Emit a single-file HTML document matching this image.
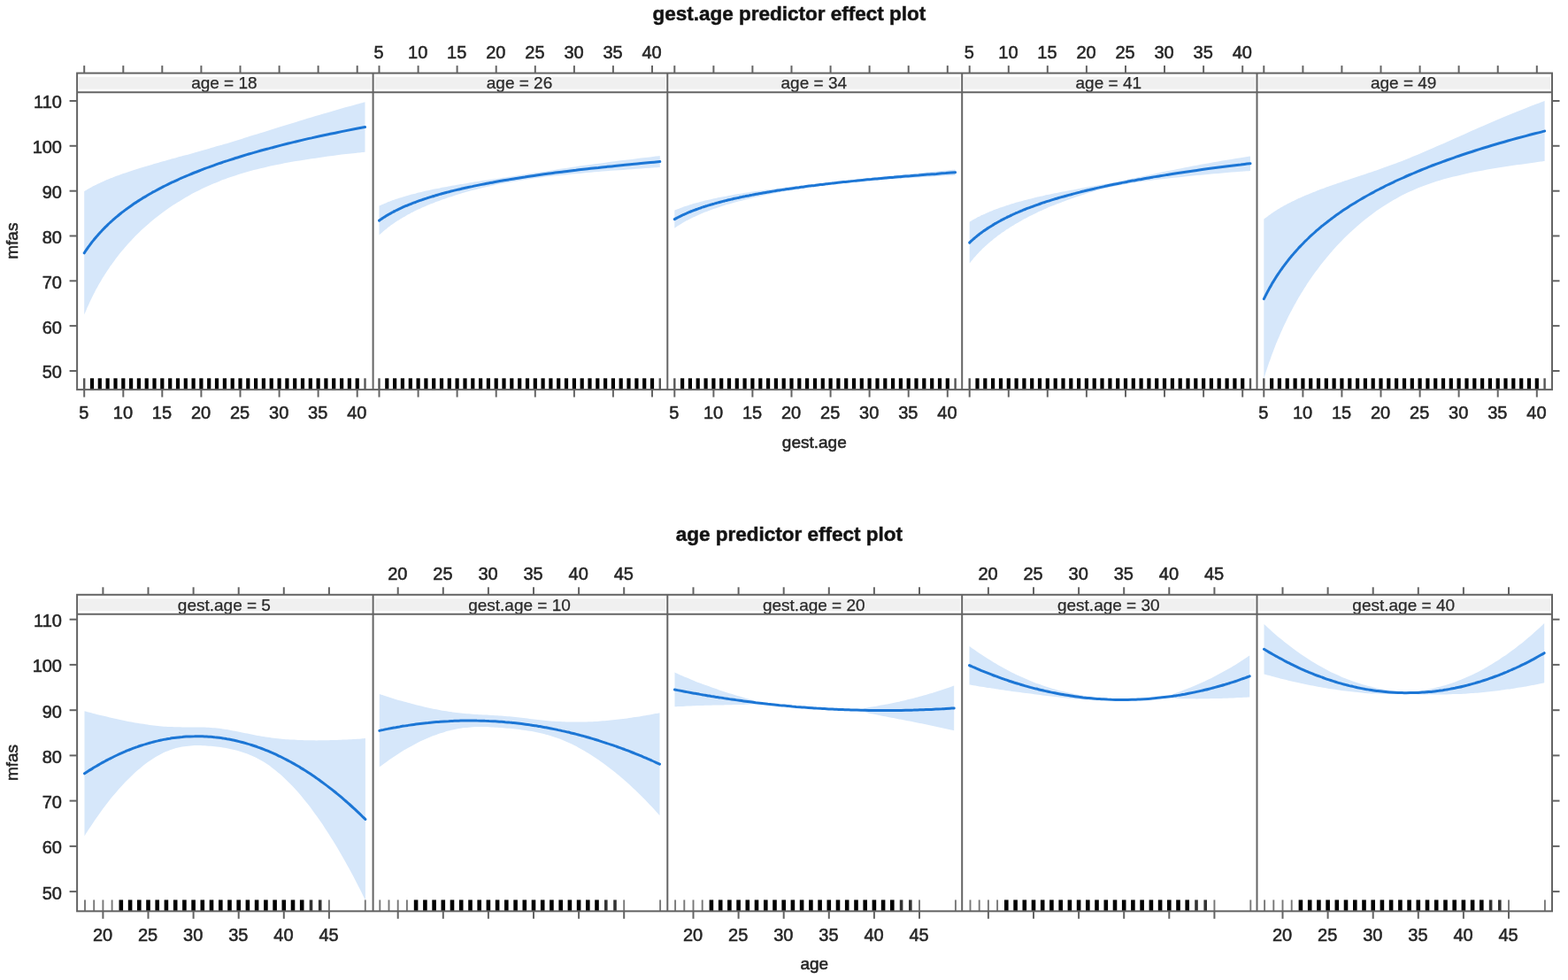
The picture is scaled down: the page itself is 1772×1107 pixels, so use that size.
<!DOCTYPE html><html><head><meta charset="utf-8"><title>effect plots</title><style>html,body{margin:0;padding:0;background:#fff}svg{display:block}text{font-family:"Liberation Sans",Arial,sans-serif;fill:#262626;stroke:#262626;stroke-width:0.55px}</style></head><body>
<div id="wrap">
<svg width="1772" height="1107" viewBox="0 0 1772 1107">
<rect width="1772" height="1107" fill="#fff"/>
<text x="891.8" y="22.5" text-anchor="middle" style="font-weight:bold;font-size:22.5px;fill:#111">gest.age predictor effect plot</text>
<rect x="89.1" y="87.1" width="330.5" height="13.6" fill="#f0f0f0"/>
<path d="M95.2,216.1 C95.4,216.0 96.1,215.6 96.6,215.3 C97.0,215.0 97.5,214.7 98.0,214.4 C98.4,214.1 98.9,213.9 99.4,213.6 C99.9,213.3 100.4,213.0 100.9,212.7 C101.4,212.4 101.9,212.1 102.5,211.9 C103.0,211.6 103.5,211.3 104.0,211.0 C104.6,210.7 105.1,210.4 105.7,210.1 C106.2,209.9 106.8,209.6 107.4,209.3 C107.9,209.0 108.5,208.7 109.1,208.4 C109.7,208.1 110.3,207.8 110.9,207.5 C111.5,207.2 112.1,207.0 112.8,206.7 C113.4,206.4 114.0,206.1 114.7,205.8 C115.3,205.5 116.0,205.2 116.6,204.9 C117.3,204.6 118.0,204.3 118.7,204.0 C119.4,203.7 120.1,203.4 120.8,203.1 C121.5,202.8 122.2,202.5 122.9,202.2 C123.6,201.9 124.4,201.6 125.1,201.3 C125.9,201.0 126.7,200.7 127.4,200.4 C128.2,200.1 129.0,199.8 129.8,199.5 C130.6,199.2 131.4,198.9 132.2,198.6 C133.1,198.3 133.9,198.0 134.7,197.7 C135.6,197.4 136.5,197.1 137.3,196.8 C138.2,196.4 139.1,196.1 140.0,195.8 C140.9,195.5 141.8,195.2 142.8,194.9 C143.7,194.6 144.6,194.2 145.6,193.9 C146.5,193.6 147.5,193.3 148.5,193.0 C149.5,192.6 150.5,192.3 151.5,192.0 C152.5,191.7 153.6,191.3 154.6,191.0 C155.7,190.7 156.8,190.3 157.8,190.0 C158.9,189.7 160.0,189.3 161.1,189.0 C162.3,188.7 163.4,188.3 164.6,188.0 C165.7,187.6 166.9,187.3 168.1,186.9 C169.3,186.6 170.5,186.2 171.7,185.9 C172.9,185.5 174.2,185.2 175.4,184.8 C176.7,184.5 178.0,184.1 179.3,183.7 C180.6,183.3 181.9,183.0 183.2,182.6 C184.6,182.2 185.9,181.8 187.3,181.5 C188.7,181.1 190.1,180.7 191.5,180.3 C193.0,179.9 194.4,179.5 195.9,179.1 C197.4,178.7 198.9,178.3 200.4,177.8 C201.9,177.4 203.4,177.0 205.0,176.6 C206.6,176.1 208.1,175.7 209.8,175.3 C211.4,174.8 213.0,174.4 214.7,173.9 C216.3,173.4 218.0,173.0 219.7,172.5 C221.4,172.0 223.2,171.5 225.0,171.0 C226.7,170.5 228.5,170.0 230.3,169.5 C232.2,169.0 234.0,168.5 235.9,167.9 C237.8,167.4 239.7,166.8 241.6,166.3 C243.5,165.7 245.5,165.1 247.5,164.6 C249.5,164.0 251.5,163.4 253.6,162.8 C255.6,162.2 257.7,161.5 259.9,160.9 C262.0,160.3 264.1,159.6 266.3,158.9 C268.5,158.3 270.7,157.6 273.0,156.9 C275.2,156.2 277.5,155.5 279.8,154.8 C282.2,154.1 284.5,153.3 286.9,152.6 C289.3,151.9 291.8,151.1 294.2,150.3 C296.7,149.6 299.2,148.8 301.8,148.0 C304.3,147.2 306.9,146.4 309.5,145.5 C312.1,144.7 314.8,143.9 317.5,143.1 C320.2,142.2 323.0,141.4 325.8,140.5 C328.6,139.6 331.4,138.8 334.3,137.9 C337.2,137.0 340.1,136.1 343.0,135.2 C346.0,134.3 349.0,133.4 352.1,132.5 C355.1,131.5 358.2,130.6 361.4,129.7 C364.6,128.7 367.8,127.8 371.0,126.9 C374.3,125.9 377.6,125.0 380.9,124.0 C384.3,123.0 387.7,122.1 391.1,121.1 C394.6,120.1 398.1,119.1 401.7,118.2 C405.2,117.2 410.7,115.7 412.5,115.2 L412.5,171.8 C410.7,172.0 405.2,172.5 401.7,172.9 C398.1,173.3 394.6,173.7 391.1,174.1 C387.7,174.5 384.3,174.9 380.9,175.3 C377.6,175.8 374.3,176.2 371.0,176.6 C367.8,177.0 364.6,177.5 361.4,177.9 C358.2,178.4 355.1,178.8 352.1,179.3 C349.0,179.7 346.0,180.2 343.0,180.7 C340.1,181.1 337.2,181.6 334.3,182.1 C331.4,182.6 328.6,183.1 325.8,183.6 C323.0,184.1 320.2,184.6 317.5,185.2 C314.8,185.7 312.1,186.2 309.5,186.8 C306.9,187.4 304.3,187.9 301.8,188.5 C299.2,189.1 296.7,189.7 294.2,190.3 C291.8,190.9 289.3,191.5 286.9,192.1 C284.5,192.7 282.2,193.4 279.8,194.0 C277.5,194.7 275.2,195.4 273.0,196.1 C270.7,196.7 268.5,197.4 266.3,198.2 C264.1,198.9 262.0,199.6 259.9,200.3 C257.7,201.1 255.6,201.8 253.6,202.6 C251.5,203.3 249.5,204.1 247.5,204.9 C245.5,205.7 243.5,206.5 241.6,207.3 C239.7,208.1 237.8,209.0 235.9,209.8 C234.0,210.6 232.2,211.5 230.3,212.3 C228.5,213.2 226.7,214.1 225.0,214.9 C223.2,215.8 221.4,216.7 219.7,217.6 C218.0,218.5 216.3,219.4 214.7,220.3 C213.0,221.2 211.4,222.2 209.8,223.1 C208.1,224.0 206.6,225.0 205.0,225.9 C203.4,226.8 201.9,227.8 200.4,228.8 C198.9,229.7 197.4,230.7 195.9,231.6 C194.4,232.6 193.0,233.6 191.5,234.6 C190.1,235.5 188.7,236.5 187.3,237.5 C185.9,238.5 184.6,239.5 183.2,240.5 C181.9,241.5 180.6,242.5 179.3,243.5 C178.0,244.5 176.7,245.5 175.4,246.5 C174.2,247.6 172.9,248.6 171.7,249.6 C170.5,250.6 169.3,251.6 168.1,252.7 C166.9,253.7 165.7,254.7 164.6,255.7 C163.4,256.8 162.3,257.8 161.1,258.8 C160.0,259.9 158.9,260.9 157.8,262.0 C156.8,263.0 155.7,264.0 154.6,265.1 C153.6,266.1 152.5,267.2 151.5,268.2 C150.5,269.3 149.5,270.3 148.5,271.4 C147.5,272.4 146.5,273.5 145.6,274.6 C144.6,275.6 143.7,276.7 142.8,277.7 C141.8,278.8 140.9,279.8 140.0,280.9 C139.1,282.0 138.2,283.0 137.3,284.1 C136.5,285.2 135.6,286.2 134.7,287.3 C133.9,288.4 133.1,289.4 132.2,290.5 C131.4,291.6 130.6,292.6 129.8,293.7 C129.0,294.8 128.2,295.9 127.4,296.9 C126.7,298.0 125.9,299.1 125.1,300.1 C124.4,301.2 123.6,302.3 122.9,303.4 C122.2,304.5 121.5,305.5 120.8,306.6 C120.1,307.7 119.4,308.8 118.7,309.8 C118.0,310.9 117.3,312.0 116.6,313.1 C116.0,314.2 115.3,315.2 114.7,316.3 C114.0,317.4 113.4,318.5 112.8,319.6 C112.1,320.7 111.5,321.7 110.9,322.8 C110.3,323.9 109.7,325.0 109.1,326.1 C108.5,327.2 107.9,328.2 107.4,329.3 C106.8,330.4 106.2,331.5 105.7,332.6 C105.1,333.7 104.6,334.8 104.0,335.9 C103.5,336.9 103.0,338.0 102.5,339.1 C101.9,340.2 101.4,341.3 100.9,342.4 C100.4,343.5 99.9,344.6 99.4,345.7 C98.9,346.7 98.4,347.8 98.0,348.9 C97.5,350.0 97.0,351.1 96.6,352.2 C96.1,353.3 95.4,354.9 95.2,355.5 Z" fill="#d6e7fa"/>
<path d="M95.2,285.8 C95.4,285.5 96.1,284.4 96.6,283.7 C97.0,283.1 97.5,282.4 98.0,281.7 C98.4,281.0 98.9,280.3 99.4,279.6 C99.9,278.9 100.4,278.2 100.9,277.6 C101.4,276.9 101.9,276.2 102.5,275.5 C103.0,274.8 103.5,274.1 104.0,273.4 C104.6,272.7 105.1,272.1 105.7,271.4 C106.2,270.7 106.8,270.0 107.4,269.3 C107.9,268.6 108.5,267.9 109.1,267.2 C109.7,266.6 110.3,265.9 110.9,265.2 C111.5,264.5 112.1,263.8 112.8,263.1 C113.4,262.4 114.0,261.7 114.7,261.1 C115.3,260.4 116.0,259.7 116.6,259.0 C117.3,258.3 118.0,257.6 118.7,256.9 C119.4,256.2 120.1,255.6 120.8,254.9 C121.5,254.2 122.2,253.5 122.9,252.8 C123.6,252.1 124.4,251.4 125.1,250.7 C125.9,250.1 126.7,249.4 127.4,248.7 C128.2,248.0 129.0,247.3 129.8,246.6 C130.6,245.9 131.4,245.2 132.2,244.6 C133.1,243.9 133.9,243.2 134.7,242.5 C135.6,241.8 136.5,241.1 137.3,240.4 C138.2,239.7 139.1,239.1 140.0,238.4 C140.9,237.7 141.8,237.0 142.8,236.3 C143.7,235.6 144.6,234.9 145.6,234.2 C146.5,233.6 147.5,232.9 148.5,232.2 C149.5,231.5 150.5,230.8 151.5,230.1 C152.5,229.4 153.6,228.7 154.6,228.1 C155.7,227.4 156.8,226.7 157.8,226.0 C158.9,225.3 160.0,224.6 161.1,223.9 C162.3,223.2 163.4,222.6 164.6,221.9 C165.7,221.2 166.9,220.5 168.1,219.8 C169.3,219.1 170.5,218.4 171.7,217.7 C172.9,217.0 174.2,216.4 175.4,215.7 C176.7,215.0 178.0,214.3 179.3,213.6 C180.6,212.9 181.9,212.2 183.2,211.5 C184.6,210.9 185.9,210.2 187.3,209.5 C188.7,208.8 190.1,208.1 191.5,207.4 C193.0,206.7 194.4,206.0 195.9,205.4 C197.4,204.7 198.9,204.0 200.4,203.3 C201.9,202.6 203.4,201.9 205.0,201.2 C206.6,200.5 208.1,199.9 209.8,199.2 C211.4,198.5 213.0,197.8 214.7,197.1 C216.3,196.4 218.0,195.7 219.7,195.0 C221.4,194.4 223.2,193.7 225.0,193.0 C226.7,192.3 228.5,191.6 230.3,190.9 C232.2,190.2 234.0,189.5 235.9,188.9 C237.8,188.2 239.7,187.5 241.6,186.8 C243.5,186.1 245.5,185.4 247.5,184.7 C249.5,184.0 251.5,183.4 253.6,182.7 C255.6,182.0 257.7,181.3 259.9,180.6 C262.0,179.9 264.1,179.2 266.3,178.5 C268.5,177.9 270.7,177.2 273.0,176.5 C275.2,175.8 277.5,175.1 279.8,174.4 C282.2,173.7 284.5,173.0 286.9,172.4 C289.3,171.7 291.8,171.0 294.2,170.3 C296.7,169.6 299.2,168.9 301.8,168.2 C304.3,167.5 306.9,166.9 309.5,166.2 C312.1,165.5 314.8,164.8 317.5,164.1 C320.2,163.4 323.0,162.7 325.8,162.0 C328.6,161.4 331.4,160.7 334.3,160.0 C337.2,159.3 340.1,158.6 343.0,157.9 C346.0,157.2 349.0,156.5 352.1,155.9 C355.1,155.2 358.2,154.5 361.4,153.8 C364.6,153.1 367.8,152.4 371.0,151.7 C374.3,151.0 377.6,150.4 380.9,149.7 C384.3,149.0 387.7,148.3 391.1,147.6 C394.6,146.9 398.1,146.2 401.7,145.5 C405.2,144.9 410.7,143.8 412.5,143.5" fill="none" stroke="#1c76d5" stroke-width="3" stroke-linecap="round" stroke-linejoin="round"/>
<line x1="95.2" y1="427.3" x2="95.2" y2="440.1" stroke="#555" stroke-width="2.4"/>
<line x1="104.0" y1="427.3" x2="104.0" y2="440.1" stroke="#000" stroke-width="4.2"/>
<line x1="112.8" y1="427.3" x2="112.8" y2="440.1" stroke="#000" stroke-width="4.2"/>
<line x1="121.6" y1="427.3" x2="121.6" y2="440.1" stroke="#000" stroke-width="4.2"/>
<line x1="130.5" y1="427.3" x2="130.5" y2="440.1" stroke="#000" stroke-width="4.2"/>
<line x1="139.3" y1="427.3" x2="139.3" y2="440.1" stroke="#000" stroke-width="4.2"/>
<line x1="148.1" y1="427.3" x2="148.1" y2="440.1" stroke="#000" stroke-width="4.2"/>
<line x1="156.9" y1="427.3" x2="156.9" y2="440.1" stroke="#000" stroke-width="4.2"/>
<line x1="165.7" y1="427.3" x2="165.7" y2="440.1" stroke="#000" stroke-width="4.2"/>
<line x1="174.5" y1="427.3" x2="174.5" y2="440.1" stroke="#000" stroke-width="4.2"/>
<line x1="183.3" y1="427.3" x2="183.3" y2="440.1" stroke="#000" stroke-width="4.2"/>
<line x1="192.2" y1="427.3" x2="192.2" y2="440.1" stroke="#000" stroke-width="4.2"/>
<line x1="201.0" y1="427.3" x2="201.0" y2="440.1" stroke="#000" stroke-width="4.2"/>
<line x1="209.8" y1="427.3" x2="209.8" y2="440.1" stroke="#000" stroke-width="4.2"/>
<line x1="218.6" y1="427.3" x2="218.6" y2="440.1" stroke="#000" stroke-width="4.2"/>
<line x1="227.4" y1="427.3" x2="227.4" y2="440.1" stroke="#000" stroke-width="4.2"/>
<line x1="236.2" y1="427.3" x2="236.2" y2="440.1" stroke="#000" stroke-width="4.2"/>
<line x1="245.0" y1="427.3" x2="245.0" y2="440.1" stroke="#000" stroke-width="4.2"/>
<line x1="253.9" y1="427.3" x2="253.9" y2="440.1" stroke="#000" stroke-width="4.2"/>
<line x1="262.7" y1="427.3" x2="262.7" y2="440.1" stroke="#000" stroke-width="4.2"/>
<line x1="271.5" y1="427.3" x2="271.5" y2="440.1" stroke="#000" stroke-width="4.2"/>
<line x1="280.3" y1="427.3" x2="280.3" y2="440.1" stroke="#000" stroke-width="4.2"/>
<line x1="289.1" y1="427.3" x2="289.1" y2="440.1" stroke="#000" stroke-width="4.2"/>
<line x1="297.9" y1="427.3" x2="297.9" y2="440.1" stroke="#000" stroke-width="4.2"/>
<line x1="306.7" y1="427.3" x2="306.7" y2="440.1" stroke="#000" stroke-width="4.2"/>
<line x1="315.6" y1="427.3" x2="315.6" y2="440.1" stroke="#000" stroke-width="4.2"/>
<line x1="324.4" y1="427.3" x2="324.4" y2="440.1" stroke="#000" stroke-width="4.2"/>
<line x1="333.2" y1="427.3" x2="333.2" y2="440.1" stroke="#000" stroke-width="4.2"/>
<line x1="342.0" y1="427.3" x2="342.0" y2="440.1" stroke="#000" stroke-width="4.2"/>
<line x1="350.8" y1="427.3" x2="350.8" y2="440.1" stroke="#000" stroke-width="4.2"/>
<line x1="359.6" y1="427.3" x2="359.6" y2="440.1" stroke="#000" stroke-width="4.2"/>
<line x1="368.4" y1="427.3" x2="368.4" y2="440.1" stroke="#000" stroke-width="4.2"/>
<line x1="377.2" y1="427.3" x2="377.2" y2="440.1" stroke="#000" stroke-width="4.2"/>
<line x1="386.1" y1="427.3" x2="386.1" y2="440.1" stroke="#000" stroke-width="4.2"/>
<line x1="394.9" y1="427.3" x2="394.9" y2="440.1" stroke="#000" stroke-width="4.2"/>
<line x1="403.7" y1="427.3" x2="403.7" y2="440.1" stroke="#000" stroke-width="4.2"/>
<line x1="412.5" y1="427.3" x2="412.5" y2="440.1" stroke="#555" stroke-width="2.4"/>
<text x="253.4" y="100.3" text-anchor="middle" style="font-size:19px;fill:#2a2a2a;stroke:#2a2a2a;stroke-width:0.25px">age = 18</text>
<rect x="423.6" y="87.1" width="328.7" height="13.6" fill="#f0f0f0"/>
<path d="M428.5,232.6 C428.7,232.5 429.4,232.2 429.9,232.0 C430.3,231.8 430.8,231.6 431.3,231.3 C431.7,231.1 432.2,230.9 432.7,230.7 C433.2,230.5 433.7,230.3 434.2,230.0 C434.7,229.8 435.2,229.6 435.8,229.4 C436.3,229.2 436.8,229.0 437.3,228.7 C437.9,228.5 438.4,228.3 439.0,228.1 C439.5,227.9 440.1,227.6 440.7,227.4 C441.2,227.2 441.8,227.0 442.4,226.8 C443.0,226.6 443.6,226.3 444.2,226.1 C444.8,225.9 445.4,225.7 446.1,225.5 C446.7,225.3 447.3,225.0 448.0,224.8 C448.6,224.6 449.3,224.4 449.9,224.2 C450.6,223.9 451.3,223.7 452.0,223.5 C452.7,223.3 453.4,223.1 454.1,222.9 C454.8,222.6 455.5,222.4 456.2,222.2 C456.9,222.0 457.7,221.8 458.4,221.5 C459.2,221.3 460.0,221.1 460.7,220.9 C461.5,220.7 462.3,220.4 463.1,220.2 C463.9,220.0 464.7,219.8 465.5,219.6 C466.4,219.3 467.2,219.1 468.0,218.9 C468.9,218.7 469.8,218.5 470.6,218.2 C471.5,218.0 472.4,217.8 473.3,217.6 C474.2,217.4 475.1,217.1 476.1,216.9 C477.0,216.7 477.9,216.5 478.9,216.3 C479.8,216.0 480.8,215.8 481.8,215.6 C482.8,215.4 483.8,215.1 484.8,214.9 C485.8,214.7 486.9,214.5 487.9,214.3 C489.0,214.0 490.1,213.8 491.1,213.6 C492.2,213.4 493.3,213.1 494.4,212.9 C495.6,212.7 496.7,212.5 497.9,212.2 C499.0,212.0 500.2,211.8 501.4,211.6 C502.6,211.3 503.8,211.1 505.0,210.9 C506.2,210.7 507.5,210.4 508.7,210.2 C510.0,210.0 511.3,209.7 512.6,209.5 C513.9,209.3 515.2,209.1 516.5,208.8 C517.9,208.6 519.2,208.4 520.6,208.1 C522.0,207.9 523.4,207.7 524.8,207.4 C526.3,207.2 527.7,207.0 529.2,206.7 C530.7,206.5 532.2,206.2 533.7,206.0 C535.2,205.8 536.7,205.5 538.3,205.3 C539.9,205.0 541.4,204.8 543.1,204.5 C544.7,204.3 546.3,204.0 548.0,203.8 C549.6,203.5 551.3,203.3 553.0,203.0 C554.7,202.8 556.5,202.5 558.3,202.2 C560.0,202.0 561.8,201.7 563.6,201.4 C565.5,201.2 567.3,200.9 569.2,200.6 C571.1,200.3 573.0,200.0 574.9,199.7 C576.8,199.5 578.8,199.2 580.8,198.9 C582.8,198.6 584.8,198.3 586.9,197.9 C588.9,197.6 591.0,197.3 593.2,197.0 C595.3,196.7 597.4,196.3 599.6,196.0 C601.8,195.7 604.0,195.3 606.3,195.0 C608.5,194.7 610.8,194.3 613.1,193.9 C615.5,193.6 617.8,193.2 620.2,192.9 C622.6,192.5 625.1,192.1 627.5,191.8 C630.0,191.4 632.5,191.0 635.1,190.6 C637.6,190.3 640.2,189.9 642.8,189.5 C645.4,189.1 648.1,188.7 650.8,188.3 C653.5,187.9 656.3,187.5 659.1,187.1 C661.9,186.8 664.7,186.4 667.6,186.0 C670.5,185.6 673.4,185.2 676.3,184.8 C679.3,184.4 682.3,183.9 685.4,183.5 C688.4,183.1 691.5,182.7 694.7,182.3 C697.9,181.9 701.1,181.5 704.3,181.1 C707.6,180.7 710.9,180.3 714.2,179.9 C717.6,179.5 721.0,179.0 724.4,178.6 C727.9,178.2 731.4,177.8 735.0,177.4 C738.5,177.0 744.0,176.4 745.8,176.1 L745.8,189.1 C744.0,189.2 738.5,189.5 735.0,189.8 C731.4,190.0 727.9,190.2 724.4,190.5 C721.0,190.7 717.6,190.9 714.2,191.2 C710.9,191.4 707.6,191.6 704.3,191.9 C701.1,192.1 697.9,192.3 694.7,192.6 C691.5,192.8 688.4,193.0 685.4,193.3 C682.3,193.5 679.3,193.7 676.3,194.0 C673.4,194.2 670.5,194.5 667.6,194.7 C664.7,194.9 661.9,195.2 659.1,195.4 C656.3,195.7 653.5,195.9 650.8,196.2 C648.1,196.4 645.4,196.7 642.8,196.9 C640.2,197.2 637.6,197.5 635.1,197.7 C632.5,198.0 630.0,198.3 627.5,198.5 C625.1,198.8 622.6,199.1 620.2,199.3 C617.8,199.6 615.5,199.9 613.1,200.2 C610.8,200.5 608.5,200.8 606.3,201.1 C604.0,201.4 601.8,201.7 599.6,202.0 C597.4,202.3 595.3,202.6 593.2,202.9 C591.0,203.3 588.9,203.6 586.9,203.9 C584.8,204.2 582.8,204.6 580.8,204.9 C578.8,205.3 576.8,205.6 574.9,206.0 C573.0,206.3 571.1,206.7 569.2,207.0 C567.3,207.4 565.5,207.8 563.6,208.1 C561.8,208.5 560.0,208.9 558.3,209.3 C556.5,209.6 554.7,210.0 553.0,210.4 C551.3,210.8 549.6,211.2 548.0,211.6 C546.3,212.0 544.7,212.3 543.1,212.7 C541.4,213.1 539.9,213.5 538.3,213.9 C536.7,214.3 535.2,214.7 533.7,215.1 C532.2,215.5 530.7,215.9 529.2,216.3 C527.7,216.7 526.3,217.1 524.8,217.6 C523.4,218.0 522.0,218.4 520.6,218.8 C519.2,219.2 517.9,219.6 516.5,220.0 C515.2,220.4 513.9,220.8 512.6,221.2 C511.3,221.7 510.0,222.1 508.7,222.5 C507.5,222.9 506.2,223.3 505.0,223.7 C503.8,224.1 502.6,224.6 501.4,225.0 C500.2,225.4 499.0,225.8 497.9,226.2 C496.7,226.6 495.6,227.1 494.4,227.5 C493.3,227.9 492.2,228.3 491.1,228.7 C490.1,229.2 489.0,229.6 487.9,230.0 C486.9,230.4 485.8,230.8 484.8,231.3 C483.8,231.7 482.8,232.1 481.8,232.5 C480.8,232.9 479.8,233.4 478.9,233.8 C477.9,234.2 477.0,234.6 476.1,235.0 C475.1,235.5 474.2,235.9 473.3,236.3 C472.4,236.7 471.5,237.1 470.6,237.6 C469.8,238.0 468.9,238.4 468.0,238.8 C467.2,239.3 466.4,239.7 465.5,240.1 C464.7,240.5 463.9,240.9 463.1,241.4 C462.3,241.8 461.5,242.2 460.7,242.6 C460.0,243.1 459.2,243.5 458.4,243.9 C457.7,244.3 456.9,244.8 456.2,245.2 C455.5,245.6 454.8,246.0 454.1,246.5 C453.4,246.9 452.7,247.3 452.0,247.7 C451.3,248.1 450.6,248.6 449.9,249.0 C449.3,249.4 448.6,249.8 448.0,250.3 C447.3,250.7 446.7,251.1 446.1,251.5 C445.4,252.0 444.8,252.4 444.2,252.8 C443.6,253.2 443.0,253.7 442.4,254.1 C441.8,254.5 441.2,254.9 440.7,255.4 C440.1,255.8 439.5,256.2 439.0,256.6 C438.4,257.1 437.9,257.5 437.3,257.9 C436.8,258.3 436.3,258.8 435.8,259.2 C435.2,259.6 434.7,260.0 434.2,260.5 C433.7,260.9 433.2,261.3 432.7,261.7 C432.2,262.2 431.7,262.6 431.3,263.0 C430.8,263.4 430.3,263.9 429.9,264.3 C429.4,264.7 428.7,265.4 428.5,265.6 Z" fill="#d6e7fa"/>
<path d="M428.5,249.1 C428.7,248.9 429.4,248.5 429.9,248.1 C430.3,247.8 430.8,247.5 431.3,247.2 C431.7,246.9 432.2,246.5 432.7,246.2 C433.2,245.9 433.7,245.6 434.2,245.3 C434.7,244.9 435.2,244.6 435.8,244.3 C436.3,244.0 436.8,243.6 437.3,243.3 C437.9,243.0 438.4,242.7 439.0,242.4 C439.5,242.0 440.1,241.7 440.7,241.4 C441.2,241.1 441.8,240.8 442.4,240.4 C443.0,240.1 443.6,239.8 444.2,239.5 C444.8,239.1 445.4,238.8 446.1,238.5 C446.7,238.2 447.3,237.9 448.0,237.5 C448.6,237.2 449.3,236.9 449.9,236.6 C450.6,236.3 451.3,235.9 452.0,235.6 C452.7,235.3 453.4,235.0 454.1,234.7 C454.8,234.3 455.5,234.0 456.2,233.7 C456.9,233.4 457.7,233.0 458.4,232.7 C459.2,232.4 460.0,232.1 460.7,231.8 C461.5,231.4 462.3,231.1 463.1,230.8 C463.9,230.5 464.7,230.2 465.5,229.8 C466.4,229.5 467.2,229.2 468.0,228.9 C468.9,228.6 469.8,228.2 470.6,227.9 C471.5,227.6 472.4,227.3 473.3,226.9 C474.2,226.6 475.1,226.3 476.1,226.0 C477.0,225.7 477.9,225.3 478.9,225.0 C479.8,224.7 480.8,224.4 481.8,224.1 C482.8,223.7 483.8,223.4 484.8,223.1 C485.8,222.8 486.9,222.4 487.9,222.1 C489.0,221.8 490.1,221.5 491.1,221.2 C492.2,220.8 493.3,220.5 494.4,220.2 C495.6,219.9 496.7,219.6 497.9,219.2 C499.0,218.9 500.2,218.6 501.4,218.3 C502.6,218.0 503.8,217.6 505.0,217.3 C506.2,217.0 507.5,216.7 508.7,216.3 C510.0,216.0 511.3,215.7 512.6,215.4 C513.9,215.1 515.2,214.7 516.5,214.4 C517.9,214.1 519.2,213.8 520.6,213.5 C522.0,213.1 523.4,212.8 524.8,212.5 C526.3,212.2 527.7,211.8 529.2,211.5 C530.7,211.2 532.2,210.9 533.7,210.6 C535.2,210.2 536.7,209.9 538.3,209.6 C539.9,209.3 541.4,209.0 543.1,208.6 C544.7,208.3 546.3,208.0 548.0,207.7 C549.6,207.4 551.3,207.0 553.0,206.7 C554.7,206.4 556.5,206.1 558.3,205.7 C560.0,205.4 561.8,205.1 563.6,204.8 C565.5,204.5 567.3,204.1 569.2,203.8 C571.1,203.5 573.0,203.2 574.9,202.9 C576.8,202.5 578.8,202.2 580.8,201.9 C582.8,201.6 584.8,201.2 586.9,200.9 C588.9,200.6 591.0,200.3 593.2,200.0 C595.3,199.6 597.4,199.3 599.6,199.0 C601.8,198.7 604.0,198.4 606.3,198.0 C608.5,197.7 610.8,197.4 613.1,197.1 C615.5,196.8 617.8,196.4 620.2,196.1 C622.6,195.8 625.1,195.5 627.5,195.1 C630.0,194.8 632.5,194.5 635.1,194.2 C637.6,193.9 640.2,193.5 642.8,193.2 C645.4,192.9 648.1,192.6 650.8,192.3 C653.5,191.9 656.3,191.6 659.1,191.3 C661.9,191.0 664.7,190.7 667.6,190.3 C670.5,190.0 673.4,189.7 676.3,189.4 C679.3,189.0 682.3,188.7 685.4,188.4 C688.4,188.1 691.5,187.8 694.7,187.4 C697.9,187.1 701.1,186.8 704.3,186.5 C707.6,186.2 710.9,185.8 714.2,185.5 C717.6,185.2 721.0,184.9 724.4,184.5 C727.9,184.2 731.4,183.9 735.0,183.6 C738.5,183.3 744.0,182.8 745.8,182.6" fill="none" stroke="#1c76d5" stroke-width="3" stroke-linecap="round" stroke-linejoin="round"/>
<line x1="428.5" y1="427.3" x2="428.5" y2="440.1" stroke="#555" stroke-width="2.4"/>
<line x1="437.3" y1="427.3" x2="437.3" y2="440.1" stroke="#000" stroke-width="4.2"/>
<line x1="446.1" y1="427.3" x2="446.1" y2="440.1" stroke="#000" stroke-width="4.2"/>
<line x1="454.9" y1="427.3" x2="454.9" y2="440.1" stroke="#000" stroke-width="4.2"/>
<line x1="463.8" y1="427.3" x2="463.8" y2="440.1" stroke="#000" stroke-width="4.2"/>
<line x1="472.6" y1="427.3" x2="472.6" y2="440.1" stroke="#000" stroke-width="4.2"/>
<line x1="481.4" y1="427.3" x2="481.4" y2="440.1" stroke="#000" stroke-width="4.2"/>
<line x1="490.2" y1="427.3" x2="490.2" y2="440.1" stroke="#000" stroke-width="4.2"/>
<line x1="499.0" y1="427.3" x2="499.0" y2="440.1" stroke="#000" stroke-width="4.2"/>
<line x1="507.8" y1="427.3" x2="507.8" y2="440.1" stroke="#000" stroke-width="4.2"/>
<line x1="516.6" y1="427.3" x2="516.6" y2="440.1" stroke="#000" stroke-width="4.2"/>
<line x1="525.5" y1="427.3" x2="525.5" y2="440.1" stroke="#000" stroke-width="4.2"/>
<line x1="534.3" y1="427.3" x2="534.3" y2="440.1" stroke="#000" stroke-width="4.2"/>
<line x1="543.1" y1="427.3" x2="543.1" y2="440.1" stroke="#000" stroke-width="4.2"/>
<line x1="551.9" y1="427.3" x2="551.9" y2="440.1" stroke="#000" stroke-width="4.2"/>
<line x1="560.7" y1="427.3" x2="560.7" y2="440.1" stroke="#000" stroke-width="4.2"/>
<line x1="569.5" y1="427.3" x2="569.5" y2="440.1" stroke="#000" stroke-width="4.2"/>
<line x1="578.3" y1="427.3" x2="578.3" y2="440.1" stroke="#000" stroke-width="4.2"/>
<line x1="587.2" y1="427.3" x2="587.2" y2="440.1" stroke="#000" stroke-width="4.2"/>
<line x1="596.0" y1="427.3" x2="596.0" y2="440.1" stroke="#000" stroke-width="4.2"/>
<line x1="604.8" y1="427.3" x2="604.8" y2="440.1" stroke="#000" stroke-width="4.2"/>
<line x1="613.6" y1="427.3" x2="613.6" y2="440.1" stroke="#000" stroke-width="4.2"/>
<line x1="622.4" y1="427.3" x2="622.4" y2="440.1" stroke="#000" stroke-width="4.2"/>
<line x1="631.2" y1="427.3" x2="631.2" y2="440.1" stroke="#000" stroke-width="4.2"/>
<line x1="640.0" y1="427.3" x2="640.0" y2="440.1" stroke="#000" stroke-width="4.2"/>
<line x1="648.9" y1="427.3" x2="648.9" y2="440.1" stroke="#000" stroke-width="4.2"/>
<line x1="657.7" y1="427.3" x2="657.7" y2="440.1" stroke="#000" stroke-width="4.2"/>
<line x1="666.5" y1="427.3" x2="666.5" y2="440.1" stroke="#000" stroke-width="4.2"/>
<line x1="675.3" y1="427.3" x2="675.3" y2="440.1" stroke="#000" stroke-width="4.2"/>
<line x1="684.1" y1="427.3" x2="684.1" y2="440.1" stroke="#000" stroke-width="4.2"/>
<line x1="692.9" y1="427.3" x2="692.9" y2="440.1" stroke="#000" stroke-width="4.2"/>
<line x1="701.7" y1="427.3" x2="701.7" y2="440.1" stroke="#000" stroke-width="4.2"/>
<line x1="710.5" y1="427.3" x2="710.5" y2="440.1" stroke="#000" stroke-width="4.2"/>
<line x1="719.4" y1="427.3" x2="719.4" y2="440.1" stroke="#000" stroke-width="4.2"/>
<line x1="728.2" y1="427.3" x2="728.2" y2="440.1" stroke="#000" stroke-width="4.2"/>
<line x1="737.0" y1="427.3" x2="737.0" y2="440.1" stroke="#000" stroke-width="4.2"/>
<line x1="745.8" y1="427.3" x2="745.8" y2="440.1" stroke="#555" stroke-width="2.4"/>
<text x="587.0" y="100.3" text-anchor="middle" style="font-size:19px;fill:#2a2a2a;stroke:#2a2a2a;stroke-width:0.25px">age = 26</text>
<rect x="756.3" y="87.1" width="328.9" height="13.6" fill="#f0f0f0"/>
<path d="M762.3,237.7 C762.5,237.6 763.2,237.3 763.7,237.1 C764.1,236.9 764.6,236.7 765.1,236.5 C765.5,236.3 766.0,236.1 766.5,235.9 C767.0,235.7 767.5,235.5 768.0,235.4 C768.5,235.2 769.0,235.0 769.6,234.8 C770.1,234.6 770.6,234.4 771.1,234.2 C771.7,234.0 772.2,233.8 772.8,233.6 C773.3,233.4 773.9,233.2 774.5,233.0 C775.0,232.8 775.6,232.6 776.2,232.4 C776.8,232.3 777.4,232.1 778.0,231.9 C778.6,231.7 779.2,231.5 779.9,231.3 C780.5,231.1 781.1,230.9 781.8,230.7 C782.4,230.5 783.1,230.3 783.7,230.1 C784.4,229.9 785.1,229.7 785.8,229.5 C786.5,229.3 787.2,229.1 787.9,229.0 C788.6,228.8 789.3,228.6 790.0,228.4 C790.7,228.2 791.5,228.0 792.2,227.8 C793.0,227.6 793.8,227.4 794.5,227.2 C795.3,227.0 796.1,226.8 796.9,226.6 C797.7,226.4 798.5,226.2 799.3,226.0 C800.2,225.8 801.0,225.6 801.8,225.5 C802.7,225.3 803.6,225.1 804.4,224.9 C805.3,224.7 806.2,224.5 807.1,224.3 C808.0,224.1 808.9,223.9 809.9,223.7 C810.8,223.5 811.7,223.3 812.7,223.1 C813.6,222.9 814.6,222.7 815.6,222.5 C816.6,222.3 817.6,222.1 818.6,221.9 C819.6,221.7 820.7,221.6 821.7,221.4 C822.8,221.2 823.9,221.0 824.9,220.8 C826.0,220.6 827.1,220.4 828.2,220.2 C829.4,220.0 830.5,219.8 831.7,219.6 C832.8,219.4 834.0,219.2 835.2,219.0 C836.4,218.8 837.6,218.6 838.8,218.4 C840.0,218.2 841.3,218.0 842.5,217.8 C843.8,217.6 845.1,217.4 846.4,217.2 C847.7,217.0 849.0,216.8 850.3,216.6 C851.7,216.4 853.0,216.3 854.4,216.1 C855.8,215.9 857.2,215.7 858.6,215.5 C860.1,215.3 861.5,215.1 863.0,214.9 C864.5,214.7 866.0,214.5 867.5,214.3 C869.0,214.1 870.5,213.9 872.1,213.7 C873.7,213.5 875.2,213.3 876.9,213.1 C878.5,212.9 880.1,212.7 881.8,212.5 C883.4,212.2 885.1,212.0 886.8,211.8 C888.5,211.6 890.3,211.4 892.1,211.2 C893.8,211.0 895.6,210.8 897.4,210.6 C899.3,210.4 901.1,210.2 903.0,210.0 C904.9,209.8 906.8,209.5 908.7,209.3 C910.6,209.1 912.6,208.9 914.6,208.7 C916.6,208.4 918.6,208.2 920.7,208.0 C922.7,207.8 924.8,207.5 927.0,207.3 C929.1,207.1 931.2,206.8 933.4,206.6 C935.6,206.3 937.8,206.1 940.1,205.8 C942.3,205.6 944.6,205.3 946.9,205.1 C949.3,204.8 951.6,204.5 954.0,204.3 C956.4,204.0 958.9,203.7 961.3,203.4 C963.8,203.2 966.3,202.9 968.9,202.6 C971.4,202.3 974.0,202.0 976.6,201.7 C979.2,201.4 981.9,201.1 984.6,200.9 C987.3,200.6 990.1,200.3 992.9,200.0 C995.7,199.7 998.5,199.4 1001.4,199.1 C1004.3,198.8 1007.2,198.5 1010.1,198.1 C1013.1,197.8 1016.1,197.5 1019.2,197.2 C1022.2,196.9 1025.3,196.6 1028.5,196.3 C1031.7,196.0 1034.9,195.7 1038.1,195.4 C1041.4,195.1 1044.7,194.8 1048.0,194.5 C1051.4,194.1 1054.8,193.8 1058.2,193.5 C1061.7,193.2 1065.2,192.9 1068.8,192.6 C1072.3,192.3 1077.8,191.8 1079.6,191.6 L1079.6,198.0 C1077.8,198.1 1072.3,198.4 1068.8,198.6 C1065.2,198.8 1061.7,199.0 1058.2,199.2 C1054.8,199.4 1051.4,199.6 1048.0,199.8 C1044.7,200.0 1041.4,200.2 1038.1,200.4 C1034.9,200.6 1031.7,200.8 1028.5,201.0 C1025.3,201.2 1022.2,201.4 1019.2,201.6 C1016.1,201.8 1013.1,202.0 1010.1,202.2 C1007.2,202.4 1004.3,202.6 1001.4,202.8 C998.5,203.0 995.7,203.3 992.9,203.5 C990.1,203.7 987.3,203.9 984.6,204.1 C981.9,204.3 979.2,204.5 976.6,204.8 C974.0,205.0 971.4,205.2 968.9,205.4 C966.3,205.7 963.8,205.9 961.3,206.1 C958.9,206.3 956.4,206.6 954.0,206.8 C951.6,207.1 949.3,207.3 946.9,207.6 C944.6,207.8 942.3,208.1 940.1,208.3 C937.8,208.6 935.6,208.8 933.4,209.1 C931.2,209.4 929.1,209.6 927.0,209.9 C924.8,210.2 922.7,210.5 920.7,210.8 C918.6,211.0 916.6,211.3 914.6,211.6 C912.6,211.9 910.6,212.2 908.7,212.5 C906.8,212.8 904.9,213.1 903.0,213.4 C901.1,213.7 899.3,214.0 897.4,214.3 C895.6,214.6 893.8,214.9 892.1,215.2 C890.3,215.5 888.5,215.8 886.8,216.1 C885.1,216.4 883.4,216.7 881.8,217.0 C880.1,217.3 878.5,217.6 876.9,218.0 C875.2,218.3 873.7,218.6 872.1,218.9 C870.5,219.2 869.0,219.5 867.5,219.8 C866.0,220.1 864.5,220.4 863.0,220.7 C861.5,221.1 860.1,221.4 858.6,221.7 C857.2,222.0 855.8,222.3 854.4,222.6 C853.0,222.9 851.7,223.2 850.3,223.6 C849.0,223.9 847.7,224.2 846.4,224.5 C845.1,224.8 843.8,225.1 842.5,225.4 C841.3,225.8 840.0,226.1 838.8,226.4 C837.6,226.7 836.4,227.0 835.2,227.3 C834.0,227.6 832.8,228.0 831.7,228.3 C830.5,228.6 829.4,228.9 828.2,229.2 C827.1,229.5 826.0,229.8 824.9,230.2 C823.9,230.5 822.8,230.8 821.7,231.1 C820.7,231.4 819.6,231.7 818.6,232.1 C817.6,232.4 816.6,232.7 815.6,233.0 C814.6,233.3 813.6,233.6 812.7,233.9 C811.7,234.3 810.8,234.6 809.9,234.9 C808.9,235.2 808.0,235.5 807.1,235.8 C806.2,236.2 805.3,236.5 804.4,236.8 C803.6,237.1 802.7,237.4 801.8,237.7 C801.0,238.1 800.2,238.4 799.3,238.7 C798.5,239.0 797.7,239.3 796.9,239.6 C796.1,240.0 795.3,240.3 794.5,240.6 C793.8,240.9 793.0,241.2 792.2,241.5 C791.5,241.8 790.7,242.2 790.0,242.5 C789.3,242.8 788.6,243.1 787.9,243.4 C787.2,243.7 786.5,244.1 785.8,244.4 C785.1,244.7 784.4,245.0 783.7,245.3 C783.1,245.6 782.4,246.0 781.8,246.3 C781.1,246.6 780.5,246.9 779.9,247.2 C779.2,247.5 778.6,247.9 778.0,248.2 C777.4,248.5 776.8,248.8 776.2,249.1 C775.6,249.4 775.0,249.8 774.5,250.1 C773.9,250.4 773.3,250.7 772.8,251.0 C772.2,251.3 771.7,251.7 771.1,252.0 C770.6,252.3 770.1,252.6 769.6,252.9 C769.0,253.2 768.5,253.6 768.0,253.9 C767.5,254.2 767.0,254.5 766.5,254.8 C766.0,255.1 765.5,255.5 765.1,255.8 C764.6,256.1 764.1,256.4 763.7,256.7 C763.2,257.1 762.5,257.5 762.3,257.7 Z" fill="#d6e7fa"/>
<path d="M762.3,247.7 C762.5,247.6 763.2,247.2 763.7,246.9 C764.1,246.7 764.6,246.4 765.1,246.2 C765.5,245.9 766.0,245.6 766.5,245.4 C767.0,245.1 767.5,244.9 768.0,244.6 C768.5,244.4 769.0,244.1 769.6,243.9 C770.1,243.6 770.6,243.3 771.1,243.1 C771.7,242.8 772.2,242.6 772.8,242.3 C773.3,242.1 773.9,241.8 774.5,241.6 C775.0,241.3 775.6,241.0 776.2,240.8 C776.8,240.5 777.4,240.3 778.0,240.0 C778.6,239.8 779.2,239.5 779.9,239.3 C780.5,239.0 781.1,238.7 781.8,238.5 C782.4,238.2 783.1,238.0 783.7,237.7 C784.4,237.5 785.1,237.2 785.8,237.0 C786.5,236.7 787.2,236.4 787.9,236.2 C788.6,235.9 789.3,235.7 790.0,235.4 C790.7,235.2 791.5,234.9 792.2,234.7 C793.0,234.4 793.8,234.1 794.5,233.9 C795.3,233.6 796.1,233.4 796.9,233.1 C797.7,232.9 798.5,232.6 799.3,232.4 C800.2,232.1 801.0,231.8 801.8,231.6 C802.7,231.3 803.6,231.1 804.4,230.8 C805.3,230.6 806.2,230.3 807.1,230.1 C808.0,229.8 808.9,229.6 809.9,229.3 C810.8,229.0 811.7,228.8 812.7,228.5 C813.6,228.3 814.6,228.0 815.6,227.8 C816.6,227.5 817.6,227.3 818.6,227.0 C819.6,226.7 820.7,226.5 821.7,226.2 C822.8,226.0 823.9,225.7 824.9,225.5 C826.0,225.2 827.1,225.0 828.2,224.7 C829.4,224.4 830.5,224.2 831.7,223.9 C832.8,223.7 834.0,223.4 835.2,223.2 C836.4,222.9 837.6,222.7 838.8,222.4 C840.0,222.1 841.3,221.9 842.5,221.6 C843.8,221.4 845.1,221.1 846.4,220.9 C847.7,220.6 849.0,220.4 850.3,220.1 C851.7,219.8 853.0,219.6 854.4,219.3 C855.8,219.1 857.2,218.8 858.6,218.6 C860.1,218.3 861.5,218.1 863.0,217.8 C864.5,217.5 866.0,217.3 867.5,217.0 C869.0,216.8 870.5,216.5 872.1,216.3 C873.7,216.0 875.2,215.8 876.9,215.5 C878.5,215.2 880.1,215.0 881.8,214.7 C883.4,214.5 885.1,214.2 886.8,214.0 C888.5,213.7 890.3,213.5 892.1,213.2 C893.8,213.0 895.6,212.7 897.4,212.4 C899.3,212.2 901.1,211.9 903.0,211.7 C904.9,211.4 906.8,211.2 908.7,210.9 C910.6,210.7 912.6,210.4 914.6,210.1 C916.6,209.9 918.6,209.6 920.7,209.4 C922.7,209.1 924.8,208.9 927.0,208.6 C929.1,208.4 931.2,208.1 933.4,207.8 C935.6,207.6 937.8,207.3 940.1,207.1 C942.3,206.8 944.6,206.6 946.9,206.3 C949.3,206.1 951.6,205.8 954.0,205.5 C956.4,205.3 958.9,205.0 961.3,204.8 C963.8,204.5 966.3,204.3 968.9,204.0 C971.4,203.8 974.0,203.5 976.6,203.2 C979.2,203.0 981.9,202.7 984.6,202.5 C987.3,202.2 990.1,202.0 992.9,201.7 C995.7,201.5 998.5,201.2 1001.4,200.9 C1004.3,200.7 1007.2,200.4 1010.1,200.2 C1013.1,199.9 1016.1,199.7 1019.2,199.4 C1022.2,199.2 1025.3,198.9 1028.5,198.7 C1031.7,198.4 1034.9,198.1 1038.1,197.9 C1041.4,197.6 1044.7,197.4 1048.0,197.1 C1051.4,196.9 1054.8,196.6 1058.2,196.4 C1061.7,196.1 1065.2,195.8 1068.8,195.6 C1072.3,195.3 1077.8,194.9 1079.6,194.8" fill="none" stroke="#1c76d5" stroke-width="3" stroke-linecap="round" stroke-linejoin="round"/>
<line x1="762.3" y1="427.3" x2="762.3" y2="440.1" stroke="#555" stroke-width="2.4"/>
<line x1="771.1" y1="427.3" x2="771.1" y2="440.1" stroke="#000" stroke-width="4.2"/>
<line x1="779.9" y1="427.3" x2="779.9" y2="440.1" stroke="#000" stroke-width="4.2"/>
<line x1="788.7" y1="427.3" x2="788.7" y2="440.1" stroke="#000" stroke-width="4.2"/>
<line x1="797.6" y1="427.3" x2="797.6" y2="440.1" stroke="#000" stroke-width="4.2"/>
<line x1="806.4" y1="427.3" x2="806.4" y2="440.1" stroke="#000" stroke-width="4.2"/>
<line x1="815.2" y1="427.3" x2="815.2" y2="440.1" stroke="#000" stroke-width="4.2"/>
<line x1="824.0" y1="427.3" x2="824.0" y2="440.1" stroke="#000" stroke-width="4.2"/>
<line x1="832.8" y1="427.3" x2="832.8" y2="440.1" stroke="#000" stroke-width="4.2"/>
<line x1="841.6" y1="427.3" x2="841.6" y2="440.1" stroke="#000" stroke-width="4.2"/>
<line x1="850.4" y1="427.3" x2="850.4" y2="440.1" stroke="#000" stroke-width="4.2"/>
<line x1="859.3" y1="427.3" x2="859.3" y2="440.1" stroke="#000" stroke-width="4.2"/>
<line x1="868.1" y1="427.3" x2="868.1" y2="440.1" stroke="#000" stroke-width="4.2"/>
<line x1="876.9" y1="427.3" x2="876.9" y2="440.1" stroke="#000" stroke-width="4.2"/>
<line x1="885.7" y1="427.3" x2="885.7" y2="440.1" stroke="#000" stroke-width="4.2"/>
<line x1="894.5" y1="427.3" x2="894.5" y2="440.1" stroke="#000" stroke-width="4.2"/>
<line x1="903.3" y1="427.3" x2="903.3" y2="440.1" stroke="#000" stroke-width="4.2"/>
<line x1="912.1" y1="427.3" x2="912.1" y2="440.1" stroke="#000" stroke-width="4.2"/>
<line x1="921.0" y1="427.3" x2="921.0" y2="440.1" stroke="#000" stroke-width="4.2"/>
<line x1="929.8" y1="427.3" x2="929.8" y2="440.1" stroke="#000" stroke-width="4.2"/>
<line x1="938.6" y1="427.3" x2="938.6" y2="440.1" stroke="#000" stroke-width="4.2"/>
<line x1="947.4" y1="427.3" x2="947.4" y2="440.1" stroke="#000" stroke-width="4.2"/>
<line x1="956.2" y1="427.3" x2="956.2" y2="440.1" stroke="#000" stroke-width="4.2"/>
<line x1="965.0" y1="427.3" x2="965.0" y2="440.1" stroke="#000" stroke-width="4.2"/>
<line x1="973.8" y1="427.3" x2="973.8" y2="440.1" stroke="#000" stroke-width="4.2"/>
<line x1="982.6" y1="427.3" x2="982.6" y2="440.1" stroke="#000" stroke-width="4.2"/>
<line x1="991.5" y1="427.3" x2="991.5" y2="440.1" stroke="#000" stroke-width="4.2"/>
<line x1="1000.3" y1="427.3" x2="1000.3" y2="440.1" stroke="#000" stroke-width="4.2"/>
<line x1="1009.1" y1="427.3" x2="1009.1" y2="440.1" stroke="#000" stroke-width="4.2"/>
<line x1="1017.9" y1="427.3" x2="1017.9" y2="440.1" stroke="#000" stroke-width="4.2"/>
<line x1="1026.7" y1="427.3" x2="1026.7" y2="440.1" stroke="#000" stroke-width="4.2"/>
<line x1="1035.5" y1="427.3" x2="1035.5" y2="440.1" stroke="#000" stroke-width="4.2"/>
<line x1="1044.3" y1="427.3" x2="1044.3" y2="440.1" stroke="#000" stroke-width="4.2"/>
<line x1="1053.2" y1="427.3" x2="1053.2" y2="440.1" stroke="#000" stroke-width="4.2"/>
<line x1="1062.0" y1="427.3" x2="1062.0" y2="440.1" stroke="#000" stroke-width="4.2"/>
<line x1="1070.8" y1="427.3" x2="1070.8" y2="440.1" stroke="#000" stroke-width="4.2"/>
<line x1="1079.6" y1="427.3" x2="1079.6" y2="440.1" stroke="#555" stroke-width="2.4"/>
<text x="919.8" y="100.3" text-anchor="middle" style="font-size:19px;fill:#2a2a2a;stroke:#2a2a2a;stroke-width:0.25px">age = 34</text>
<rect x="1089.2" y="87.1" width="329.3" height="13.6" fill="#f0f0f0"/>
<path d="M1095.7,250.7 C1095.9,250.5 1096.6,250.1 1097.1,249.8 C1097.5,249.6 1098.0,249.3 1098.5,249.0 C1098.9,248.7 1099.4,248.4 1099.9,248.1 C1100.4,247.9 1100.9,247.6 1101.4,247.3 C1101.9,247.0 1102.4,246.7 1103.0,246.4 C1103.5,246.2 1104.0,245.9 1104.5,245.6 C1105.1,245.3 1105.6,245.0 1106.2,244.8 C1106.7,244.5 1107.3,244.2 1107.9,243.9 C1108.4,243.6 1109.0,243.3 1109.6,243.1 C1110.2,242.8 1110.8,242.5 1111.4,242.2 C1112.0,241.9 1112.6,241.7 1113.3,241.4 C1113.9,241.1 1114.5,240.8 1115.2,240.5 C1115.8,240.2 1116.5,240.0 1117.1,239.7 C1117.8,239.4 1118.5,239.1 1119.2,238.8 C1119.9,238.5 1120.6,238.3 1121.3,238.0 C1122.0,237.7 1122.7,237.4 1123.4,237.1 C1124.1,236.8 1124.9,236.6 1125.6,236.3 C1126.4,236.0 1127.2,235.7 1127.9,235.4 C1128.7,235.2 1129.5,234.9 1130.3,234.6 C1131.1,234.3 1131.9,234.0 1132.7,233.7 C1133.6,233.5 1134.4,233.2 1135.2,232.9 C1136.1,232.6 1137.0,232.3 1137.8,232.0 C1138.7,231.8 1139.6,231.5 1140.5,231.2 C1141.4,230.9 1142.3,230.6 1143.3,230.3 C1144.2,230.1 1145.1,229.8 1146.1,229.5 C1147.0,229.2 1148.0,228.9 1149.0,228.6 C1150.0,228.3 1151.0,228.1 1152.0,227.8 C1153.0,227.5 1154.1,227.2 1155.1,226.9 C1156.2,226.6 1157.3,226.4 1158.3,226.1 C1159.4,225.8 1160.5,225.5 1161.6,225.2 C1162.8,224.9 1163.9,224.6 1165.1,224.4 C1166.2,224.1 1167.4,223.8 1168.6,223.5 C1169.8,223.2 1171.0,222.9 1172.2,222.6 C1173.4,222.4 1174.7,222.1 1175.9,221.8 C1177.2,221.5 1178.5,221.2 1179.8,220.9 C1181.1,220.6 1182.4,220.3 1183.7,220.1 C1185.1,219.8 1186.4,219.5 1187.8,219.2 C1189.2,218.9 1190.6,218.6 1192.0,218.3 C1193.5,218.0 1194.9,217.7 1196.4,217.4 C1197.9,217.2 1199.4,216.9 1200.9,216.6 C1202.4,216.3 1203.9,216.0 1205.5,215.7 C1207.1,215.4 1208.6,215.1 1210.3,214.8 C1211.9,214.5 1213.5,214.2 1215.2,213.9 C1216.8,213.6 1218.5,213.3 1220.2,213.0 C1221.9,212.7 1223.7,212.4 1225.5,212.1 C1227.2,211.7 1229.0,211.4 1230.8,211.1 C1232.7,210.8 1234.5,210.5 1236.4,210.1 C1238.3,209.8 1240.2,209.5 1242.1,209.1 C1244.0,208.8 1246.0,208.4 1248.0,208.1 C1250.0,207.7 1252.0,207.3 1254.1,206.9 C1256.1,206.5 1258.2,206.1 1260.4,205.7 C1262.5,205.3 1264.6,204.9 1266.8,204.4 C1269.0,204.0 1271.2,203.5 1273.5,203.0 C1275.7,202.6 1278.0,202.1 1280.3,201.6 C1282.7,201.1 1285.0,200.6 1287.4,200.1 C1289.8,199.5 1292.3,199.0 1294.7,198.5 C1297.2,197.9 1299.7,197.4 1302.3,196.9 C1304.8,196.3 1307.4,195.8 1310.0,195.2 C1312.6,194.7 1315.3,194.1 1318.0,193.6 C1320.7,193.0 1323.5,192.4 1326.3,191.9 C1329.1,191.3 1331.9,190.7 1334.8,190.2 C1337.7,189.6 1340.6,189.0 1343.5,188.5 C1346.5,187.9 1349.5,187.3 1352.6,186.8 C1355.6,186.2 1358.7,185.6 1361.9,185.1 C1365.1,184.5 1368.3,183.9 1371.5,183.3 C1374.8,182.8 1378.1,182.2 1381.4,181.6 C1384.8,181.0 1388.2,180.5 1391.6,179.9 C1395.1,179.3 1398.6,178.7 1402.2,178.2 C1405.7,177.6 1411.2,176.7 1413.0,176.4 L1413.0,192.9 C1411.2,193.0 1405.7,193.5 1402.2,193.7 C1398.6,194.0 1395.1,194.3 1391.6,194.6 C1388.2,194.9 1384.8,195.2 1381.4,195.5 C1378.1,195.8 1374.8,196.1 1371.5,196.3 C1368.3,196.6 1365.1,196.9 1361.9,197.2 C1358.7,197.5 1355.6,197.8 1352.6,198.1 C1349.5,198.4 1346.5,198.7 1343.5,199.0 C1340.6,199.3 1337.7,199.6 1334.8,199.9 C1331.9,200.2 1329.1,200.5 1326.3,200.8 C1323.5,201.1 1320.7,201.4 1318.0,201.7 C1315.3,202.0 1312.6,202.3 1310.0,202.6 C1307.4,202.9 1304.8,203.2 1302.3,203.6 C1299.7,203.9 1297.2,204.2 1294.7,204.5 C1292.3,204.9 1289.8,205.2 1287.4,205.6 C1285.0,205.9 1282.7,206.3 1280.3,206.6 C1278.0,207.0 1275.7,207.4 1273.5,207.8 C1271.2,208.1 1269.0,208.5 1266.8,209.0 C1264.6,209.4 1262.5,209.8 1260.4,210.3 C1258.2,210.7 1256.1,211.2 1254.1,211.6 C1252.0,212.1 1250.0,212.6 1248.0,213.1 C1246.0,213.6 1244.0,214.1 1242.1,214.6 C1240.2,215.2 1238.3,215.7 1236.4,216.2 C1234.5,216.8 1232.7,217.3 1230.8,217.8 C1229.0,218.4 1227.2,218.9 1225.5,219.5 C1223.7,220.0 1221.9,220.6 1220.2,221.2 C1218.5,221.7 1216.8,222.3 1215.2,222.8 C1213.5,223.4 1211.9,224.0 1210.3,224.5 C1208.6,225.1 1207.1,225.7 1205.5,226.2 C1203.9,226.8 1202.4,227.4 1200.9,227.9 C1199.4,228.5 1197.9,229.1 1196.4,229.7 C1194.9,230.2 1193.5,230.8 1192.0,231.4 C1190.6,231.9 1189.2,232.5 1187.8,233.1 C1186.4,233.7 1185.1,234.2 1183.7,234.8 C1182.4,235.4 1181.1,236.0 1179.8,236.5 C1178.5,237.1 1177.2,237.7 1175.9,238.3 C1174.7,238.9 1173.4,239.4 1172.2,240.0 C1171.0,240.6 1169.8,241.2 1168.6,241.7 C1167.4,242.3 1166.2,242.9 1165.1,243.5 C1163.9,244.1 1162.8,244.6 1161.6,245.2 C1160.5,245.8 1159.4,246.4 1158.3,247.0 C1157.3,247.5 1156.2,248.1 1155.1,248.7 C1154.1,249.3 1153.0,249.9 1152.0,250.4 C1151.0,251.0 1150.0,251.6 1149.0,252.2 C1148.0,252.8 1147.0,253.3 1146.1,253.9 C1145.1,254.5 1144.2,255.1 1143.3,255.7 C1142.3,256.2 1141.4,256.8 1140.5,257.4 C1139.6,258.0 1138.7,258.6 1137.8,259.1 C1137.0,259.7 1136.1,260.3 1135.2,260.9 C1134.4,261.5 1133.6,262.1 1132.7,262.6 C1131.9,263.2 1131.1,263.8 1130.3,264.4 C1129.5,265.0 1128.7,265.5 1127.9,266.1 C1127.2,266.7 1126.4,267.3 1125.6,267.9 C1124.9,268.4 1124.1,269.0 1123.4,269.6 C1122.7,270.2 1122.0,270.8 1121.3,271.4 C1120.6,271.9 1119.9,272.5 1119.2,273.1 C1118.5,273.7 1117.8,274.3 1117.1,274.8 C1116.5,275.4 1115.8,276.0 1115.2,276.6 C1114.5,277.2 1113.9,277.8 1113.3,278.3 C1112.6,278.9 1112.0,279.5 1111.4,280.1 C1110.8,280.7 1110.2,281.2 1109.6,281.8 C1109.0,282.4 1108.4,283.0 1107.9,283.6 C1107.3,284.2 1106.7,284.7 1106.2,285.3 C1105.6,285.9 1105.1,286.5 1104.5,287.1 C1104.0,287.6 1103.5,288.2 1103.0,288.8 C1102.4,289.4 1101.9,290.0 1101.4,290.6 C1100.9,291.1 1100.4,291.7 1099.9,292.3 C1099.4,292.9 1098.9,293.5 1098.5,294.1 C1098.0,294.6 1097.5,295.2 1097.1,295.8 C1096.6,296.4 1095.9,297.3 1095.7,297.5 Z" fill="#d6e7fa"/>
<path d="M1095.7,274.1 C1095.9,273.9 1096.6,273.3 1097.1,272.8 C1097.5,272.4 1098.0,272.0 1098.5,271.5 C1098.9,271.1 1099.4,270.7 1099.9,270.2 C1100.4,269.8 1100.9,269.4 1101.4,268.9 C1101.9,268.5 1102.4,268.1 1103.0,267.6 C1103.5,267.2 1104.0,266.8 1104.5,266.3 C1105.1,265.9 1105.6,265.5 1106.2,265.0 C1106.7,264.6 1107.3,264.2 1107.9,263.7 C1108.4,263.3 1109.0,262.9 1109.6,262.4 C1110.2,262.0 1110.8,261.6 1111.4,261.1 C1112.0,260.7 1112.6,260.3 1113.3,259.9 C1113.9,259.4 1114.5,259.0 1115.2,258.6 C1115.8,258.1 1116.5,257.7 1117.1,257.3 C1117.8,256.8 1118.5,256.4 1119.2,256.0 C1119.9,255.5 1120.6,255.1 1121.3,254.7 C1122.0,254.2 1122.7,253.8 1123.4,253.4 C1124.1,252.9 1124.9,252.5 1125.6,252.1 C1126.4,251.6 1127.2,251.2 1127.9,250.8 C1128.7,250.3 1129.5,249.9 1130.3,249.5 C1131.1,249.0 1131.9,248.6 1132.7,248.2 C1133.6,247.8 1134.4,247.3 1135.2,246.9 C1136.1,246.5 1137.0,246.0 1137.8,245.6 C1138.7,245.2 1139.6,244.7 1140.5,244.3 C1141.4,243.9 1142.3,243.4 1143.3,243.0 C1144.2,242.6 1145.1,242.1 1146.1,241.7 C1147.0,241.3 1148.0,240.8 1149.0,240.4 C1150.0,240.0 1151.0,239.5 1152.0,239.1 C1153.0,238.7 1154.1,238.2 1155.1,237.8 C1156.2,237.4 1157.3,236.9 1158.3,236.5 C1159.4,236.1 1160.5,235.7 1161.6,235.2 C1162.8,234.8 1163.9,234.4 1165.1,233.9 C1166.2,233.5 1167.4,233.1 1168.6,232.6 C1169.8,232.2 1171.0,231.8 1172.2,231.3 C1173.4,230.9 1174.7,230.5 1175.9,230.0 C1177.2,229.6 1178.5,229.2 1179.8,228.7 C1181.1,228.3 1182.4,227.9 1183.7,227.4 C1185.1,227.0 1186.4,226.6 1187.8,226.1 C1189.2,225.7 1190.6,225.3 1192.0,224.8 C1193.5,224.4 1194.9,224.0 1196.4,223.5 C1197.9,223.1 1199.4,222.7 1200.9,222.3 C1202.4,221.8 1203.9,221.4 1205.5,221.0 C1207.1,220.5 1208.6,220.1 1210.3,219.7 C1211.9,219.2 1213.5,218.8 1215.2,218.4 C1216.8,217.9 1218.5,217.5 1220.2,217.1 C1221.9,216.6 1223.7,216.2 1225.5,215.8 C1227.2,215.3 1229.0,214.9 1230.8,214.5 C1232.7,214.0 1234.5,213.6 1236.4,213.2 C1238.3,212.7 1240.2,212.3 1242.1,211.9 C1244.0,211.4 1246.0,211.0 1248.0,210.6 C1250.0,210.2 1252.0,209.7 1254.1,209.3 C1256.1,208.9 1258.2,208.4 1260.4,208.0 C1262.5,207.6 1264.6,207.1 1266.8,206.7 C1269.0,206.3 1271.2,205.8 1273.5,205.4 C1275.7,205.0 1278.0,204.5 1280.3,204.1 C1282.7,203.7 1285.0,203.2 1287.4,202.8 C1289.8,202.4 1292.3,201.9 1294.7,201.5 C1297.2,201.1 1299.7,200.6 1302.3,200.2 C1304.8,199.8 1307.4,199.3 1310.0,198.9 C1312.6,198.5 1315.3,198.1 1318.0,197.6 C1320.7,197.2 1323.5,196.8 1326.3,196.3 C1329.1,195.9 1331.9,195.5 1334.8,195.0 C1337.7,194.6 1340.6,194.2 1343.5,193.7 C1346.5,193.3 1349.5,192.9 1352.6,192.4 C1355.6,192.0 1358.7,191.6 1361.9,191.1 C1365.1,190.7 1368.3,190.3 1371.5,189.8 C1374.8,189.4 1378.1,189.0 1381.4,188.5 C1384.8,188.1 1388.2,187.7 1391.6,187.2 C1395.1,186.8 1398.6,186.4 1402.2,186.0 C1405.7,185.5 1411.2,184.9 1413.0,184.7" fill="none" stroke="#1c76d5" stroke-width="3" stroke-linecap="round" stroke-linejoin="round"/>
<line x1="1095.7" y1="427.3" x2="1095.7" y2="440.1" stroke="#555" stroke-width="2.4"/>
<line x1="1104.5" y1="427.3" x2="1104.5" y2="440.1" stroke="#000" stroke-width="4.2"/>
<line x1="1113.3" y1="427.3" x2="1113.3" y2="440.1" stroke="#000" stroke-width="4.2"/>
<line x1="1122.1" y1="427.3" x2="1122.1" y2="440.1" stroke="#000" stroke-width="4.2"/>
<line x1="1131.0" y1="427.3" x2="1131.0" y2="440.1" stroke="#000" stroke-width="4.2"/>
<line x1="1139.8" y1="427.3" x2="1139.8" y2="440.1" stroke="#000" stroke-width="4.2"/>
<line x1="1148.6" y1="427.3" x2="1148.6" y2="440.1" stroke="#000" stroke-width="4.2"/>
<line x1="1157.4" y1="427.3" x2="1157.4" y2="440.1" stroke="#000" stroke-width="4.2"/>
<line x1="1166.2" y1="427.3" x2="1166.2" y2="440.1" stroke="#000" stroke-width="4.2"/>
<line x1="1175.0" y1="427.3" x2="1175.0" y2="440.1" stroke="#000" stroke-width="4.2"/>
<line x1="1183.8" y1="427.3" x2="1183.8" y2="440.1" stroke="#000" stroke-width="4.2"/>
<line x1="1192.7" y1="427.3" x2="1192.7" y2="440.1" stroke="#000" stroke-width="4.2"/>
<line x1="1201.5" y1="427.3" x2="1201.5" y2="440.1" stroke="#000" stroke-width="4.2"/>
<line x1="1210.3" y1="427.3" x2="1210.3" y2="440.1" stroke="#000" stroke-width="4.2"/>
<line x1="1219.1" y1="427.3" x2="1219.1" y2="440.1" stroke="#000" stroke-width="4.2"/>
<line x1="1227.9" y1="427.3" x2="1227.9" y2="440.1" stroke="#000" stroke-width="4.2"/>
<line x1="1236.7" y1="427.3" x2="1236.7" y2="440.1" stroke="#000" stroke-width="4.2"/>
<line x1="1245.5" y1="427.3" x2="1245.5" y2="440.1" stroke="#000" stroke-width="4.2"/>
<line x1="1254.4" y1="427.3" x2="1254.4" y2="440.1" stroke="#000" stroke-width="4.2"/>
<line x1="1263.2" y1="427.3" x2="1263.2" y2="440.1" stroke="#000" stroke-width="4.2"/>
<line x1="1272.0" y1="427.3" x2="1272.0" y2="440.1" stroke="#000" stroke-width="4.2"/>
<line x1="1280.8" y1="427.3" x2="1280.8" y2="440.1" stroke="#000" stroke-width="4.2"/>
<line x1="1289.6" y1="427.3" x2="1289.6" y2="440.1" stroke="#000" stroke-width="4.2"/>
<line x1="1298.4" y1="427.3" x2="1298.4" y2="440.1" stroke="#000" stroke-width="4.2"/>
<line x1="1307.2" y1="427.3" x2="1307.2" y2="440.1" stroke="#000" stroke-width="4.2"/>
<line x1="1316.0" y1="427.3" x2="1316.0" y2="440.1" stroke="#000" stroke-width="4.2"/>
<line x1="1324.9" y1="427.3" x2="1324.9" y2="440.1" stroke="#000" stroke-width="4.2"/>
<line x1="1333.7" y1="427.3" x2="1333.7" y2="440.1" stroke="#000" stroke-width="4.2"/>
<line x1="1342.5" y1="427.3" x2="1342.5" y2="440.1" stroke="#000" stroke-width="4.2"/>
<line x1="1351.3" y1="427.3" x2="1351.3" y2="440.1" stroke="#000" stroke-width="4.2"/>
<line x1="1360.1" y1="427.3" x2="1360.1" y2="440.1" stroke="#000" stroke-width="4.2"/>
<line x1="1368.9" y1="427.3" x2="1368.9" y2="440.1" stroke="#000" stroke-width="4.2"/>
<line x1="1377.7" y1="427.3" x2="1377.7" y2="440.1" stroke="#000" stroke-width="4.2"/>
<line x1="1386.6" y1="427.3" x2="1386.6" y2="440.1" stroke="#000" stroke-width="4.2"/>
<line x1="1395.4" y1="427.3" x2="1395.4" y2="440.1" stroke="#000" stroke-width="4.2"/>
<line x1="1404.2" y1="427.3" x2="1404.2" y2="440.1" stroke="#000" stroke-width="4.2"/>
<line x1="1413.0" y1="427.3" x2="1413.0" y2="440.1" stroke="#555" stroke-width="2.4"/>
<text x="1252.8" y="100.3" text-anchor="middle" style="font-size:19px;fill:#2a2a2a;stroke:#2a2a2a;stroke-width:0.25px">age = 41</text>
<rect x="1422.5" y="87.1" width="329.5" height="13.6" fill="#f0f0f0"/>
<path d="M1428.3,247.7 C1428.5,247.5 1429.2,246.9 1429.7,246.6 C1430.1,246.2 1430.6,245.8 1431.1,245.5 C1431.5,245.1 1432.0,244.7 1432.5,244.4 C1433.0,244.0 1433.5,243.6 1434.0,243.3 C1434.5,242.9 1435.0,242.5 1435.6,242.2 C1436.1,241.8 1436.6,241.4 1437.1,241.0 C1437.7,240.7 1438.2,240.3 1438.8,239.9 C1439.3,239.6 1439.9,239.2 1440.5,238.8 C1441.0,238.4 1441.6,238.1 1442.2,237.7 C1442.8,237.3 1443.4,237.0 1444.0,236.6 C1444.6,236.2 1445.2,235.8 1445.9,235.5 C1446.5,235.1 1447.1,234.7 1447.8,234.3 C1448.4,234.0 1449.1,233.6 1449.7,233.2 C1450.4,232.8 1451.1,232.5 1451.8,232.1 C1452.5,231.7 1453.2,231.3 1453.9,230.9 C1454.6,230.6 1455.3,230.2 1456.0,229.8 C1456.7,229.4 1457.5,229.1 1458.2,228.7 C1459.0,228.3 1459.8,227.9 1460.5,227.5 C1461.3,227.1 1462.1,226.8 1462.9,226.4 C1463.7,226.0 1464.5,225.6 1465.3,225.2 C1466.2,224.8 1467.0,224.4 1467.8,224.1 C1468.7,223.7 1469.6,223.3 1470.4,222.9 C1471.3,222.5 1472.2,222.1 1473.1,221.7 C1474.0,221.3 1474.9,220.9 1475.9,220.5 C1476.8,220.2 1477.7,219.8 1478.7,219.4 C1479.6,219.0 1480.6,218.6 1481.6,218.2 C1482.6,217.8 1483.6,217.4 1484.6,217.0 C1485.6,216.6 1486.7,216.2 1487.7,215.7 C1488.8,215.3 1489.9,214.9 1490.9,214.5 C1492.0,214.1 1493.1,213.7 1494.2,213.3 C1495.4,212.9 1496.5,212.4 1497.7,212.0 C1498.8,211.6 1500.0,211.2 1501.2,210.8 C1502.4,210.3 1503.6,209.9 1504.8,209.5 C1506.0,209.0 1507.3,208.6 1508.5,208.2 C1509.8,207.7 1511.1,207.3 1512.4,206.8 C1513.7,206.4 1515.0,206.0 1516.3,205.5 C1517.7,205.0 1519.0,204.6 1520.4,204.1 C1521.8,203.7 1523.2,203.2 1524.6,202.7 C1526.1,202.2 1527.5,201.8 1529.0,201.3 C1530.5,200.8 1532.0,200.3 1533.5,199.8 C1535.0,199.3 1536.5,198.8 1538.1,198.2 C1539.7,197.7 1541.2,197.2 1542.9,196.7 C1544.5,196.1 1546.1,195.6 1547.8,195.0 C1549.4,194.5 1551.1,193.9 1552.8,193.3 C1554.5,192.7 1556.3,192.1 1558.1,191.5 C1559.8,190.9 1561.6,190.3 1563.4,189.6 C1565.3,189.0 1567.1,188.3 1569.0,187.6 C1570.9,186.9 1572.8,186.3 1574.7,185.5 C1576.6,184.8 1578.6,184.1 1580.6,183.3 C1582.6,182.5 1584.6,181.8 1586.7,181.0 C1588.7,180.1 1590.8,179.3 1593.0,178.5 C1595.1,177.6 1597.2,176.7 1599.4,175.8 C1601.6,174.9 1603.8,174.0 1606.1,173.0 C1608.3,172.1 1610.6,171.1 1612.9,170.1 C1615.3,169.1 1617.6,168.1 1620.0,167.0 C1622.4,165.9 1624.9,164.9 1627.3,163.8 C1629.8,162.7 1632.3,161.6 1634.9,160.4 C1637.4,159.3 1640.0,158.1 1642.6,157.0 C1645.2,155.8 1647.9,154.6 1650.6,153.4 C1653.3,152.2 1656.1,151.0 1658.9,149.7 C1661.7,148.5 1664.5,147.2 1667.4,146.0 C1670.3,144.7 1673.2,143.4 1676.1,142.2 C1679.1,140.9 1682.1,139.6 1685.2,138.3 C1688.2,137.0 1691.3,135.7 1694.5,134.3 C1697.7,133.0 1700.9,131.7 1704.1,130.3 C1707.4,129.0 1710.7,127.7 1714.0,126.3 C1717.4,125.0 1720.8,123.6 1724.2,122.2 C1727.7,120.9 1731.2,119.5 1734.8,118.1 C1738.3,116.8 1743.8,114.7 1745.6,114.0 L1745.6,182.1 C1743.8,182.3 1738.3,183.0 1734.8,183.5 C1731.2,183.9 1727.7,184.4 1724.2,184.9 C1720.8,185.3 1717.4,185.8 1714.0,186.3 C1710.7,186.8 1707.4,187.3 1704.1,187.7 C1700.9,188.2 1697.7,188.7 1694.5,189.3 C1691.3,189.8 1688.2,190.3 1685.2,190.8 C1682.1,191.3 1679.1,191.9 1676.1,192.4 C1673.2,193.0 1670.3,193.5 1667.4,194.1 C1664.5,194.7 1661.7,195.2 1658.9,195.8 C1656.1,196.4 1653.3,197.0 1650.6,197.7 C1647.9,198.3 1645.2,198.9 1642.6,199.6 C1640.0,200.3 1637.4,200.9 1634.9,201.6 C1632.3,202.3 1629.8,203.0 1627.3,203.8 C1624.9,204.5 1622.4,205.3 1620.0,206.0 C1617.6,206.8 1615.3,207.6 1612.9,208.5 C1610.6,209.3 1608.3,210.1 1606.1,211.0 C1603.8,211.9 1601.6,212.8 1599.4,213.7 C1597.2,214.6 1595.1,215.6 1593.0,216.6 C1590.8,217.5 1588.7,218.5 1586.7,219.6 C1584.6,220.6 1582.6,221.6 1580.6,222.7 C1578.6,223.8 1576.6,224.9 1574.7,226.0 C1572.8,227.1 1570.9,228.2 1569.0,229.4 C1567.1,230.5 1565.3,231.7 1563.4,232.9 C1561.6,234.1 1559.8,235.3 1558.1,236.5 C1556.3,237.7 1554.5,239.0 1552.8,240.2 C1551.1,241.5 1549.4,242.7 1547.8,244.0 C1546.1,245.3 1544.5,246.5 1542.9,247.8 C1541.2,249.1 1539.7,250.4 1538.1,251.7 C1536.5,253.1 1535.0,254.4 1533.5,255.7 C1532.0,257.0 1530.5,258.4 1529.0,259.7 C1527.5,261.1 1526.1,262.4 1524.6,263.8 C1523.2,265.1 1521.8,266.5 1520.4,267.8 C1519.0,269.2 1517.7,270.6 1516.3,272.0 C1515.0,273.3 1513.7,274.7 1512.4,276.1 C1511.1,277.5 1509.8,278.9 1508.5,280.3 C1507.3,281.7 1506.0,283.1 1504.8,284.5 C1503.6,285.9 1502.4,287.3 1501.2,288.7 C1500.0,290.1 1498.8,291.5 1497.7,292.9 C1496.5,294.3 1495.4,295.7 1494.2,297.2 C1493.1,298.6 1492.0,300.0 1490.9,301.4 C1489.9,302.8 1488.8,304.3 1487.7,305.7 C1486.7,307.1 1485.6,308.5 1484.6,310.0 C1483.6,311.4 1482.6,312.8 1481.6,314.3 C1480.6,315.7 1479.6,317.1 1478.7,318.6 C1477.7,320.0 1476.8,321.4 1475.9,322.9 C1474.9,324.3 1474.0,325.7 1473.1,327.2 C1472.2,328.6 1471.3,330.1 1470.4,331.5 C1469.6,332.9 1468.7,334.4 1467.8,335.8 C1467.0,337.3 1466.2,338.7 1465.3,340.2 C1464.5,341.6 1463.7,343.1 1462.9,344.5 C1462.1,346.0 1461.3,347.4 1460.5,348.9 C1459.8,350.3 1459.0,351.8 1458.2,353.2 C1457.5,354.7 1456.7,356.1 1456.0,357.6 C1455.3,359.0 1454.6,360.5 1453.9,361.9 C1453.2,363.4 1452.5,364.8 1451.8,366.3 C1451.1,367.7 1450.4,369.2 1449.7,370.7 C1449.1,372.1 1448.4,373.6 1447.8,375.0 C1447.1,376.5 1446.5,377.9 1445.9,379.4 C1445.2,380.9 1444.6,382.3 1444.0,383.8 C1443.4,385.2 1442.8,386.7 1442.2,388.1 C1441.6,389.6 1441.0,391.1 1440.5,392.5 C1439.9,394.0 1439.3,395.4 1438.8,396.9 C1438.2,398.4 1437.7,399.8 1437.1,401.3 C1436.6,402.8 1436.1,404.2 1435.6,405.7 C1435.0,407.1 1434.5,408.6 1434.0,410.1 C1433.5,411.5 1433.0,413.0 1432.5,414.5 C1432.0,415.9 1431.5,417.4 1431.1,418.8 C1430.6,420.3 1430.1,421.8 1429.7,423.2 C1429.2,424.7 1428.5,426.9 1428.3,427.6 Z" fill="#d6e7fa"/>
<path d="M1428.3,337.7 C1428.5,337.2 1429.2,335.8 1429.7,334.9 C1430.1,334.0 1430.6,333.1 1431.1,332.2 C1431.5,331.2 1432.0,330.3 1432.5,329.4 C1433.0,328.5 1433.5,327.6 1434.0,326.7 C1434.5,325.7 1435.0,324.8 1435.6,323.9 C1436.1,323.0 1436.6,322.1 1437.1,321.2 C1437.7,320.2 1438.2,319.3 1438.8,318.4 C1439.3,317.5 1439.9,316.6 1440.5,315.7 C1441.0,314.8 1441.6,313.8 1442.2,312.9 C1442.8,312.0 1443.4,311.1 1444.0,310.2 C1444.6,309.3 1445.2,308.3 1445.9,307.4 C1446.5,306.5 1447.1,305.6 1447.8,304.7 C1448.4,303.8 1449.1,302.8 1449.7,301.9 C1450.4,301.0 1451.1,300.1 1451.8,299.2 C1452.5,298.3 1453.2,297.4 1453.9,296.4 C1454.6,295.5 1455.3,294.6 1456.0,293.7 C1456.7,292.8 1457.5,291.9 1458.2,290.9 C1459.0,290.0 1459.8,289.1 1460.5,288.2 C1461.3,287.3 1462.1,286.4 1462.9,285.4 C1463.7,284.5 1464.5,283.6 1465.3,282.7 C1466.2,281.8 1467.0,280.9 1467.8,279.9 C1468.7,279.0 1469.6,278.1 1470.4,277.2 C1471.3,276.3 1472.2,275.4 1473.1,274.5 C1474.0,273.5 1474.9,272.6 1475.9,271.7 C1476.8,270.8 1477.7,269.9 1478.7,269.0 C1479.6,268.0 1480.6,267.1 1481.6,266.2 C1482.6,265.3 1483.6,264.4 1484.6,263.5 C1485.6,262.5 1486.7,261.6 1487.7,260.7 C1488.8,259.8 1489.9,258.9 1490.9,258.0 C1492.0,257.1 1493.1,256.1 1494.2,255.2 C1495.4,254.3 1496.5,253.4 1497.7,252.5 C1498.8,251.6 1500.0,250.6 1501.2,249.7 C1502.4,248.8 1503.6,247.9 1504.8,247.0 C1506.0,246.1 1507.3,245.1 1508.5,244.2 C1509.8,243.3 1511.1,242.4 1512.4,241.5 C1513.7,240.6 1515.0,239.6 1516.3,238.7 C1517.7,237.8 1519.0,236.9 1520.4,236.0 C1521.8,235.1 1523.2,234.2 1524.6,233.2 C1526.1,232.3 1527.5,231.4 1529.0,230.5 C1530.5,229.6 1532.0,228.7 1533.5,227.7 C1535.0,226.8 1536.5,225.9 1538.1,225.0 C1539.7,224.1 1541.2,223.2 1542.9,222.2 C1544.5,221.3 1546.1,220.4 1547.8,219.5 C1549.4,218.6 1551.1,217.7 1552.8,216.8 C1554.5,215.8 1556.3,214.9 1558.1,214.0 C1559.8,213.1 1561.6,212.2 1563.4,211.3 C1565.3,210.3 1567.1,209.4 1569.0,208.5 C1570.9,207.6 1572.8,206.7 1574.7,205.8 C1576.6,204.8 1578.6,203.9 1580.6,203.0 C1582.6,202.1 1584.6,201.2 1586.7,200.3 C1588.7,199.3 1590.8,198.4 1593.0,197.5 C1595.1,196.6 1597.2,195.7 1599.4,194.8 C1601.6,193.9 1603.8,192.9 1606.1,192.0 C1608.3,191.1 1610.6,190.2 1612.9,189.3 C1615.3,188.4 1617.6,187.4 1620.0,186.5 C1622.4,185.6 1624.9,184.7 1627.3,183.8 C1629.8,182.9 1632.3,181.9 1634.9,181.0 C1637.4,180.1 1640.0,179.2 1642.6,178.3 C1645.2,177.4 1647.9,176.4 1650.6,175.5 C1653.3,174.6 1656.1,173.7 1658.9,172.8 C1661.7,171.9 1664.5,171.0 1667.4,170.0 C1670.3,169.1 1673.2,168.2 1676.1,167.3 C1679.1,166.4 1682.1,165.5 1685.2,164.5 C1688.2,163.6 1691.3,162.7 1694.5,161.8 C1697.7,160.9 1700.9,160.0 1704.1,159.0 C1707.4,158.1 1710.7,157.2 1714.0,156.3 C1717.4,155.4 1720.8,154.5 1724.2,153.6 C1727.7,152.6 1731.2,151.7 1734.8,150.8 C1738.3,149.9 1743.8,148.5 1745.6,148.1" fill="none" stroke="#1c76d5" stroke-width="3" stroke-linecap="round" stroke-linejoin="round"/>
<line x1="1428.3" y1="427.3" x2="1428.3" y2="440.1" stroke="#555" stroke-width="2.4"/>
<line x1="1437.1" y1="427.3" x2="1437.1" y2="440.1" stroke="#000" stroke-width="4.2"/>
<line x1="1445.9" y1="427.3" x2="1445.9" y2="440.1" stroke="#000" stroke-width="4.2"/>
<line x1="1454.7" y1="427.3" x2="1454.7" y2="440.1" stroke="#000" stroke-width="4.2"/>
<line x1="1463.6" y1="427.3" x2="1463.6" y2="440.1" stroke="#000" stroke-width="4.2"/>
<line x1="1472.4" y1="427.3" x2="1472.4" y2="440.1" stroke="#000" stroke-width="4.2"/>
<line x1="1481.2" y1="427.3" x2="1481.2" y2="440.1" stroke="#000" stroke-width="4.2"/>
<line x1="1490.0" y1="427.3" x2="1490.0" y2="440.1" stroke="#000" stroke-width="4.2"/>
<line x1="1498.8" y1="427.3" x2="1498.8" y2="440.1" stroke="#000" stroke-width="4.2"/>
<line x1="1507.6" y1="427.3" x2="1507.6" y2="440.1" stroke="#000" stroke-width="4.2"/>
<line x1="1516.4" y1="427.3" x2="1516.4" y2="440.1" stroke="#000" stroke-width="4.2"/>
<line x1="1525.3" y1="427.3" x2="1525.3" y2="440.1" stroke="#000" stroke-width="4.2"/>
<line x1="1534.1" y1="427.3" x2="1534.1" y2="440.1" stroke="#000" stroke-width="4.2"/>
<line x1="1542.9" y1="427.3" x2="1542.9" y2="440.1" stroke="#000" stroke-width="4.2"/>
<line x1="1551.7" y1="427.3" x2="1551.7" y2="440.1" stroke="#000" stroke-width="4.2"/>
<line x1="1560.5" y1="427.3" x2="1560.5" y2="440.1" stroke="#000" stroke-width="4.2"/>
<line x1="1569.3" y1="427.3" x2="1569.3" y2="440.1" stroke="#000" stroke-width="4.2"/>
<line x1="1578.1" y1="427.3" x2="1578.1" y2="440.1" stroke="#000" stroke-width="4.2"/>
<line x1="1587.0" y1="427.3" x2="1587.0" y2="440.1" stroke="#000" stroke-width="4.2"/>
<line x1="1595.8" y1="427.3" x2="1595.8" y2="440.1" stroke="#000" stroke-width="4.2"/>
<line x1="1604.6" y1="427.3" x2="1604.6" y2="440.1" stroke="#000" stroke-width="4.2"/>
<line x1="1613.4" y1="427.3" x2="1613.4" y2="440.1" stroke="#000" stroke-width="4.2"/>
<line x1="1622.2" y1="427.3" x2="1622.2" y2="440.1" stroke="#000" stroke-width="4.2"/>
<line x1="1631.0" y1="427.3" x2="1631.0" y2="440.1" stroke="#000" stroke-width="4.2"/>
<line x1="1639.8" y1="427.3" x2="1639.8" y2="440.1" stroke="#000" stroke-width="4.2"/>
<line x1="1648.6" y1="427.3" x2="1648.6" y2="440.1" stroke="#000" stroke-width="4.2"/>
<line x1="1657.5" y1="427.3" x2="1657.5" y2="440.1" stroke="#000" stroke-width="4.2"/>
<line x1="1666.3" y1="427.3" x2="1666.3" y2="440.1" stroke="#000" stroke-width="4.2"/>
<line x1="1675.1" y1="427.3" x2="1675.1" y2="440.1" stroke="#000" stroke-width="4.2"/>
<line x1="1683.9" y1="427.3" x2="1683.9" y2="440.1" stroke="#000" stroke-width="4.2"/>
<line x1="1692.7" y1="427.3" x2="1692.7" y2="440.1" stroke="#000" stroke-width="4.2"/>
<line x1="1701.5" y1="427.3" x2="1701.5" y2="440.1" stroke="#000" stroke-width="4.2"/>
<line x1="1710.3" y1="427.3" x2="1710.3" y2="440.1" stroke="#000" stroke-width="4.2"/>
<line x1="1719.2" y1="427.3" x2="1719.2" y2="440.1" stroke="#000" stroke-width="4.2"/>
<line x1="1728.0" y1="427.3" x2="1728.0" y2="440.1" stroke="#000" stroke-width="4.2"/>
<line x1="1736.8" y1="427.3" x2="1736.8" y2="440.1" stroke="#000" stroke-width="4.2"/>
<line x1="1745.6" y1="427.3" x2="1745.6" y2="440.1" stroke="#555" stroke-width="2.4"/>
<text x="1586.2" y="100.3" text-anchor="middle" style="font-size:19px;fill:#2a2a2a;stroke:#2a2a2a;stroke-width:0.25px">age = 49</text>
<g stroke="#646464" stroke-width="2.0" fill="none">
<rect x="87.1" y="82.6" width="1666.9" height="357.5"/>
<line x1="87.1" y1="104.2" x2="1754.0" y2="104.2"/>
<line x1="421.6" y1="82.6" x2="421.6" y2="440.1"/>
<line x1="754.3" y1="82.6" x2="754.3" y2="440.1"/>
<line x1="1087.2" y1="82.6" x2="1087.2" y2="440.1"/>
<line x1="1420.5" y1="82.6" x2="1420.5" y2="440.1"/>
<line x1="78.6" y1="419.0" x2="87.1" y2="419.0"/>
<line x1="1754.0" y1="419.0" x2="1762.5" y2="419.0"/>
<line x1="78.6" y1="368.1" x2="87.1" y2="368.1"/>
<line x1="1754.0" y1="368.1" x2="1762.5" y2="368.1"/>
<line x1="78.6" y1="317.3" x2="87.1" y2="317.3"/>
<line x1="1754.0" y1="317.3" x2="1762.5" y2="317.3"/>
<line x1="78.6" y1="266.5" x2="87.1" y2="266.5"/>
<line x1="1754.0" y1="266.5" x2="1762.5" y2="266.5"/>
<line x1="78.6" y1="215.7" x2="87.1" y2="215.7"/>
<line x1="1754.0" y1="215.7" x2="1762.5" y2="215.7"/>
<line x1="78.6" y1="164.8" x2="87.1" y2="164.8"/>
<line x1="1754.0" y1="164.8" x2="1762.5" y2="164.8"/>
<line x1="78.6" y1="114.0" x2="87.1" y2="114.0"/>
<line x1="1754.0" y1="114.0" x2="1762.5" y2="114.0"/>
<line x1="95.2" y1="74.1" x2="95.2" y2="82.6"/>
<line x1="95.2" y1="440.1" x2="95.2" y2="448.6"/>
<line x1="139.3" y1="74.1" x2="139.3" y2="82.6"/>
<line x1="139.3" y1="440.1" x2="139.3" y2="448.6"/>
<line x1="183.3" y1="74.1" x2="183.3" y2="82.6"/>
<line x1="183.3" y1="440.1" x2="183.3" y2="448.6"/>
<line x1="227.4" y1="74.1" x2="227.4" y2="82.6"/>
<line x1="227.4" y1="440.1" x2="227.4" y2="448.6"/>
<line x1="271.5" y1="74.1" x2="271.5" y2="82.6"/>
<line x1="271.5" y1="440.1" x2="271.5" y2="448.6"/>
<line x1="315.6" y1="74.1" x2="315.6" y2="82.6"/>
<line x1="315.6" y1="440.1" x2="315.6" y2="448.6"/>
<line x1="359.6" y1="74.1" x2="359.6" y2="82.6"/>
<line x1="359.6" y1="440.1" x2="359.6" y2="448.6"/>
<line x1="403.7" y1="74.1" x2="403.7" y2="82.6"/>
<line x1="403.7" y1="440.1" x2="403.7" y2="448.6"/>
<line x1="428.5" y1="74.1" x2="428.5" y2="82.6"/>
<line x1="428.5" y1="440.1" x2="428.5" y2="448.6"/>
<line x1="472.6" y1="74.1" x2="472.6" y2="82.6"/>
<line x1="472.6" y1="440.1" x2="472.6" y2="448.6"/>
<line x1="516.6" y1="74.1" x2="516.6" y2="82.6"/>
<line x1="516.6" y1="440.1" x2="516.6" y2="448.6"/>
<line x1="560.7" y1="74.1" x2="560.7" y2="82.6"/>
<line x1="560.7" y1="440.1" x2="560.7" y2="448.6"/>
<line x1="604.8" y1="74.1" x2="604.8" y2="82.6"/>
<line x1="604.8" y1="440.1" x2="604.8" y2="448.6"/>
<line x1="648.9" y1="74.1" x2="648.9" y2="82.6"/>
<line x1="648.9" y1="440.1" x2="648.9" y2="448.6"/>
<line x1="692.9" y1="74.1" x2="692.9" y2="82.6"/>
<line x1="692.9" y1="440.1" x2="692.9" y2="448.6"/>
<line x1="737.0" y1="74.1" x2="737.0" y2="82.6"/>
<line x1="737.0" y1="440.1" x2="737.0" y2="448.6"/>
<line x1="762.3" y1="74.1" x2="762.3" y2="82.6"/>
<line x1="762.3" y1="440.1" x2="762.3" y2="448.6"/>
<line x1="806.4" y1="74.1" x2="806.4" y2="82.6"/>
<line x1="806.4" y1="440.1" x2="806.4" y2="448.6"/>
<line x1="850.4" y1="74.1" x2="850.4" y2="82.6"/>
<line x1="850.4" y1="440.1" x2="850.4" y2="448.6"/>
<line x1="894.5" y1="74.1" x2="894.5" y2="82.6"/>
<line x1="894.5" y1="440.1" x2="894.5" y2="448.6"/>
<line x1="938.6" y1="74.1" x2="938.6" y2="82.6"/>
<line x1="938.6" y1="440.1" x2="938.6" y2="448.6"/>
<line x1="982.6" y1="74.1" x2="982.6" y2="82.6"/>
<line x1="982.6" y1="440.1" x2="982.6" y2="448.6"/>
<line x1="1026.7" y1="74.1" x2="1026.7" y2="82.6"/>
<line x1="1026.7" y1="440.1" x2="1026.7" y2="448.6"/>
<line x1="1070.8" y1="74.1" x2="1070.8" y2="82.6"/>
<line x1="1070.8" y1="440.1" x2="1070.8" y2="448.6"/>
<line x1="1095.7" y1="74.1" x2="1095.7" y2="82.6"/>
<line x1="1095.7" y1="440.1" x2="1095.7" y2="448.6"/>
<line x1="1139.8" y1="74.1" x2="1139.8" y2="82.6"/>
<line x1="1139.8" y1="440.1" x2="1139.8" y2="448.6"/>
<line x1="1183.8" y1="74.1" x2="1183.8" y2="82.6"/>
<line x1="1183.8" y1="440.1" x2="1183.8" y2="448.6"/>
<line x1="1227.9" y1="74.1" x2="1227.9" y2="82.6"/>
<line x1="1227.9" y1="440.1" x2="1227.9" y2="448.6"/>
<line x1="1272.0" y1="74.1" x2="1272.0" y2="82.6"/>
<line x1="1272.0" y1="440.1" x2="1272.0" y2="448.6"/>
<line x1="1316.0" y1="74.1" x2="1316.0" y2="82.6"/>
<line x1="1316.0" y1="440.1" x2="1316.0" y2="448.6"/>
<line x1="1360.1" y1="74.1" x2="1360.1" y2="82.6"/>
<line x1="1360.1" y1="440.1" x2="1360.1" y2="448.6"/>
<line x1="1404.2" y1="74.1" x2="1404.2" y2="82.6"/>
<line x1="1404.2" y1="440.1" x2="1404.2" y2="448.6"/>
<line x1="1428.3" y1="74.1" x2="1428.3" y2="82.6"/>
<line x1="1428.3" y1="440.1" x2="1428.3" y2="448.6"/>
<line x1="1472.4" y1="74.1" x2="1472.4" y2="82.6"/>
<line x1="1472.4" y1="440.1" x2="1472.4" y2="448.6"/>
<line x1="1516.4" y1="74.1" x2="1516.4" y2="82.6"/>
<line x1="1516.4" y1="440.1" x2="1516.4" y2="448.6"/>
<line x1="1560.5" y1="74.1" x2="1560.5" y2="82.6"/>
<line x1="1560.5" y1="440.1" x2="1560.5" y2="448.6"/>
<line x1="1604.6" y1="74.1" x2="1604.6" y2="82.6"/>
<line x1="1604.6" y1="440.1" x2="1604.6" y2="448.6"/>
<line x1="1648.6" y1="74.1" x2="1648.6" y2="82.6"/>
<line x1="1648.6" y1="440.1" x2="1648.6" y2="448.6"/>
<line x1="1692.7" y1="74.1" x2="1692.7" y2="82.6"/>
<line x1="1692.7" y1="440.1" x2="1692.7" y2="448.6"/>
<line x1="1736.8" y1="74.1" x2="1736.8" y2="82.6"/>
<line x1="1736.8" y1="440.1" x2="1736.8" y2="448.6"/>
</g>
<text x="70" y="427.4" text-anchor="end" style="font-size:20px">50</text>
<text x="70" y="376.5" text-anchor="end" style="font-size:20px">60</text>
<text x="70" y="325.7" text-anchor="end" style="font-size:20px">70</text>
<text x="70" y="274.9" text-anchor="end" style="font-size:20px">80</text>
<text x="70" y="224.1" text-anchor="end" style="font-size:20px">90</text>
<text x="70" y="173.2" text-anchor="end" style="font-size:20px">100</text>
<text x="70" y="122.4" text-anchor="end" style="font-size:20px">110</text>
<text x="94.8" y="473.3" text-anchor="middle" style="font-size:20px">5</text>
<text x="138.9" y="473.3" text-anchor="middle" style="font-size:20px">10</text>
<text x="182.9" y="473.3" text-anchor="middle" style="font-size:20px">15</text>
<text x="227.0" y="473.3" text-anchor="middle" style="font-size:20px">20</text>
<text x="271.1" y="473.3" text-anchor="middle" style="font-size:20px">25</text>
<text x="315.2" y="473.3" text-anchor="middle" style="font-size:20px">30</text>
<text x="359.2" y="473.3" text-anchor="middle" style="font-size:20px">35</text>
<text x="403.3" y="473.3" text-anchor="middle" style="font-size:20px">40</text>
<text x="428.1" y="65.5" text-anchor="middle" style="font-size:20px">5</text>
<text x="472.2" y="65.5" text-anchor="middle" style="font-size:20px">10</text>
<text x="516.2" y="65.5" text-anchor="middle" style="font-size:20px">15</text>
<text x="560.3" y="65.5" text-anchor="middle" style="font-size:20px">20</text>
<text x="604.4" y="65.5" text-anchor="middle" style="font-size:20px">25</text>
<text x="648.5" y="65.5" text-anchor="middle" style="font-size:20px">30</text>
<text x="692.5" y="65.5" text-anchor="middle" style="font-size:20px">35</text>
<text x="736.6" y="65.5" text-anchor="middle" style="font-size:20px">40</text>
<text x="761.9" y="473.3" text-anchor="middle" style="font-size:20px">5</text>
<text x="806.0" y="473.3" text-anchor="middle" style="font-size:20px">10</text>
<text x="850.0" y="473.3" text-anchor="middle" style="font-size:20px">15</text>
<text x="894.1" y="473.3" text-anchor="middle" style="font-size:20px">20</text>
<text x="938.2" y="473.3" text-anchor="middle" style="font-size:20px">25</text>
<text x="982.2" y="473.3" text-anchor="middle" style="font-size:20px">30</text>
<text x="1026.3" y="473.3" text-anchor="middle" style="font-size:20px">35</text>
<text x="1070.4" y="473.3" text-anchor="middle" style="font-size:20px">40</text>
<text x="1095.3" y="65.5" text-anchor="middle" style="font-size:20px">5</text>
<text x="1139.4" y="65.5" text-anchor="middle" style="font-size:20px">10</text>
<text x="1183.4" y="65.5" text-anchor="middle" style="font-size:20px">15</text>
<text x="1227.5" y="65.5" text-anchor="middle" style="font-size:20px">20</text>
<text x="1271.6" y="65.5" text-anchor="middle" style="font-size:20px">25</text>
<text x="1315.6" y="65.5" text-anchor="middle" style="font-size:20px">30</text>
<text x="1359.7" y="65.5" text-anchor="middle" style="font-size:20px">35</text>
<text x="1403.8" y="65.5" text-anchor="middle" style="font-size:20px">40</text>
<text x="1427.9" y="473.3" text-anchor="middle" style="font-size:20px">5</text>
<text x="1472.0" y="473.3" text-anchor="middle" style="font-size:20px">10</text>
<text x="1516.0" y="473.3" text-anchor="middle" style="font-size:20px">15</text>
<text x="1560.1" y="473.3" text-anchor="middle" style="font-size:20px">20</text>
<text x="1604.2" y="473.3" text-anchor="middle" style="font-size:20px">25</text>
<text x="1648.2" y="473.3" text-anchor="middle" style="font-size:20px">30</text>
<text x="1692.3" y="473.3" text-anchor="middle" style="font-size:20px">35</text>
<text x="1736.4" y="473.3" text-anchor="middle" style="font-size:20px">40</text>
<text x="920.3" y="506.2" text-anchor="middle" style="font-size:19px">gest.age</text>
<text transform="translate(19.8,272.2) rotate(-90)" text-anchor="middle" style="font-size:19px">mfas</text>
<text x="891.8" y="611.3" text-anchor="middle" style="font-weight:bold;font-size:22.5px;fill:#111">age predictor effect plot</text>
<rect x="89.1" y="676.3" width="330.5" height="14.0" fill="#f0f0f0"/>
<path d="M95.5,803.2 C96.3,803.4 98.6,804.1 100.1,804.5 C101.6,804.9 103.2,805.3 104.7,805.7 C106.2,806.1 107.8,806.5 109.3,806.9 C110.8,807.3 112.4,807.6 113.9,808.0 C115.4,808.4 117.0,808.8 118.5,809.1 C120.0,809.5 121.6,809.9 123.1,810.2 C124.6,810.6 126.2,810.9 127.7,811.3 C129.2,811.6 130.8,812.0 132.3,812.3 C133.8,812.6 135.4,813.0 136.9,813.3 C138.4,813.6 140.0,813.9 141.5,814.2 C143.0,814.6 144.6,814.9 146.1,815.2 C147.6,815.4 149.2,815.7 150.7,816.0 C152.2,816.3 153.8,816.6 155.3,816.8 C156.8,817.1 158.4,817.3 159.9,817.6 C161.4,817.8 163.0,818.1 164.5,818.3 C166.0,818.5 167.6,818.7 169.1,818.9 C170.6,819.2 172.2,819.3 173.7,819.5 C175.2,819.7 176.8,819.9 178.3,820.0 C179.8,820.2 181.4,820.3 182.9,820.5 C184.4,820.6 186.0,820.7 187.5,820.8 C189.0,820.9 190.6,821.0 192.1,821.1 C193.6,821.1 195.2,821.2 196.7,821.2 C198.2,821.3 199.8,821.3 201.3,821.3 C202.8,821.4 204.4,821.4 205.9,821.4 C207.4,821.4 209.0,821.4 210.5,821.4 C212.0,821.4 213.6,821.4 215.1,821.4 C216.6,821.4 218.2,821.4 219.7,821.4 C221.2,821.4 222.8,821.4 224.3,821.4 C225.8,821.4 227.4,821.4 228.9,821.5 C230.4,821.5 232.0,821.6 233.5,821.7 C235.0,821.7 236.6,821.8 238.1,821.9 C239.6,822.1 241.2,822.2 242.7,822.3 C244.2,822.5 245.8,822.6 247.3,822.8 C248.8,823.0 250.4,823.2 251.9,823.4 C253.4,823.6 255.0,823.9 256.5,824.1 C258.0,824.4 259.6,824.6 261.1,824.9 C262.6,825.2 264.2,825.5 265.7,825.8 C267.2,826.1 268.8,826.4 270.3,826.7 C271.8,827.0 273.4,827.3 274.9,827.7 C276.4,828.0 278.0,828.3 279.5,828.6 C281.0,828.9 282.6,829.3 284.1,829.6 C285.6,829.9 287.2,830.2 288.7,830.5 C290.2,830.8 291.8,831.1 293.3,831.3 C294.8,831.6 296.4,831.9 297.9,832.1 C299.4,832.4 301.0,832.6 302.5,832.8 C304.0,833.0 305.6,833.3 307.1,833.5 C308.6,833.7 310.2,833.8 311.7,834.0 C313.2,834.2 314.8,834.3 316.3,834.5 C317.8,834.6 319.4,834.8 320.9,834.9 C322.4,835.0 324.0,835.2 325.5,835.3 C327.0,835.4 328.6,835.5 330.1,835.6 C331.6,835.7 333.2,835.7 334.7,835.8 C336.2,835.9 337.8,836.0 339.3,836.0 C340.8,836.1 342.4,836.1 343.9,836.2 C345.4,836.2 347.0,836.2 348.5,836.3 C350.0,836.3 351.6,836.3 353.1,836.3 C354.6,836.3 356.2,836.4 357.7,836.4 C359.2,836.4 360.8,836.4 362.3,836.3 C363.8,836.3 365.4,836.3 366.9,836.3 C368.4,836.3 370.0,836.2 371.5,836.2 C373.0,836.2 374.6,836.1 376.1,836.1 C377.6,836.1 379.2,836.0 380.7,836.0 C382.2,835.9 383.8,835.8 385.3,835.8 C386.8,835.7 388.4,835.6 389.9,835.6 C391.4,835.5 393.0,835.4 394.5,835.3 C396.0,835.3 397.6,835.2 399.1,835.1 C400.6,835.0 402.2,834.9 403.7,834.8 C405.2,834.7 406.8,834.6 408.3,834.5 C409.8,834.3 412.1,834.2 412.9,834.1 L412.9,1016.8 C412.1,1015.3 409.8,1010.6 408.3,1007.5 C406.8,1004.4 405.2,1001.4 403.7,998.4 C402.2,995.5 400.6,992.5 399.1,989.6 C397.6,986.7 396.0,983.9 394.5,981.0 C393.0,978.2 391.4,975.5 389.9,972.7 C388.4,970.0 386.8,967.3 385.3,964.7 C383.8,962.0 382.2,959.4 380.7,956.8 C379.2,954.3 377.6,951.7 376.1,949.3 C374.6,946.8 373.0,944.3 371.5,941.9 C370.0,939.5 368.4,937.2 366.9,934.9 C365.4,932.6 363.8,930.3 362.3,928.1 C360.8,925.8 359.2,923.6 357.7,921.5 C356.2,919.4 354.6,917.3 353.1,915.2 C351.6,913.1 350.0,911.1 348.5,909.1 C347.0,907.2 345.4,905.2 343.9,903.4 C342.4,901.5 340.8,899.6 339.3,897.8 C337.8,896.0 336.2,894.3 334.7,892.6 C333.2,890.9 331.6,889.2 330.1,887.6 C328.6,886.0 327.0,884.4 325.5,882.9 C324.0,881.4 322.4,879.9 320.9,878.5 C319.4,877.0 317.8,875.6 316.3,874.3 C314.8,873.0 313.2,871.7 311.7,870.4 C310.2,869.2 308.6,868.0 307.1,866.9 C305.6,865.7 304.0,864.6 302.5,863.6 C301.0,862.5 299.4,861.5 297.9,860.6 C296.4,859.7 294.8,858.8 293.3,857.9 C291.8,857.1 290.2,856.3 288.7,855.5 C287.2,854.8 285.6,854.0 284.1,853.4 C282.6,852.7 281.0,852.1 279.5,851.5 C278.0,850.9 276.4,850.4 274.9,849.9 C273.4,849.4 271.8,848.9 270.3,848.5 C268.8,848.0 267.2,847.6 265.7,847.2 C264.2,846.8 262.6,846.5 261.1,846.2 C259.6,845.8 258.0,845.5 256.5,845.2 C255.0,844.9 253.4,844.7 251.9,844.4 C250.4,844.2 248.8,844.0 247.3,843.8 C245.8,843.5 244.2,843.4 242.7,843.2 C241.2,843.0 239.6,842.9 238.1,842.7 C236.6,842.6 235.0,842.5 233.5,842.4 C232.0,842.3 230.4,842.2 228.9,842.2 C227.4,842.1 225.8,842.1 224.3,842.1 C222.8,842.1 221.2,842.1 219.7,842.1 C218.2,842.2 216.6,842.3 215.1,842.4 C213.6,842.5 212.0,842.7 210.5,842.9 C209.0,843.1 207.4,843.3 205.9,843.6 C204.4,843.8 202.8,844.2 201.3,844.5 C199.8,844.9 198.2,845.3 196.7,845.8 C195.2,846.2 193.6,846.7 192.1,847.3 C190.6,847.9 189.0,848.5 187.5,849.1 C186.0,849.8 184.4,850.5 182.9,851.3 C181.4,852.0 179.8,852.8 178.3,853.7 C176.8,854.6 175.2,855.5 173.7,856.5 C172.2,857.4 170.6,858.4 169.1,859.5 C167.6,860.5 166.0,861.7 164.5,862.8 C163.0,864.0 161.4,865.2 159.9,866.4 C158.4,867.7 156.8,869.0 155.3,870.3 C153.8,871.6 152.2,873.0 150.7,874.4 C149.2,875.9 147.6,877.3 146.1,878.9 C144.6,880.4 143.0,881.9 141.5,883.5 C140.0,885.1 138.4,886.8 136.9,888.5 C135.4,890.2 133.8,891.9 132.3,893.7 C130.8,895.4 129.2,897.3 127.7,899.1 C126.2,901.0 124.6,902.9 123.1,904.8 C121.6,906.8 120.0,908.8 118.5,910.8 C117.0,912.8 115.4,914.9 113.9,917.0 C112.4,919.1 110.8,921.3 109.3,923.5 C107.8,925.7 106.2,927.9 104.7,930.2 C103.2,932.5 101.6,934.8 100.1,937.1 C98.6,939.5 96.3,943.2 95.5,944.4 Z" fill="#d6e7fa"/>
<path d="M95.5,873.8 C96.3,873.3 98.6,871.8 100.1,870.8 C101.6,869.8 103.2,868.9 104.7,867.9 C106.2,867.0 107.8,866.1 109.3,865.2 C110.8,864.3 112.4,863.4 113.9,862.5 C115.4,861.6 117.0,860.8 118.5,860.0 C120.0,859.1 121.6,858.3 123.1,857.5 C124.6,856.7 126.2,856.0 127.7,855.2 C129.2,854.4 130.8,853.7 132.3,853.0 C133.8,852.3 135.4,851.6 136.9,850.9 C138.4,850.2 140.0,849.5 141.5,848.9 C143.0,848.2 144.6,847.6 146.1,847.0 C147.6,846.4 149.2,845.8 150.7,845.2 C152.2,844.7 153.8,844.1 155.3,843.6 C156.8,843.0 158.4,842.5 159.9,842.0 C161.4,841.5 163.0,841.0 164.5,840.6 C166.0,840.1 167.6,839.6 169.1,839.2 C170.6,838.8 172.2,838.4 173.7,838.0 C175.2,837.6 176.8,837.2 178.3,836.9 C179.8,836.5 181.4,836.2 182.9,835.9 C184.4,835.5 186.0,835.2 187.5,835.0 C189.0,834.7 190.6,834.4 192.1,834.2 C193.6,833.9 195.2,833.7 196.7,833.5 C198.2,833.3 199.8,833.1 201.3,832.9 C202.8,832.8 204.4,832.6 205.9,832.5 C207.4,832.3 209.0,832.2 210.5,832.1 C212.0,832.0 213.6,831.9 215.1,831.9 C216.6,831.8 218.2,831.8 219.7,831.8 C221.2,831.7 222.8,831.7 224.3,831.7 C225.8,831.7 227.4,831.8 228.9,831.8 C230.4,831.9 232.0,831.9 233.5,832.0 C235.0,832.1 236.6,832.2 238.1,832.3 C239.6,832.5 241.2,832.6 242.7,832.8 C244.2,832.9 245.8,833.1 247.3,833.3 C248.8,833.5 250.4,833.7 251.9,833.9 C253.4,834.2 255.0,834.4 256.5,834.7 C258.0,834.9 259.6,835.2 261.1,835.5 C262.6,835.8 264.2,836.2 265.7,836.5 C267.2,836.8 268.8,837.2 270.3,837.6 C271.8,838.0 273.4,838.4 274.9,838.8 C276.4,839.2 278.0,839.6 279.5,840.1 C281.0,840.5 282.6,841.0 284.1,841.5 C285.6,842.0 287.2,842.5 288.7,843.0 C290.2,843.5 291.8,844.1 293.3,844.6 C294.8,845.2 296.4,845.8 297.9,846.4 C299.4,847.0 301.0,847.6 302.5,848.2 C304.0,848.8 305.6,849.5 307.1,850.2 C308.6,850.8 310.2,851.5 311.7,852.2 C313.2,852.9 314.8,853.7 316.3,854.4 C317.8,855.1 319.4,855.9 320.9,856.7 C322.4,857.5 324.0,858.3 325.5,859.1 C327.0,859.9 328.6,860.7 330.1,861.6 C331.6,862.4 333.2,863.3 334.7,864.2 C336.2,865.1 337.8,866.0 339.3,866.9 C340.8,867.9 342.4,868.8 343.9,869.8 C345.4,870.7 347.0,871.7 348.5,872.7 C350.0,873.7 351.6,874.7 353.1,875.8 C354.6,876.8 356.2,877.9 357.7,878.9 C359.2,880.0 360.8,881.1 362.3,882.2 C363.8,883.3 365.4,884.4 366.9,885.6 C368.4,886.7 370.0,887.9 371.5,889.1 C373.0,890.3 374.6,891.5 376.1,892.7 C377.6,893.9 379.2,895.1 380.7,896.4 C382.2,897.6 383.8,898.9 385.3,900.2 C386.8,901.5 388.4,902.8 389.9,904.1 C391.4,905.5 393.0,906.8 394.5,908.2 C396.0,909.6 397.6,910.9 399.1,912.3 C400.6,913.7 402.2,915.2 403.7,916.6 C405.2,918.0 406.8,919.5 408.3,921.0 C409.8,922.5 412.1,924.7 412.9,925.5" fill="none" stroke="#1c76d5" stroke-width="3" stroke-linecap="round" stroke-linejoin="round"/>
<line x1="96.0" y1="1016.5" x2="96.0" y2="1029.3" stroke="#777" stroke-width="1.9"/>
<line x1="106.2" y1="1016.5" x2="106.2" y2="1029.3" stroke="#777" stroke-width="1.9"/>
<line x1="116.4" y1="1016.5" x2="116.4" y2="1029.3" stroke="#777" stroke-width="1.9"/>
<line x1="126.6" y1="1016.5" x2="126.6" y2="1029.3" stroke="#777" stroke-width="1.9"/>
<line x1="136.8" y1="1016.5" x2="136.8" y2="1029.3" stroke="#000" stroke-width="4.6"/>
<line x1="147.1" y1="1016.5" x2="147.1" y2="1029.3" stroke="#000" stroke-width="4.6"/>
<line x1="157.3" y1="1016.5" x2="157.3" y2="1029.3" stroke="#000" stroke-width="4.6"/>
<line x1="167.5" y1="1016.5" x2="167.5" y2="1029.3" stroke="#000" stroke-width="4.6"/>
<line x1="177.7" y1="1016.5" x2="177.7" y2="1029.3" stroke="#000" stroke-width="4.6"/>
<line x1="187.9" y1="1016.5" x2="187.9" y2="1029.3" stroke="#000" stroke-width="4.6"/>
<line x1="198.2" y1="1016.5" x2="198.2" y2="1029.3" stroke="#000" stroke-width="4.6"/>
<line x1="208.4" y1="1016.5" x2="208.4" y2="1029.3" stroke="#000" stroke-width="4.6"/>
<line x1="218.6" y1="1016.5" x2="218.6" y2="1029.3" stroke="#000" stroke-width="4.6"/>
<line x1="228.8" y1="1016.5" x2="228.8" y2="1029.3" stroke="#000" stroke-width="4.6"/>
<line x1="239.0" y1="1016.5" x2="239.0" y2="1029.3" stroke="#000" stroke-width="4.6"/>
<line x1="249.3" y1="1016.5" x2="249.3" y2="1029.3" stroke="#000" stroke-width="4.6"/>
<line x1="259.5" y1="1016.5" x2="259.5" y2="1029.3" stroke="#000" stroke-width="4.6"/>
<line x1="269.7" y1="1016.5" x2="269.7" y2="1029.3" stroke="#000" stroke-width="4.6"/>
<line x1="279.9" y1="1016.5" x2="279.9" y2="1029.3" stroke="#000" stroke-width="4.6"/>
<line x1="290.1" y1="1016.5" x2="290.1" y2="1029.3" stroke="#000" stroke-width="4.6"/>
<line x1="300.4" y1="1016.5" x2="300.4" y2="1029.3" stroke="#000" stroke-width="4.6"/>
<line x1="310.6" y1="1016.5" x2="310.6" y2="1029.3" stroke="#000" stroke-width="4.6"/>
<line x1="320.8" y1="1016.5" x2="320.8" y2="1029.3" stroke="#000" stroke-width="4.6"/>
<line x1="331.0" y1="1016.5" x2="331.0" y2="1029.3" stroke="#000" stroke-width="4.6"/>
<line x1="341.2" y1="1016.5" x2="341.2" y2="1029.3" stroke="#000" stroke-width="4.6"/>
<line x1="351.5" y1="1016.5" x2="351.5" y2="1029.3" stroke="#333" stroke-width="3.6"/>
<line x1="361.7" y1="1016.5" x2="361.7" y2="1029.3" stroke="#333" stroke-width="3.6"/>
<line x1="371.9" y1="1016.5" x2="371.9" y2="1029.3" stroke="#777" stroke-width="1.9"/>
<line x1="412.8" y1="1016.5" x2="412.8" y2="1029.3" stroke="#777" stroke-width="1.9"/>
<text x="253.4" y="689.9" text-anchor="middle" style="font-size:19px;fill:#2a2a2a;stroke:#2a2a2a;stroke-width:0.25px">gest.age = 5</text>
<rect x="423.6" y="676.3" width="328.7" height="14.0" fill="#f0f0f0"/>
<path d="M428.8,784.1 C429.6,784.4 431.9,785.1 433.4,785.6 C434.9,786.1 436.4,786.6 438.0,787.1 C439.5,787.6 441.0,788.1 442.6,788.5 C444.1,789.0 445.6,789.5 447.2,789.9 C448.7,790.4 450.2,790.8 451.7,791.3 C453.3,791.7 454.8,792.1 456.3,792.6 C457.9,793.0 459.4,793.4 460.9,793.8 C462.5,794.2 464.0,794.6 465.5,795.0 C467.0,795.4 468.6,795.8 470.1,796.2 C471.6,796.6 473.2,797.0 474.7,797.3 C476.2,797.7 477.8,798.1 479.3,798.4 C480.8,798.8 482.3,799.1 483.9,799.4 C485.4,799.8 486.9,800.1 488.5,800.4 C490.0,800.7 491.5,801.0 493.1,801.3 C494.6,801.6 496.1,801.9 497.6,802.2 C499.2,802.5 500.7,802.7 502.2,803.0 C503.8,803.2 505.3,803.5 506.8,803.7 C508.4,803.9 509.9,804.2 511.4,804.4 C512.9,804.6 514.5,804.8 516.0,805.0 C517.5,805.2 519.1,805.3 520.6,805.5 C522.1,805.7 523.7,805.8 525.2,805.9 C526.7,806.1 528.2,806.2 529.8,806.3 C531.3,806.5 532.8,806.6 534.4,806.7 C535.9,806.8 537.4,806.9 539.0,807.0 C540.5,807.1 542.0,807.2 543.5,807.2 C545.1,807.3 546.6,807.4 548.1,807.5 C549.7,807.6 551.2,807.6 552.7,807.7 C554.3,807.8 555.8,807.9 557.3,808.0 C558.8,808.1 560.4,808.2 561.9,808.3 C563.4,808.4 565.0,808.5 566.5,808.6 C568.0,808.7 569.6,808.8 571.1,808.9 C572.6,809.1 574.1,809.2 575.7,809.3 C577.2,809.5 578.7,809.6 580.3,809.8 C581.8,809.9 583.3,810.1 584.9,810.3 C586.4,810.4 587.9,810.6 589.4,810.8 C591.0,811.0 592.5,811.1 594.0,811.3 C595.6,811.5 597.1,811.7 598.6,811.9 C600.2,812.1 601.7,812.2 603.2,812.4 C604.7,812.6 606.3,812.8 607.8,813.0 C609.3,813.1 610.9,813.3 612.4,813.5 C613.9,813.7 615.5,813.8 617.0,814.0 C618.5,814.1 620.0,814.3 621.6,814.4 C623.1,814.5 624.6,814.6 626.2,814.8 C627.7,814.9 629.2,815.0 630.8,815.1 C632.3,815.2 633.8,815.2 635.3,815.3 C636.9,815.4 638.4,815.4 639.9,815.5 C641.5,815.5 643.0,815.5 644.5,815.6 C646.1,815.6 647.6,815.6 649.1,815.6 C650.6,815.6 652.2,815.6 653.7,815.6 C655.2,815.6 656.8,815.5 658.3,815.5 C659.8,815.5 661.4,815.4 662.9,815.4 C664.4,815.3 665.9,815.3 667.5,815.2 C669.0,815.1 670.5,815.0 672.1,814.9 C673.6,814.9 675.1,814.8 676.7,814.7 C678.2,814.6 679.7,814.4 681.2,814.3 C682.8,814.2 684.3,814.1 685.8,813.9 C687.4,813.8 688.9,813.7 690.4,813.5 C692.0,813.4 693.5,813.2 695.0,813.1 C696.5,812.9 698.1,812.7 699.6,812.5 C701.1,812.4 702.7,812.2 704.2,812.0 C705.7,811.8 707.3,811.6 708.8,811.4 C710.3,811.2 711.8,811.0 713.4,810.8 C714.9,810.5 716.4,810.3 718.0,810.1 C719.5,809.9 721.0,809.6 722.6,809.4 C724.1,809.1 725.6,808.9 727.1,808.6 C728.7,808.4 730.2,808.1 731.7,807.8 C733.3,807.6 734.8,807.3 736.3,807.0 C737.9,806.7 739.4,806.4 740.9,806.1 C742.4,805.8 744.7,805.4 745.5,805.2 L745.5,921.1 C744.7,920.2 742.4,917.7 740.9,916.0 C739.4,914.3 737.9,912.7 736.3,911.1 C734.8,909.4 733.3,907.8 731.7,906.2 C730.2,904.6 728.7,903.1 727.1,901.5 C725.6,900.0 724.1,898.5 722.6,897.0 C721.0,895.5 719.5,894.0 718.0,892.5 C716.4,891.1 714.9,889.6 713.4,888.2 C711.8,886.8 710.3,885.4 708.8,884.1 C707.3,882.7 705.7,881.3 704.2,880.0 C702.7,878.7 701.1,877.4 699.6,876.1 C698.1,874.8 696.5,873.6 695.0,872.3 C693.5,871.1 692.0,869.9 690.4,868.7 C688.9,867.5 687.4,866.3 685.8,865.2 C684.3,864.0 682.8,862.9 681.2,861.8 C679.7,860.7 678.2,859.6 676.7,858.5 C675.1,857.5 673.6,856.4 672.1,855.4 C670.5,854.4 669.0,853.4 667.5,852.5 C665.9,851.5 664.4,850.6 662.9,849.7 C661.4,848.7 659.8,847.8 658.3,847.0 C656.8,846.1 655.2,845.3 653.7,844.4 C652.2,843.6 650.6,842.8 649.1,842.1 C647.6,841.3 646.1,840.5 644.5,839.8 C643.0,839.1 641.5,838.4 639.9,837.7 C638.4,837.1 636.9,836.4 635.3,835.8 C633.8,835.2 632.3,834.6 630.8,834.1 C629.2,833.5 627.7,833.0 626.2,832.4 C624.6,831.9 623.1,831.5 621.6,831.0 C620.0,830.5 618.5,830.1 617.0,829.7 C615.5,829.3 613.9,828.9 612.4,828.5 C610.9,828.2 609.3,827.8 607.8,827.5 C606.3,827.2 604.7,826.9 603.2,826.6 C601.7,826.3 600.2,826.0 598.6,825.8 C597.1,825.5 595.6,825.3 594.0,825.0 C592.5,824.8 591.0,824.6 589.4,824.4 C587.9,824.2 586.4,824.0 584.9,823.8 C583.3,823.6 581.8,823.5 580.3,823.3 C578.7,823.1 577.2,823.0 575.7,822.8 C574.1,822.7 572.6,822.5 571.1,822.4 C569.6,822.3 568.0,822.1 566.5,822.0 C565.0,821.9 563.4,821.8 561.9,821.7 C560.4,821.6 558.8,821.5 557.3,821.4 C555.8,821.4 554.3,821.3 552.7,821.2 C551.2,821.2 549.7,821.1 548.1,821.1 C546.6,821.1 545.1,821.1 543.5,821.1 C542.0,821.1 540.5,821.1 539.0,821.1 C537.4,821.2 535.9,821.2 534.4,821.3 C532.8,821.4 531.3,821.5 529.8,821.7 C528.2,821.8 526.7,822.0 525.2,822.1 C523.7,822.3 522.1,822.5 520.6,822.8 C519.1,823.0 517.5,823.3 516.0,823.6 C514.5,823.8 512.9,824.2 511.4,824.5 C509.9,824.8 508.4,825.2 506.8,825.6 C505.3,826.0 503.8,826.4 502.2,826.9 C500.7,827.3 499.2,827.8 497.6,828.3 C496.1,828.8 494.6,829.3 493.1,829.9 C491.5,830.4 490.0,831.0 488.5,831.6 C486.9,832.2 485.4,832.8 483.9,833.5 C482.3,834.1 480.8,834.8 479.3,835.5 C477.8,836.2 476.2,836.9 474.7,837.6 C473.2,838.4 471.6,839.1 470.1,839.9 C468.6,840.7 467.0,841.5 465.5,842.4 C464.0,843.2 462.5,844.0 460.9,844.9 C459.4,845.8 457.9,846.7 456.3,847.6 C454.8,848.5 453.3,849.5 451.7,850.4 C450.2,851.4 448.7,852.4 447.2,853.4 C445.6,854.4 444.1,855.5 442.6,856.5 C441.0,857.6 439.5,858.6 438.0,859.7 C436.4,860.8 434.9,862.0 433.4,863.1 C431.9,864.2 429.6,866.0 428.8,866.6 Z" fill="#d6e7fa"/>
<path d="M428.8,825.4 C429.6,825.2 431.9,824.7 433.4,824.4 C434.9,824.0 436.4,823.7 438.0,823.4 C439.5,823.1 441.0,822.8 442.6,822.5 C444.1,822.2 445.6,821.9 447.2,821.7 C448.7,821.4 450.2,821.1 451.7,820.9 C453.3,820.6 454.8,820.3 456.3,820.1 C457.9,819.8 459.4,819.6 460.9,819.4 C462.5,819.1 464.0,818.9 465.5,818.7 C467.0,818.5 468.6,818.3 470.1,818.1 C471.6,817.9 473.2,817.7 474.7,817.5 C476.2,817.3 477.8,817.1 479.3,816.9 C480.8,816.8 482.3,816.6 483.9,816.5 C485.4,816.3 486.9,816.1 488.5,816.0 C490.0,815.9 491.5,815.7 493.1,815.6 C494.6,815.5 496.1,815.4 497.6,815.2 C499.2,815.1 500.7,815.0 502.2,814.9 C503.8,814.8 505.3,814.7 506.8,814.7 C508.4,814.6 509.9,814.5 511.4,814.4 C512.9,814.4 514.5,814.3 516.0,814.3 C517.5,814.2 519.1,814.2 520.6,814.1 C522.1,814.1 523.7,814.1 525.2,814.0 C526.7,814.0 528.2,814.0 529.8,814.0 C531.3,814.0 532.8,814.0 534.4,814.0 C535.9,814.0 537.4,814.0 539.0,814.1 C540.5,814.1 542.0,814.1 543.5,814.2 C545.1,814.2 546.6,814.2 548.1,814.3 C549.7,814.3 551.2,814.4 552.7,814.5 C554.3,814.5 555.8,814.6 557.3,814.7 C558.8,814.8 560.4,814.9 561.9,815.0 C563.4,815.1 565.0,815.2 566.5,815.3 C568.0,815.4 569.6,815.5 571.1,815.7 C572.6,815.8 574.1,815.9 575.7,816.1 C577.2,816.2 578.7,816.4 580.3,816.5 C581.8,816.7 583.3,816.9 584.9,817.0 C586.4,817.2 587.9,817.4 589.4,817.6 C591.0,817.8 592.5,818.0 594.0,818.2 C595.6,818.4 597.1,818.6 598.6,818.8 C600.2,819.0 601.7,819.3 603.2,819.5 C604.7,819.7 606.3,820.0 607.8,820.2 C609.3,820.5 610.9,820.7 612.4,821.0 C613.9,821.3 615.5,821.5 617.0,821.8 C618.5,822.1 620.0,822.4 621.6,822.7 C623.1,823.0 624.6,823.3 626.2,823.6 C627.7,823.9 629.2,824.2 630.8,824.6 C632.3,824.9 633.8,825.2 635.3,825.6 C636.9,825.9 638.4,826.2 639.9,826.6 C641.5,827.0 643.0,827.3 644.5,827.7 C646.1,828.1 647.6,828.4 649.1,828.8 C650.6,829.2 652.2,829.6 653.7,830.0 C655.2,830.4 656.8,830.8 658.3,831.2 C659.8,831.7 661.4,832.1 662.9,832.5 C664.4,832.9 665.9,833.4 667.5,833.8 C669.0,834.3 670.5,834.7 672.1,835.2 C673.6,835.7 675.1,836.1 676.7,836.6 C678.2,837.1 679.7,837.6 681.2,838.1 C682.8,838.5 684.3,839.0 685.8,839.6 C687.4,840.1 688.9,840.6 690.4,841.1 C692.0,841.6 693.5,842.1 695.0,842.7 C696.5,843.2 698.1,843.8 699.6,844.3 C701.1,844.9 702.7,845.4 704.2,846.0 C705.7,846.6 707.3,847.1 708.8,847.7 C710.3,848.3 711.8,848.9 713.4,849.5 C714.9,850.1 716.4,850.7 718.0,851.3 C719.5,851.9 721.0,852.5 722.6,853.2 C724.1,853.8 725.6,854.4 727.1,855.1 C728.7,855.7 730.2,856.4 731.7,857.0 C733.3,857.7 734.8,858.4 736.3,859.0 C737.9,859.7 739.4,860.4 740.9,861.1 C742.4,861.8 744.7,862.8 745.5,863.2" fill="none" stroke="#1c76d5" stroke-width="3" stroke-linecap="round" stroke-linejoin="round"/>
<line x1="429.3" y1="1016.5" x2="429.3" y2="1029.3" stroke="#777" stroke-width="1.9"/>
<line x1="439.5" y1="1016.5" x2="439.5" y2="1029.3" stroke="#777" stroke-width="1.9"/>
<line x1="449.7" y1="1016.5" x2="449.7" y2="1029.3" stroke="#777" stroke-width="1.9"/>
<line x1="459.9" y1="1016.5" x2="459.9" y2="1029.3" stroke="#777" stroke-width="1.9"/>
<line x1="470.1" y1="1016.5" x2="470.1" y2="1029.3" stroke="#000" stroke-width="4.6"/>
<line x1="480.4" y1="1016.5" x2="480.4" y2="1029.3" stroke="#000" stroke-width="4.6"/>
<line x1="490.6" y1="1016.5" x2="490.6" y2="1029.3" stroke="#000" stroke-width="4.6"/>
<line x1="500.8" y1="1016.5" x2="500.8" y2="1029.3" stroke="#000" stroke-width="4.6"/>
<line x1="511.0" y1="1016.5" x2="511.0" y2="1029.3" stroke="#000" stroke-width="4.6"/>
<line x1="521.2" y1="1016.5" x2="521.2" y2="1029.3" stroke="#000" stroke-width="4.6"/>
<line x1="531.5" y1="1016.5" x2="531.5" y2="1029.3" stroke="#000" stroke-width="4.6"/>
<line x1="541.7" y1="1016.5" x2="541.7" y2="1029.3" stroke="#000" stroke-width="4.6"/>
<line x1="551.9" y1="1016.5" x2="551.9" y2="1029.3" stroke="#000" stroke-width="4.6"/>
<line x1="562.1" y1="1016.5" x2="562.1" y2="1029.3" stroke="#000" stroke-width="4.6"/>
<line x1="572.3" y1="1016.5" x2="572.3" y2="1029.3" stroke="#000" stroke-width="4.6"/>
<line x1="582.6" y1="1016.5" x2="582.6" y2="1029.3" stroke="#000" stroke-width="4.6"/>
<line x1="592.8" y1="1016.5" x2="592.8" y2="1029.3" stroke="#000" stroke-width="4.6"/>
<line x1="603.0" y1="1016.5" x2="603.0" y2="1029.3" stroke="#000" stroke-width="4.6"/>
<line x1="613.2" y1="1016.5" x2="613.2" y2="1029.3" stroke="#000" stroke-width="4.6"/>
<line x1="623.4" y1="1016.5" x2="623.4" y2="1029.3" stroke="#000" stroke-width="4.6"/>
<line x1="633.7" y1="1016.5" x2="633.7" y2="1029.3" stroke="#000" stroke-width="4.6"/>
<line x1="643.9" y1="1016.5" x2="643.9" y2="1029.3" stroke="#000" stroke-width="4.6"/>
<line x1="654.1" y1="1016.5" x2="654.1" y2="1029.3" stroke="#000" stroke-width="4.6"/>
<line x1="664.3" y1="1016.5" x2="664.3" y2="1029.3" stroke="#000" stroke-width="4.6"/>
<line x1="674.5" y1="1016.5" x2="674.5" y2="1029.3" stroke="#000" stroke-width="4.6"/>
<line x1="684.8" y1="1016.5" x2="684.8" y2="1029.3" stroke="#333" stroke-width="3.6"/>
<line x1="695.0" y1="1016.5" x2="695.0" y2="1029.3" stroke="#333" stroke-width="3.6"/>
<line x1="705.2" y1="1016.5" x2="705.2" y2="1029.3" stroke="#777" stroke-width="1.9"/>
<line x1="746.1" y1="1016.5" x2="746.1" y2="1029.3" stroke="#777" stroke-width="1.9"/>
<text x="587.0" y="689.9" text-anchor="middle" style="font-size:19px;fill:#2a2a2a;stroke:#2a2a2a;stroke-width:0.25px">gest.age = 10</text>
<rect x="756.3" y="676.3" width="328.9" height="14.0" fill="#f0f0f0"/>
<path d="M762.5,759.6 C763.3,760.0 765.6,761.0 767.1,761.7 C768.6,762.4 770.1,763.0 771.7,763.7 C773.2,764.3 774.7,765.0 776.2,765.6 C777.8,766.3 779.3,766.9 780.8,767.5 C782.3,768.1 783.9,768.8 785.4,769.4 C786.9,770.0 788.4,770.6 790.0,771.2 C791.5,771.7 793.0,772.3 794.5,772.9 C796.1,773.5 797.6,774.0 799.1,774.6 C800.6,775.2 802.2,775.7 803.7,776.2 C805.2,776.8 806.7,777.3 808.3,777.8 C809.8,778.4 811.3,778.9 812.8,779.4 C814.4,779.9 815.9,780.4 817.4,780.9 C818.9,781.4 820.5,781.9 822.0,782.4 C823.5,782.9 825.0,783.3 826.6,783.8 C828.1,784.3 829.6,784.7 831.1,785.2 C832.7,785.6 834.2,786.1 835.7,786.5 C837.2,787.0 838.8,787.4 840.3,787.9 C841.8,788.3 843.3,788.8 844.9,789.2 C846.4,789.7 847.9,790.1 849.4,790.6 C851.0,791.1 852.5,791.6 854.0,792.1 C855.5,792.7 857.1,793.6 858.6,794.0 C860.1,794.4 861.6,794.4 863.2,794.5 C864.7,794.7 866.2,794.9 867.7,795.1 C869.3,795.2 870.8,795.4 872.3,795.5 C873.8,795.7 875.4,795.9 876.9,796.0 C878.4,796.2 879.9,796.3 881.5,796.5 C883.0,796.6 884.5,796.8 886.0,796.9 C887.6,797.1 889.1,797.2 890.6,797.4 C892.1,797.5 893.7,797.6 895.2,797.8 C896.7,797.9 898.2,798.0 899.8,798.2 C901.3,798.3 902.8,798.4 904.3,798.5 C905.9,798.7 907.4,798.8 908.9,798.9 C910.4,799.0 912.0,799.1 913.5,799.2 C915.0,799.3 916.5,799.4 918.1,799.5 C919.6,799.7 921.1,799.8 922.6,799.9 C924.2,799.9 925.7,800.0 927.2,800.1 C928.7,800.2 930.3,800.3 931.8,800.4 C933.3,800.5 934.8,800.6 936.4,800.7 C937.9,800.7 939.4,800.8 940.9,800.9 C942.5,801.0 944.0,801.0 945.5,801.1 C947.0,801.2 948.6,801.2 950.1,801.3 C951.6,801.4 953.1,801.4 954.7,801.5 C956.2,801.5 957.7,801.6 959.2,801.6 C960.8,801.7 962.3,801.7 963.8,801.8 C965.3,801.8 966.9,801.9 968.4,801.9 C969.9,801.9 971.4,802.1 973.0,801.8 C974.5,801.5 976.0,800.5 977.5,800.1 C979.1,799.6 980.6,799.4 982.1,799.1 C983.6,798.8 985.2,798.5 986.7,798.3 C988.2,798.0 989.7,797.7 991.3,797.4 C992.8,797.2 994.3,796.9 995.8,796.6 C997.4,796.3 998.9,796.0 1000.4,795.7 C1001.9,795.4 1003.5,795.2 1005.0,794.9 C1006.5,794.5 1008.0,794.2 1009.6,793.9 C1011.1,793.6 1012.6,793.3 1014.1,793.0 C1015.7,792.6 1017.2,792.3 1018.7,792.0 C1020.2,791.6 1021.8,791.3 1023.3,790.9 C1024.8,790.6 1026.3,790.2 1027.9,789.8 C1029.4,789.5 1030.9,789.1 1032.4,788.7 C1034.0,788.3 1035.5,787.9 1037.0,787.5 C1038.5,787.1 1040.1,786.7 1041.6,786.3 C1043.1,785.8 1044.6,785.4 1046.2,785.0 C1047.7,784.5 1049.2,784.1 1050.7,783.6 C1052.3,783.2 1053.8,782.7 1055.3,782.2 C1056.8,781.8 1058.4,781.3 1059.9,780.8 C1061.4,780.3 1062.9,779.8 1064.5,779.3 C1066.0,778.8 1067.5,778.3 1069.0,777.8 C1070.6,777.3 1072.1,776.7 1073.6,776.2 C1075.1,775.6 1077.4,774.8 1078.2,774.5 L1078.2,825.3 C1077.4,825.1 1075.1,824.6 1073.6,824.3 C1072.1,823.9 1070.6,823.6 1069.0,823.2 C1067.5,822.9 1066.0,822.5 1064.5,822.2 C1062.9,821.9 1061.4,821.5 1059.9,821.2 C1058.4,820.8 1056.8,820.5 1055.3,820.2 C1053.8,819.9 1052.3,819.5 1050.7,819.2 C1049.2,818.9 1047.7,818.6 1046.2,818.3 C1044.6,817.9 1043.1,817.6 1041.6,817.3 C1040.1,817.0 1038.5,816.7 1037.0,816.4 C1035.5,816.1 1034.0,815.8 1032.4,815.5 C1030.9,815.2 1029.4,814.9 1027.9,814.6 C1026.3,814.3 1024.8,814.0 1023.3,813.7 C1021.8,813.4 1020.2,813.1 1018.7,812.8 C1017.2,812.5 1015.7,812.2 1014.1,811.9 C1012.6,811.6 1011.1,811.3 1009.6,811.0 C1008.0,810.7 1006.5,810.5 1005.0,810.2 C1003.5,809.9 1001.9,809.6 1000.4,809.3 C998.9,809.0 997.4,808.7 995.8,808.4 C994.3,808.2 992.8,807.9 991.3,807.6 C989.7,807.3 988.2,807.0 986.7,806.6 C985.2,806.3 983.6,806.0 982.1,805.7 C980.6,805.3 979.1,805.1 977.5,804.6 C976.0,804.0 974.5,803.0 973.0,802.7 C971.4,802.3 969.9,802.4 968.4,802.3 C966.9,802.2 965.3,802.2 963.8,802.2 C962.3,802.1 960.8,802.1 959.2,802.0 C957.7,802.0 956.2,801.9 954.7,801.9 C953.1,801.8 951.6,801.8 950.1,801.7 C948.6,801.6 947.0,801.6 945.5,801.5 C944.0,801.4 942.5,801.4 940.9,801.3 C939.4,801.2 937.9,801.1 936.4,801.1 C934.8,801.0 933.3,800.9 931.8,800.8 C930.3,800.7 928.7,800.6 927.2,800.5 C925.7,800.4 924.2,800.3 922.6,800.3 C921.1,800.2 919.6,800.1 918.1,799.9 C916.5,799.8 915.0,799.7 913.5,799.6 C912.0,799.5 910.4,799.4 908.9,799.3 C907.4,799.2 905.9,799.1 904.3,798.9 C902.8,798.8 901.3,798.7 899.8,798.6 C898.2,798.4 896.7,798.3 895.2,798.2 C893.7,798.0 892.1,797.9 890.6,797.8 C889.1,797.6 887.6,797.5 886.0,797.3 C884.5,797.2 883.0,797.0 881.5,796.9 C879.9,796.7 878.4,796.6 876.9,796.4 C875.4,796.3 873.8,796.1 872.3,795.9 C870.8,795.8 869.3,795.6 867.7,795.5 C866.2,795.3 864.7,795.1 863.2,794.9 C861.6,794.8 860.1,794.4 858.6,794.4 C857.1,794.4 855.5,795.0 854.0,795.2 C852.5,795.4 851.0,795.5 849.4,795.6 C847.9,795.7 846.4,795.7 844.9,795.8 C843.3,795.8 841.8,795.9 840.3,795.9 C838.8,796.0 837.2,796.0 835.7,796.0 C834.2,796.1 832.7,796.1 831.1,796.1 C829.6,796.1 828.1,796.2 826.6,796.2 C825.0,796.2 823.5,796.2 822.0,796.3 C820.5,796.3 818.9,796.3 817.4,796.4 C815.9,796.4 814.4,796.4 812.8,796.5 C811.3,796.5 809.8,796.5 808.3,796.6 C806.7,796.6 805.2,796.6 803.7,796.7 C802.2,796.7 800.6,796.8 799.1,796.8 C797.6,796.8 796.1,796.9 794.5,796.9 C793.0,797.0 791.5,797.0 790.0,797.1 C788.4,797.1 786.9,797.2 785.4,797.3 C783.9,797.3 782.3,797.4 780.8,797.4 C779.3,797.5 777.8,797.6 776.2,797.6 C774.7,797.7 773.2,797.8 771.7,797.9 C770.1,797.9 768.6,798.0 767.1,798.1 C765.6,798.2 763.3,798.3 762.5,798.3 Z" fill="#d6e7fa"/>
<path d="M762.5,779.0 C763.3,779.1 765.6,779.6 767.1,779.9 C768.6,780.2 770.1,780.5 771.7,780.8 C773.2,781.1 774.7,781.3 776.2,781.6 C777.8,781.9 779.3,782.2 780.8,782.5 C782.3,782.8 783.9,783.0 785.4,783.3 C786.9,783.6 788.4,783.9 790.0,784.1 C791.5,784.4 793.0,784.7 794.5,784.9 C796.1,785.2 797.6,785.4 799.1,785.7 C800.6,786.0 802.2,786.2 803.7,786.5 C805.2,786.7 806.7,787.0 808.3,787.2 C809.8,787.4 811.3,787.7 812.8,787.9 C814.4,788.2 815.9,788.4 817.4,788.6 C818.9,788.9 820.5,789.1 822.0,789.3 C823.5,789.5 825.0,789.8 826.6,790.0 C828.1,790.2 829.6,790.4 831.1,790.6 C832.7,790.9 834.2,791.1 835.7,791.3 C837.2,791.5 838.8,791.7 840.3,791.9 C841.8,792.1 843.3,792.3 844.9,792.5 C846.4,792.7 847.9,792.9 849.4,793.1 C851.0,793.3 852.5,793.5 854.0,793.7 C855.5,793.8 857.1,794.0 858.6,794.2 C860.1,794.4 861.6,794.6 863.2,794.7 C864.7,794.9 866.2,795.1 867.7,795.3 C869.3,795.4 870.8,795.6 872.3,795.7 C873.8,795.9 875.4,796.1 876.9,796.2 C878.4,796.4 879.9,796.5 881.5,796.7 C883.0,796.8 884.5,797.0 886.0,797.1 C887.6,797.3 889.1,797.4 890.6,797.6 C892.1,797.7 893.7,797.8 895.2,798.0 C896.7,798.1 898.2,798.2 899.8,798.4 C901.3,798.5 902.8,798.6 904.3,798.7 C905.9,798.9 907.4,799.0 908.9,799.1 C910.4,799.2 912.0,799.3 913.5,799.4 C915.0,799.5 916.5,799.6 918.1,799.7 C919.6,799.9 921.1,800.0 922.6,800.1 C924.2,800.1 925.7,800.2 927.2,800.3 C928.7,800.4 930.3,800.5 931.8,800.6 C933.3,800.7 934.8,800.8 936.4,800.9 C937.9,800.9 939.4,801.0 940.9,801.1 C942.5,801.2 944.0,801.2 945.5,801.3 C947.0,801.4 948.6,801.4 950.1,801.5 C951.6,801.6 953.1,801.6 954.7,801.7 C956.2,801.7 957.7,801.8 959.2,801.8 C960.8,801.9 962.3,801.9 963.8,802.0 C965.3,802.0 966.9,802.1 968.4,802.1 C969.9,802.2 971.4,802.2 973.0,802.2 C974.5,802.3 976.0,802.3 977.5,802.3 C979.1,802.4 980.6,802.4 982.1,802.4 C983.6,802.4 985.2,802.4 986.7,802.5 C988.2,802.5 989.7,802.5 991.3,802.5 C992.8,802.5 994.3,802.5 995.8,802.5 C997.4,802.5 998.9,802.5 1000.4,802.5 C1001.9,802.5 1003.5,802.5 1005.0,802.5 C1006.5,802.5 1008.0,802.5 1009.6,802.5 C1011.1,802.5 1012.6,802.5 1014.1,802.4 C1015.7,802.4 1017.2,802.4 1018.7,802.4 C1020.2,802.3 1021.8,802.3 1023.3,802.3 C1024.8,802.3 1026.3,802.2 1027.9,802.2 C1029.4,802.2 1030.9,802.1 1032.4,802.1 C1034.0,802.0 1035.5,802.0 1037.0,801.9 C1038.5,801.9 1040.1,801.8 1041.6,801.8 C1043.1,801.7 1044.6,801.7 1046.2,801.6 C1047.7,801.6 1049.2,801.5 1050.7,801.4 C1052.3,801.4 1053.8,801.3 1055.3,801.2 C1056.8,801.1 1058.4,801.1 1059.9,801.0 C1061.4,800.9 1062.9,800.8 1064.5,800.8 C1066.0,800.7 1067.5,800.6 1069.0,800.5 C1070.6,800.4 1072.1,800.3 1073.6,800.2 C1075.1,800.1 1077.4,800.0 1078.2,799.9" fill="none" stroke="#1c76d5" stroke-width="3" stroke-linecap="round" stroke-linejoin="round"/>
<line x1="763.1" y1="1016.5" x2="763.1" y2="1029.3" stroke="#777" stroke-width="1.9"/>
<line x1="773.3" y1="1016.5" x2="773.3" y2="1029.3" stroke="#777" stroke-width="1.9"/>
<line x1="783.5" y1="1016.5" x2="783.5" y2="1029.3" stroke="#777" stroke-width="1.9"/>
<line x1="793.7" y1="1016.5" x2="793.7" y2="1029.3" stroke="#777" stroke-width="1.9"/>
<line x1="803.9" y1="1016.5" x2="803.9" y2="1029.3" stroke="#000" stroke-width="4.6"/>
<line x1="814.2" y1="1016.5" x2="814.2" y2="1029.3" stroke="#000" stroke-width="4.6"/>
<line x1="824.4" y1="1016.5" x2="824.4" y2="1029.3" stroke="#000" stroke-width="4.6"/>
<line x1="834.6" y1="1016.5" x2="834.6" y2="1029.3" stroke="#000" stroke-width="4.6"/>
<line x1="844.8" y1="1016.5" x2="844.8" y2="1029.3" stroke="#000" stroke-width="4.6"/>
<line x1="855.0" y1="1016.5" x2="855.0" y2="1029.3" stroke="#000" stroke-width="4.6"/>
<line x1="865.3" y1="1016.5" x2="865.3" y2="1029.3" stroke="#000" stroke-width="4.6"/>
<line x1="875.5" y1="1016.5" x2="875.5" y2="1029.3" stroke="#000" stroke-width="4.6"/>
<line x1="885.7" y1="1016.5" x2="885.7" y2="1029.3" stroke="#000" stroke-width="4.6"/>
<line x1="895.9" y1="1016.5" x2="895.9" y2="1029.3" stroke="#000" stroke-width="4.6"/>
<line x1="906.1" y1="1016.5" x2="906.1" y2="1029.3" stroke="#000" stroke-width="4.6"/>
<line x1="916.4" y1="1016.5" x2="916.4" y2="1029.3" stroke="#000" stroke-width="4.6"/>
<line x1="926.6" y1="1016.5" x2="926.6" y2="1029.3" stroke="#000" stroke-width="4.6"/>
<line x1="936.8" y1="1016.5" x2="936.8" y2="1029.3" stroke="#000" stroke-width="4.6"/>
<line x1="947.0" y1="1016.5" x2="947.0" y2="1029.3" stroke="#000" stroke-width="4.6"/>
<line x1="957.2" y1="1016.5" x2="957.2" y2="1029.3" stroke="#000" stroke-width="4.6"/>
<line x1="967.5" y1="1016.5" x2="967.5" y2="1029.3" stroke="#000" stroke-width="4.6"/>
<line x1="977.7" y1="1016.5" x2="977.7" y2="1029.3" stroke="#000" stroke-width="4.6"/>
<line x1="987.9" y1="1016.5" x2="987.9" y2="1029.3" stroke="#000" stroke-width="4.6"/>
<line x1="998.1" y1="1016.5" x2="998.1" y2="1029.3" stroke="#000" stroke-width="4.6"/>
<line x1="1008.3" y1="1016.5" x2="1008.3" y2="1029.3" stroke="#000" stroke-width="4.6"/>
<line x1="1018.6" y1="1016.5" x2="1018.6" y2="1029.3" stroke="#333" stroke-width="3.6"/>
<line x1="1028.8" y1="1016.5" x2="1028.8" y2="1029.3" stroke="#333" stroke-width="3.6"/>
<line x1="1039.0" y1="1016.5" x2="1039.0" y2="1029.3" stroke="#777" stroke-width="1.9"/>
<line x1="1079.9" y1="1016.5" x2="1079.9" y2="1029.3" stroke="#777" stroke-width="1.9"/>
<text x="919.8" y="689.9" text-anchor="middle" style="font-size:19px;fill:#2a2a2a;stroke:#2a2a2a;stroke-width:0.25px">gest.age = 20</text>
<rect x="1089.2" y="676.3" width="329.3" height="14.0" fill="#f0f0f0"/>
<path d="M1095.5,729.9 C1096.3,730.4 1098.6,732.1 1100.1,733.2 C1101.6,734.2 1103.1,735.3 1104.7,736.4 C1106.2,737.4 1107.7,738.4 1109.3,739.4 C1110.8,740.5 1112.3,741.5 1113.9,742.4 C1115.4,743.4 1116.9,744.4 1118.4,745.3 C1120.0,746.3 1121.5,747.2 1123.0,748.2 C1124.6,749.1 1126.1,750.0 1127.6,750.9 C1129.2,751.7 1130.7,752.6 1132.2,753.5 C1133.7,754.3 1135.3,755.2 1136.8,756.0 C1138.3,756.8 1139.9,757.6 1141.4,758.4 C1142.9,759.2 1144.5,760.0 1146.0,760.7 C1147.5,761.5 1149.0,762.2 1150.6,763.0 C1152.1,763.7 1153.6,764.4 1155.2,765.1 C1156.7,765.8 1158.2,766.5 1159.8,767.1 C1161.3,767.8 1162.8,768.4 1164.3,769.1 C1165.9,769.7 1167.4,770.3 1168.9,770.9 C1170.5,771.5 1172.0,772.1 1173.5,772.6 C1175.1,773.2 1176.6,773.7 1178.1,774.3 C1179.6,774.8 1181.2,775.3 1182.7,775.8 C1184.2,776.3 1185.8,776.8 1187.3,777.3 C1188.8,777.7 1190.4,778.2 1191.9,778.6 C1193.4,779.0 1194.9,779.5 1196.5,779.9 C1198.0,780.3 1199.5,780.7 1201.1,781.0 C1202.6,781.4 1204.1,781.8 1205.7,782.1 C1207.2,782.5 1208.7,782.8 1210.2,783.1 C1211.8,783.4 1213.3,783.7 1214.8,784.0 C1216.4,784.3 1217.9,784.6 1219.4,784.9 C1221.0,785.1 1222.5,785.4 1224.0,785.7 C1225.5,785.9 1227.1,786.2 1228.6,786.4 C1230.1,786.7 1231.7,786.9 1233.2,787.1 C1234.7,787.4 1236.3,787.6 1237.8,787.9 C1239.3,788.1 1240.8,788.4 1242.4,788.7 C1243.9,789.0 1245.4,789.4 1247.0,789.6 C1248.5,789.8 1250.0,789.8 1251.6,789.9 C1253.1,789.9 1254.6,790.0 1256.1,790.1 C1257.7,790.1 1259.2,790.1 1260.7,790.2 C1262.3,790.2 1263.8,790.2 1265.3,790.2 C1266.9,790.3 1268.4,790.3 1269.9,790.3 C1271.4,790.3 1273.0,790.2 1274.5,790.2 C1276.0,790.2 1277.6,790.2 1279.1,790.1 C1280.6,790.1 1282.2,790.0 1283.7,790.0 C1285.2,789.9 1286.7,789.9 1288.3,789.8 C1289.8,789.7 1291.3,789.6 1292.9,789.5 C1294.4,789.4 1295.9,789.3 1297.5,789.2 C1299.0,789.1 1300.5,789.0 1302.0,788.8 C1303.6,788.7 1305.1,788.6 1306.6,788.4 C1308.2,788.3 1309.7,788.1 1311.2,787.9 C1312.8,787.8 1314.3,787.6 1315.8,787.4 C1317.3,787.2 1318.9,787.3 1320.4,786.8 C1321.9,786.3 1323.5,785.2 1325.0,784.5 C1326.5,783.8 1328.1,783.2 1329.6,782.6 C1331.1,782.0 1332.6,781.5 1334.2,780.9 C1335.7,780.3 1337.2,779.7 1338.8,779.1 C1340.3,778.5 1341.8,777.9 1343.4,777.3 C1344.9,776.7 1346.4,776.1 1347.9,775.4 C1349.5,774.8 1351.0,774.1 1352.5,773.5 C1354.1,772.8 1355.6,772.2 1357.1,771.5 C1358.7,770.8 1360.2,770.1 1361.7,769.4 C1363.2,768.6 1364.8,767.9 1366.3,767.2 C1367.8,766.4 1369.4,765.7 1370.9,764.9 C1372.4,764.1 1374.0,763.3 1375.5,762.5 C1377.0,761.7 1378.5,760.9 1380.1,760.1 C1381.6,759.3 1383.1,758.4 1384.7,757.6 C1386.2,756.7 1387.7,755.8 1389.3,754.9 C1390.8,754.1 1392.3,753.1 1393.8,752.2 C1395.4,751.3 1396.9,750.4 1398.4,749.4 C1400.0,748.5 1401.5,747.5 1403.0,746.5 C1404.6,745.5 1406.1,744.5 1407.6,743.5 C1409.1,742.5 1411.4,741.0 1412.2,740.5 L1412.2,787.4 C1411.4,787.4 1409.1,787.6 1407.6,787.7 C1406.1,787.7 1404.6,787.8 1403.0,787.9 C1401.5,788.0 1400.0,788.1 1398.4,788.1 C1396.9,788.2 1395.4,788.3 1393.8,788.4 C1392.3,788.4 1390.8,788.5 1389.3,788.5 C1387.7,788.6 1386.2,788.7 1384.7,788.7 C1383.1,788.8 1381.6,788.8 1380.1,788.9 C1378.5,788.9 1377.0,789.0 1375.5,789.0 C1374.0,789.1 1372.4,789.1 1370.9,789.1 C1369.4,789.2 1367.8,789.2 1366.3,789.2 C1364.8,789.3 1363.2,789.3 1361.7,789.3 C1360.2,789.3 1358.7,789.3 1357.1,789.3 C1355.6,789.4 1354.1,789.4 1352.5,789.4 C1351.0,789.4 1349.5,789.4 1347.9,789.3 C1346.4,789.3 1344.9,789.3 1343.4,789.3 C1341.8,789.3 1340.3,789.2 1338.8,789.2 C1337.2,789.2 1335.7,789.1 1334.2,789.0 C1332.6,789.0 1331.1,788.9 1329.6,788.8 C1328.1,788.6 1326.5,788.5 1325.0,788.3 C1323.5,788.0 1321.9,787.3 1320.4,787.2 C1318.9,787.2 1317.3,787.6 1315.8,787.8 C1314.3,788.0 1312.8,788.2 1311.2,788.3 C1309.7,788.5 1308.2,788.7 1306.6,788.8 C1305.1,789.0 1303.6,789.1 1302.0,789.2 C1300.5,789.4 1299.0,789.5 1297.5,789.6 C1295.9,789.7 1294.4,789.8 1292.9,789.9 C1291.3,790.0 1289.8,790.1 1288.3,790.2 C1286.7,790.3 1285.2,790.3 1283.7,790.4 C1282.2,790.4 1280.6,790.5 1279.1,790.5 C1277.6,790.6 1276.0,790.6 1274.5,790.6 C1273.0,790.6 1271.4,790.7 1269.9,790.7 C1268.4,790.7 1266.9,790.7 1265.3,790.6 C1263.8,790.6 1262.3,790.6 1260.7,790.6 C1259.2,790.5 1257.7,790.5 1256.1,790.5 C1254.6,790.4 1253.1,790.3 1251.6,790.3 C1250.0,790.2 1248.5,790.0 1247.0,790.0 C1245.4,790.1 1243.9,790.4 1242.4,790.5 C1240.8,790.5 1239.3,790.6 1237.8,790.6 C1236.3,790.6 1234.7,790.5 1233.2,790.5 C1231.7,790.5 1230.1,790.4 1228.6,790.3 C1227.1,790.3 1225.5,790.2 1224.0,790.1 C1222.5,790.0 1221.0,789.9 1219.4,789.7 C1217.9,789.6 1216.4,789.5 1214.8,789.4 C1213.3,789.2 1211.8,789.1 1210.2,789.0 C1208.7,788.8 1207.2,788.7 1205.7,788.5 C1204.1,788.3 1202.6,788.2 1201.1,788.0 C1199.5,787.9 1198.0,787.7 1196.5,787.5 C1194.9,787.4 1193.4,787.2 1191.9,787.0 C1190.4,786.8 1188.8,786.7 1187.3,786.5 C1185.8,786.3 1184.2,786.1 1182.7,785.9 C1181.2,785.8 1179.6,785.6 1178.1,785.4 C1176.6,785.2 1175.1,785.0 1173.5,784.8 C1172.0,784.6 1170.5,784.4 1168.9,784.2 C1167.4,784.0 1165.9,783.8 1164.3,783.6 C1162.8,783.4 1161.3,783.2 1159.8,783.0 C1158.2,782.8 1156.7,782.6 1155.2,782.4 C1153.6,782.2 1152.1,782.0 1150.6,781.8 C1149.0,781.6 1147.5,781.4 1146.0,781.2 C1144.5,781.0 1142.9,780.8 1141.4,780.5 C1139.9,780.3 1138.3,780.1 1136.8,779.9 C1135.3,779.7 1133.7,779.4 1132.2,779.2 C1130.7,779.0 1129.2,778.8 1127.6,778.5 C1126.1,778.3 1124.6,778.1 1123.0,777.8 C1121.5,777.6 1120.0,777.4 1118.4,777.1 C1116.9,776.9 1115.4,776.7 1113.9,776.4 C1112.3,776.2 1110.8,775.9 1109.3,775.7 C1107.7,775.4 1106.2,775.2 1104.7,774.9 C1103.1,774.7 1101.6,774.4 1100.1,774.2 C1098.6,773.9 1096.3,773.5 1095.5,773.4 Z" fill="#d6e7fa"/>
<path d="M1095.5,751.6 C1096.3,752.0 1098.6,753.0 1100.1,753.7 C1101.6,754.3 1103.1,755.0 1104.7,755.6 C1106.2,756.3 1107.7,756.9 1109.3,757.6 C1110.8,758.2 1112.3,758.8 1113.9,759.4 C1115.4,760.0 1116.9,760.6 1118.4,761.2 C1120.0,761.8 1121.5,762.4 1123.0,763.0 C1124.6,763.6 1126.1,764.1 1127.6,764.7 C1129.2,765.3 1130.7,765.8 1132.2,766.3 C1133.7,766.9 1135.3,767.4 1136.8,767.9 C1138.3,768.5 1139.9,769.0 1141.4,769.5 C1142.9,770.0 1144.5,770.5 1146.0,771.0 C1147.5,771.4 1149.0,771.9 1150.6,772.4 C1152.1,772.9 1153.6,773.3 1155.2,773.8 C1156.7,774.2 1158.2,774.7 1159.8,775.1 C1161.3,775.5 1162.8,775.9 1164.3,776.4 C1165.9,776.8 1167.4,777.2 1168.9,777.6 C1170.5,778.0 1172.0,778.3 1173.5,778.7 C1175.1,779.1 1176.6,779.5 1178.1,779.8 C1179.6,780.2 1181.2,780.5 1182.7,780.9 C1184.2,781.2 1185.8,781.5 1187.3,781.9 C1188.8,782.2 1190.4,782.5 1191.9,782.8 C1193.4,783.1 1194.9,783.4 1196.5,783.7 C1198.0,784.0 1199.5,784.3 1201.1,784.5 C1202.6,784.8 1204.1,785.1 1205.7,785.3 C1207.2,785.6 1208.7,785.8 1210.2,786.0 C1211.8,786.3 1213.3,786.5 1214.8,786.7 C1216.4,786.9 1217.9,787.1 1219.4,787.3 C1221.0,787.5 1222.5,787.7 1224.0,787.9 C1225.5,788.0 1227.1,788.2 1228.6,788.4 C1230.1,788.5 1231.7,788.7 1233.2,788.8 C1234.7,789.0 1236.3,789.1 1237.8,789.2 C1239.3,789.3 1240.8,789.5 1242.4,789.6 C1243.9,789.7 1245.4,789.8 1247.0,789.8 C1248.5,789.9 1250.0,790.0 1251.6,790.1 C1253.1,790.1 1254.6,790.2 1256.1,790.3 C1257.7,790.3 1259.2,790.3 1260.7,790.4 C1262.3,790.4 1263.8,790.4 1265.3,790.4 C1266.9,790.5 1268.4,790.5 1269.9,790.5 C1271.4,790.5 1273.0,790.4 1274.5,790.4 C1276.0,790.4 1277.6,790.4 1279.1,790.3 C1280.6,790.3 1282.2,790.2 1283.7,790.2 C1285.2,790.1 1286.7,790.1 1288.3,790.0 C1289.8,789.9 1291.3,789.8 1292.9,789.7 C1294.4,789.6 1295.9,789.5 1297.5,789.4 C1299.0,789.3 1300.5,789.2 1302.0,789.0 C1303.6,788.9 1305.1,788.8 1306.6,788.6 C1308.2,788.5 1309.7,788.3 1311.2,788.1 C1312.8,788.0 1314.3,787.8 1315.8,787.6 C1317.3,787.4 1318.9,787.2 1320.4,787.0 C1321.9,786.8 1323.5,786.6 1325.0,786.4 C1326.5,786.2 1328.1,785.9 1329.6,785.7 C1331.1,785.5 1332.6,785.2 1334.2,785.0 C1335.7,784.7 1337.2,784.4 1338.8,784.2 C1340.3,783.9 1341.8,783.6 1343.4,783.3 C1344.9,783.0 1346.4,782.7 1347.9,782.4 C1349.5,782.1 1351.0,781.8 1352.5,781.4 C1354.1,781.1 1355.6,780.8 1357.1,780.4 C1358.7,780.1 1360.2,779.7 1361.7,779.3 C1363.2,779.0 1364.8,778.6 1366.3,778.2 C1367.8,777.8 1369.4,777.4 1370.9,777.0 C1372.4,776.6 1374.0,776.2 1375.5,775.8 C1377.0,775.4 1378.5,774.9 1380.1,774.5 C1381.6,774.1 1383.1,773.6 1384.7,773.1 C1386.2,772.7 1387.7,772.2 1389.3,771.7 C1390.8,771.3 1392.3,770.8 1393.8,770.3 C1395.4,769.8 1396.9,769.3 1398.4,768.8 C1400.0,768.3 1401.5,767.7 1403.0,767.2 C1404.6,766.7 1406.1,766.1 1407.6,765.6 C1409.1,765.1 1411.4,764.2 1412.2,763.9" fill="none" stroke="#1c76d5" stroke-width="3" stroke-linecap="round" stroke-linejoin="round"/>
<line x1="1096.5" y1="1016.5" x2="1096.5" y2="1029.3" stroke="#777" stroke-width="1.9"/>
<line x1="1106.7" y1="1016.5" x2="1106.7" y2="1029.3" stroke="#777" stroke-width="1.9"/>
<line x1="1116.9" y1="1016.5" x2="1116.9" y2="1029.3" stroke="#777" stroke-width="1.9"/>
<line x1="1127.1" y1="1016.5" x2="1127.1" y2="1029.3" stroke="#777" stroke-width="1.9"/>
<line x1="1137.3" y1="1016.5" x2="1137.3" y2="1029.3" stroke="#000" stroke-width="4.6"/>
<line x1="1147.6" y1="1016.5" x2="1147.6" y2="1029.3" stroke="#000" stroke-width="4.6"/>
<line x1="1157.8" y1="1016.5" x2="1157.8" y2="1029.3" stroke="#000" stroke-width="4.6"/>
<line x1="1168.0" y1="1016.5" x2="1168.0" y2="1029.3" stroke="#000" stroke-width="4.6"/>
<line x1="1178.2" y1="1016.5" x2="1178.2" y2="1029.3" stroke="#000" stroke-width="4.6"/>
<line x1="1188.4" y1="1016.5" x2="1188.4" y2="1029.3" stroke="#000" stroke-width="4.6"/>
<line x1="1198.7" y1="1016.5" x2="1198.7" y2="1029.3" stroke="#000" stroke-width="4.6"/>
<line x1="1208.9" y1="1016.5" x2="1208.9" y2="1029.3" stroke="#000" stroke-width="4.6"/>
<line x1="1219.1" y1="1016.5" x2="1219.1" y2="1029.3" stroke="#000" stroke-width="4.6"/>
<line x1="1229.3" y1="1016.5" x2="1229.3" y2="1029.3" stroke="#000" stroke-width="4.6"/>
<line x1="1239.5" y1="1016.5" x2="1239.5" y2="1029.3" stroke="#000" stroke-width="4.6"/>
<line x1="1249.8" y1="1016.5" x2="1249.8" y2="1029.3" stroke="#000" stroke-width="4.6"/>
<line x1="1260.0" y1="1016.5" x2="1260.0" y2="1029.3" stroke="#000" stroke-width="4.6"/>
<line x1="1270.2" y1="1016.5" x2="1270.2" y2="1029.3" stroke="#000" stroke-width="4.6"/>
<line x1="1280.4" y1="1016.5" x2="1280.4" y2="1029.3" stroke="#000" stroke-width="4.6"/>
<line x1="1290.6" y1="1016.5" x2="1290.6" y2="1029.3" stroke="#000" stroke-width="4.6"/>
<line x1="1300.9" y1="1016.5" x2="1300.9" y2="1029.3" stroke="#000" stroke-width="4.6"/>
<line x1="1311.1" y1="1016.5" x2="1311.1" y2="1029.3" stroke="#000" stroke-width="4.6"/>
<line x1="1321.3" y1="1016.5" x2="1321.3" y2="1029.3" stroke="#000" stroke-width="4.6"/>
<line x1="1331.5" y1="1016.5" x2="1331.5" y2="1029.3" stroke="#000" stroke-width="4.6"/>
<line x1="1341.7" y1="1016.5" x2="1341.7" y2="1029.3" stroke="#000" stroke-width="4.6"/>
<line x1="1352.0" y1="1016.5" x2="1352.0" y2="1029.3" stroke="#333" stroke-width="3.6"/>
<line x1="1362.2" y1="1016.5" x2="1362.2" y2="1029.3" stroke="#333" stroke-width="3.6"/>
<line x1="1372.4" y1="1016.5" x2="1372.4" y2="1029.3" stroke="#777" stroke-width="1.9"/>
<line x1="1413.3" y1="1016.5" x2="1413.3" y2="1029.3" stroke="#777" stroke-width="1.9"/>
<text x="1252.8" y="689.9" text-anchor="middle" style="font-size:19px;fill:#2a2a2a;stroke:#2a2a2a;stroke-width:0.25px">gest.age = 30</text>
<rect x="1422.5" y="676.3" width="329.5" height="14.0" fill="#f0f0f0"/>
<path d="M1428.5,705.1 C1429.3,705.8 1431.6,707.9 1433.1,709.3 C1434.6,710.7 1436.1,712.1 1437.7,713.4 C1439.2,714.8 1440.7,716.1 1442.3,717.4 C1443.8,718.7 1445.3,720.0 1446.9,721.3 C1448.4,722.5 1449.9,723.8 1451.4,725.0 C1453.0,726.2 1454.5,727.4 1456.0,728.6 C1457.6,729.8 1459.1,731.0 1460.6,732.1 C1462.2,733.2 1463.7,734.4 1465.2,735.5 C1466.7,736.6 1468.3,737.6 1469.8,738.7 C1471.3,739.8 1472.9,740.8 1474.4,741.8 C1475.9,742.8 1477.5,743.8 1479.0,744.8 C1480.5,745.8 1482.0,746.7 1483.6,747.7 C1485.1,748.6 1486.6,749.5 1488.2,750.4 C1489.7,751.3 1491.2,752.2 1492.8,753.1 C1494.3,753.9 1495.8,754.7 1497.3,755.6 C1498.9,756.4 1500.4,757.2 1501.9,757.9 C1503.5,758.7 1505.0,759.5 1506.5,760.2 C1508.1,760.9 1509.6,761.6 1511.1,762.3 C1512.6,763.0 1514.2,763.7 1515.7,764.4 C1517.2,765.0 1518.8,765.6 1520.3,766.3 C1521.8,766.9 1523.4,767.5 1524.9,768.0 C1526.4,768.6 1527.9,769.2 1529.5,769.7 C1531.0,770.2 1532.5,770.8 1534.1,771.3 C1535.6,771.8 1537.1,772.2 1538.7,772.7 C1540.2,773.2 1541.7,773.6 1543.2,774.0 C1544.8,774.5 1546.3,774.9 1547.8,775.3 C1549.4,775.7 1550.9,776.0 1552.4,776.4 C1554.0,776.8 1555.5,777.1 1557.0,777.4 C1558.5,777.7 1560.1,778.0 1561.6,778.3 C1563.1,778.6 1564.7,778.9 1566.2,779.2 C1567.7,779.4 1569.3,779.6 1570.8,779.9 C1572.3,780.1 1573.8,780.3 1575.4,780.5 C1576.9,780.6 1578.4,780.8 1580.0,780.9 C1581.5,781.1 1583.0,781.2 1584.6,781.2 C1586.1,781.3 1587.6,781.4 1589.1,781.4 C1590.7,781.4 1592.2,781.4 1593.7,781.3 C1595.3,781.2 1596.8,781.1 1598.3,781.0 C1599.9,780.9 1601.4,780.7 1602.9,780.5 C1604.4,780.3 1606.0,780.1 1607.5,779.9 C1609.0,779.7 1610.6,779.4 1612.1,779.1 C1613.6,778.9 1615.2,778.6 1616.7,778.2 C1618.2,777.9 1619.7,777.6 1621.3,777.2 C1622.8,776.9 1624.3,776.5 1625.9,776.1 C1627.4,775.7 1628.9,775.3 1630.5,774.8 C1632.0,774.4 1633.5,773.9 1635.0,773.5 C1636.6,773.0 1638.1,772.5 1639.6,772.0 C1641.2,771.5 1642.7,770.9 1644.2,770.4 C1645.8,769.8 1647.3,769.2 1648.8,768.6 C1650.3,768.0 1651.9,767.4 1653.4,766.8 C1654.9,766.2 1656.5,765.5 1658.0,764.8 C1659.5,764.1 1661.1,763.5 1662.6,762.7 C1664.1,762.0 1665.6,761.3 1667.2,760.5 C1668.7,759.8 1670.2,759.0 1671.8,758.2 C1673.3,757.4 1674.8,756.6 1676.4,755.7 C1677.9,754.9 1679.4,754.0 1680.9,753.2 C1682.5,752.3 1684.0,751.4 1685.5,750.5 C1687.1,749.5 1688.6,748.6 1690.1,747.6 C1691.7,746.7 1693.2,745.7 1694.7,744.7 C1696.2,743.7 1697.8,742.7 1699.3,741.6 C1700.8,740.6 1702.4,739.5 1703.9,738.4 C1705.4,737.3 1707.0,736.2 1708.5,735.1 C1710.0,734.0 1711.5,732.8 1713.1,731.7 C1714.6,730.5 1716.1,729.3 1717.7,728.1 C1719.2,726.9 1720.7,725.7 1722.3,724.4 C1723.8,723.2 1725.3,721.9 1726.8,720.6 C1728.4,719.3 1729.9,718.0 1731.4,716.7 C1733.0,715.3 1734.5,714.0 1736.0,712.6 C1737.6,711.2 1739.1,709.8 1740.6,708.4 C1742.1,707.0 1744.4,704.8 1745.2,704.1 L1745.2,771.3 C1744.4,771.5 1742.1,772.0 1740.6,772.3 C1739.1,772.6 1737.6,772.9 1736.0,773.2 C1734.5,773.5 1733.0,773.8 1731.4,774.1 C1729.9,774.4 1728.4,774.6 1726.8,774.9 C1725.3,775.2 1723.8,775.5 1722.3,775.7 C1720.7,776.0 1719.2,776.2 1717.7,776.5 C1716.1,776.7 1714.6,777.0 1713.1,777.2 C1711.5,777.5 1710.0,777.7 1708.5,777.9 C1707.0,778.2 1705.4,778.4 1703.9,778.6 C1702.4,778.8 1700.8,779.1 1699.3,779.3 C1697.8,779.5 1696.2,779.7 1694.7,779.9 C1693.2,780.1 1691.7,780.2 1690.1,780.4 C1688.6,780.6 1687.1,780.8 1685.5,781.0 C1684.0,781.1 1682.5,781.3 1680.9,781.5 C1679.4,781.6 1677.9,781.8 1676.4,781.9 C1674.8,782.1 1673.3,782.2 1671.8,782.4 C1670.2,782.5 1668.7,782.6 1667.2,782.7 C1665.6,782.9 1664.1,783.0 1662.6,783.1 C1661.1,783.2 1659.5,783.3 1658.0,783.4 C1656.5,783.5 1654.9,783.6 1653.4,783.7 C1651.9,783.8 1650.3,783.9 1648.8,783.9 C1647.3,784.0 1645.8,784.1 1644.2,784.1 C1642.7,784.2 1641.2,784.2 1639.6,784.3 C1638.1,784.3 1636.6,784.4 1635.0,784.4 C1633.5,784.5 1632.0,784.5 1630.5,784.5 C1628.9,784.5 1627.4,784.5 1625.9,784.6 C1624.3,784.6 1622.8,784.6 1621.3,784.6 C1619.7,784.6 1618.2,784.5 1616.7,784.5 C1615.2,784.5 1613.6,784.5 1612.1,784.5 C1610.6,784.4 1609.0,784.4 1607.5,784.4 C1606.0,784.3 1604.4,784.3 1602.9,784.2 C1601.4,784.2 1599.9,784.1 1598.3,784.1 C1596.8,784.1 1595.3,784.0 1593.7,784.0 C1592.2,784.0 1590.7,784.0 1589.1,783.9 C1587.6,783.9 1586.1,783.9 1584.6,783.9 C1583.0,783.9 1581.5,784.0 1580.0,784.0 C1578.4,784.0 1576.9,784.0 1575.4,784.0 C1573.8,784.0 1572.3,784.0 1570.8,784.0 C1569.3,784.0 1567.7,784.0 1566.2,783.9 C1564.7,783.9 1563.1,783.9 1561.6,783.8 C1560.1,783.8 1558.5,783.7 1557.0,783.7 C1555.5,783.6 1554.0,783.5 1552.4,783.5 C1550.9,783.4 1549.4,783.3 1547.8,783.2 C1546.3,783.1 1544.8,783.0 1543.2,782.9 C1541.7,782.7 1540.2,782.6 1538.7,782.5 C1537.1,782.4 1535.6,782.2 1534.1,782.1 C1532.5,781.9 1531.0,781.8 1529.5,781.6 C1527.9,781.4 1526.4,781.2 1524.9,781.1 C1523.4,780.9 1521.8,780.7 1520.3,780.5 C1518.8,780.3 1517.2,780.1 1515.7,779.9 C1514.2,779.7 1512.6,779.5 1511.1,779.3 C1509.6,779.0 1508.1,778.8 1506.5,778.6 C1505.0,778.3 1503.5,778.1 1501.9,777.9 C1500.4,777.6 1498.9,777.4 1497.3,777.1 C1495.8,776.8 1494.3,776.6 1492.8,776.3 C1491.2,776.0 1489.7,775.8 1488.2,775.5 C1486.6,775.2 1485.1,774.9 1483.6,774.6 C1482.0,774.3 1480.5,774.0 1479.0,773.7 C1477.5,773.4 1475.9,773.1 1474.4,772.8 C1472.9,772.5 1471.3,772.1 1469.8,771.8 C1468.3,771.5 1466.7,771.1 1465.2,770.8 C1463.7,770.5 1462.2,770.1 1460.6,769.8 C1459.1,769.4 1457.6,769.0 1456.0,768.7 C1454.5,768.3 1453.0,767.9 1451.4,767.6 C1449.9,767.2 1448.4,766.8 1446.9,766.4 C1445.3,766.0 1443.8,765.7 1442.3,765.3 C1440.7,764.9 1439.2,764.5 1437.7,764.1 C1436.1,763.6 1434.6,763.2 1433.1,762.8 C1431.6,762.4 1429.3,761.7 1428.5,761.5 Z" fill="#d6e7fa"/>
<path d="M1428.5,733.3 C1429.3,733.8 1431.6,735.1 1433.1,736.1 C1434.6,737.0 1436.1,737.8 1437.7,738.7 C1439.2,739.6 1440.7,740.5 1442.3,741.3 C1443.8,742.2 1445.3,743.0 1446.9,743.8 C1448.4,744.7 1449.9,745.5 1451.4,746.3 C1453.0,747.1 1454.5,747.9 1456.0,748.6 C1457.6,749.4 1459.1,750.2 1460.6,750.9 C1462.2,751.7 1463.7,752.4 1465.2,753.1 C1466.7,753.9 1468.3,754.6 1469.8,755.3 C1471.3,755.9 1472.9,756.6 1474.4,757.3 C1475.9,758.0 1477.5,758.6 1479.0,759.3 C1480.5,759.9 1482.0,760.5 1483.6,761.1 C1485.1,761.8 1486.6,762.4 1488.2,763.0 C1489.7,763.5 1491.2,764.1 1492.8,764.7 C1494.3,765.2 1495.8,765.8 1497.3,766.3 C1498.9,766.9 1500.4,767.4 1501.9,767.9 C1503.5,768.4 1505.0,768.9 1506.5,769.4 C1508.1,769.9 1509.6,770.3 1511.1,770.8 C1512.6,771.3 1514.2,771.7 1515.7,772.1 C1517.2,772.6 1518.8,773.0 1520.3,773.4 C1521.8,773.8 1523.4,774.2 1524.9,774.6 C1526.4,774.9 1527.9,775.3 1529.5,775.6 C1531.0,776.0 1532.5,776.3 1534.1,776.7 C1535.6,777.0 1537.1,777.3 1538.7,777.6 C1540.2,777.9 1541.7,778.2 1543.2,778.5 C1544.8,778.7 1546.3,779.0 1547.8,779.2 C1549.4,779.5 1550.9,779.7 1552.4,779.9 C1554.0,780.1 1555.5,780.4 1557.0,780.5 C1558.5,780.7 1560.1,780.9 1561.6,781.1 C1563.1,781.3 1564.7,781.4 1566.2,781.5 C1567.7,781.7 1569.3,781.8 1570.8,781.9 C1572.3,782.0 1573.8,782.1 1575.4,782.2 C1576.9,782.3 1578.4,782.4 1580.0,782.5 C1581.5,782.5 1583.0,782.6 1584.6,782.6 C1586.1,782.6 1587.6,782.7 1589.1,782.7 C1590.7,782.7 1592.2,782.7 1593.7,782.6 C1595.3,782.6 1596.8,782.6 1598.3,782.6 C1599.9,782.5 1601.4,782.4 1602.9,782.4 C1604.4,782.3 1606.0,782.2 1607.5,782.1 C1609.0,782.0 1610.6,781.9 1612.1,781.8 C1613.6,781.7 1615.2,781.5 1616.7,781.4 C1618.2,781.2 1619.7,781.1 1621.3,780.9 C1622.8,780.7 1624.3,780.5 1625.9,780.3 C1627.4,780.1 1628.9,779.9 1630.5,779.7 C1632.0,779.4 1633.5,779.2 1635.0,778.9 C1636.6,778.7 1638.1,778.4 1639.6,778.1 C1641.2,777.9 1642.7,777.6 1644.2,777.3 C1645.8,776.9 1647.3,776.6 1648.8,776.3 C1650.3,776.0 1651.9,775.6 1653.4,775.2 C1654.9,774.9 1656.5,774.5 1658.0,774.1 C1659.5,773.7 1661.1,773.3 1662.6,772.9 C1664.1,772.5 1665.6,772.1 1667.2,771.6 C1668.7,771.2 1670.2,770.7 1671.8,770.3 C1673.3,769.8 1674.8,769.3 1676.4,768.8 C1677.9,768.3 1679.4,767.8 1680.9,767.3 C1682.5,766.8 1684.0,766.3 1685.5,765.7 C1687.1,765.2 1688.6,764.6 1690.1,764.0 C1691.7,763.5 1693.2,762.9 1694.7,762.3 C1696.2,761.7 1697.8,761.1 1699.3,760.4 C1700.8,759.8 1702.4,759.2 1703.9,758.5 C1705.4,757.9 1707.0,757.2 1708.5,756.5 C1710.0,755.9 1711.5,755.2 1713.1,754.5 C1714.6,753.7 1716.1,753.0 1717.7,752.3 C1719.2,751.6 1720.7,750.8 1722.3,750.1 C1723.8,749.3 1725.3,748.5 1726.8,747.8 C1728.4,747.0 1729.9,746.2 1731.4,745.4 C1733.0,744.6 1734.5,743.7 1736.0,742.9 C1737.6,742.1 1739.1,741.2 1740.6,740.3 C1742.1,739.5 1744.4,738.2 1745.2,737.7" fill="none" stroke="#1c76d5" stroke-width="3" stroke-linecap="round" stroke-linejoin="round"/>
<line x1="1429.1" y1="1016.5" x2="1429.1" y2="1029.3" stroke="#777" stroke-width="1.9"/>
<line x1="1439.3" y1="1016.5" x2="1439.3" y2="1029.3" stroke="#777" stroke-width="1.9"/>
<line x1="1449.5" y1="1016.5" x2="1449.5" y2="1029.3" stroke="#777" stroke-width="1.9"/>
<line x1="1459.7" y1="1016.5" x2="1459.7" y2="1029.3" stroke="#777" stroke-width="1.9"/>
<line x1="1469.9" y1="1016.5" x2="1469.9" y2="1029.3" stroke="#000" stroke-width="4.6"/>
<line x1="1480.2" y1="1016.5" x2="1480.2" y2="1029.3" stroke="#000" stroke-width="4.6"/>
<line x1="1490.4" y1="1016.5" x2="1490.4" y2="1029.3" stroke="#000" stroke-width="4.6"/>
<line x1="1500.6" y1="1016.5" x2="1500.6" y2="1029.3" stroke="#000" stroke-width="4.6"/>
<line x1="1510.8" y1="1016.5" x2="1510.8" y2="1029.3" stroke="#000" stroke-width="4.6"/>
<line x1="1521.0" y1="1016.5" x2="1521.0" y2="1029.3" stroke="#000" stroke-width="4.6"/>
<line x1="1531.3" y1="1016.5" x2="1531.3" y2="1029.3" stroke="#000" stroke-width="4.6"/>
<line x1="1541.5" y1="1016.5" x2="1541.5" y2="1029.3" stroke="#000" stroke-width="4.6"/>
<line x1="1551.7" y1="1016.5" x2="1551.7" y2="1029.3" stroke="#000" stroke-width="4.6"/>
<line x1="1561.9" y1="1016.5" x2="1561.9" y2="1029.3" stroke="#000" stroke-width="4.6"/>
<line x1="1572.1" y1="1016.5" x2="1572.1" y2="1029.3" stroke="#000" stroke-width="4.6"/>
<line x1="1582.4" y1="1016.5" x2="1582.4" y2="1029.3" stroke="#000" stroke-width="4.6"/>
<line x1="1592.6" y1="1016.5" x2="1592.6" y2="1029.3" stroke="#000" stroke-width="4.6"/>
<line x1="1602.8" y1="1016.5" x2="1602.8" y2="1029.3" stroke="#000" stroke-width="4.6"/>
<line x1="1613.0" y1="1016.5" x2="1613.0" y2="1029.3" stroke="#000" stroke-width="4.6"/>
<line x1="1623.2" y1="1016.5" x2="1623.2" y2="1029.3" stroke="#000" stroke-width="4.6"/>
<line x1="1633.5" y1="1016.5" x2="1633.5" y2="1029.3" stroke="#000" stroke-width="4.6"/>
<line x1="1643.7" y1="1016.5" x2="1643.7" y2="1029.3" stroke="#000" stroke-width="4.6"/>
<line x1="1653.9" y1="1016.5" x2="1653.9" y2="1029.3" stroke="#000" stroke-width="4.6"/>
<line x1="1664.1" y1="1016.5" x2="1664.1" y2="1029.3" stroke="#000" stroke-width="4.6"/>
<line x1="1674.3" y1="1016.5" x2="1674.3" y2="1029.3" stroke="#000" stroke-width="4.6"/>
<line x1="1684.6" y1="1016.5" x2="1684.6" y2="1029.3" stroke="#333" stroke-width="3.6"/>
<line x1="1694.8" y1="1016.5" x2="1694.8" y2="1029.3" stroke="#333" stroke-width="3.6"/>
<line x1="1705.0" y1="1016.5" x2="1705.0" y2="1029.3" stroke="#777" stroke-width="1.9"/>
<line x1="1745.9" y1="1016.5" x2="1745.9" y2="1029.3" stroke="#777" stroke-width="1.9"/>
<text x="1586.2" y="689.9" text-anchor="middle" style="font-size:19px;fill:#2a2a2a;stroke:#2a2a2a;stroke-width:0.25px">gest.age = 40</text>
<g stroke="#646464" stroke-width="2.0" fill="none">
<rect x="87.1" y="671.8" width="1666.9" height="357.5"/>
<line x1="87.1" y1="693.8" x2="1754.0" y2="693.8"/>
<line x1="421.6" y1="671.8" x2="421.6" y2="1029.3"/>
<line x1="754.3" y1="671.8" x2="754.3" y2="1029.3"/>
<line x1="1087.2" y1="671.8" x2="1087.2" y2="1029.3"/>
<line x1="1420.5" y1="671.8" x2="1420.5" y2="1029.3"/>
<line x1="78.6" y1="1007.1" x2="87.1" y2="1007.1"/>
<line x1="1754.0" y1="1007.1" x2="1762.5" y2="1007.1"/>
<line x1="78.6" y1="955.9" x2="87.1" y2="955.9"/>
<line x1="1754.0" y1="955.9" x2="1762.5" y2="955.9"/>
<line x1="78.6" y1="904.6" x2="87.1" y2="904.6"/>
<line x1="1754.0" y1="904.6" x2="1762.5" y2="904.6"/>
<line x1="78.6" y1="853.4" x2="87.1" y2="853.4"/>
<line x1="1754.0" y1="853.4" x2="1762.5" y2="853.4"/>
<line x1="78.6" y1="802.2" x2="87.1" y2="802.2"/>
<line x1="1754.0" y1="802.2" x2="1762.5" y2="802.2"/>
<line x1="78.6" y1="750.9" x2="87.1" y2="750.9"/>
<line x1="1754.0" y1="750.9" x2="1762.5" y2="750.9"/>
<line x1="78.6" y1="699.7" x2="87.1" y2="699.7"/>
<line x1="1754.0" y1="699.7" x2="1762.5" y2="699.7"/>
<line x1="116.4" y1="663.3" x2="116.4" y2="671.8"/>
<line x1="116.4" y1="1029.3" x2="116.4" y2="1037.8"/>
<line x1="167.5" y1="663.3" x2="167.5" y2="671.8"/>
<line x1="167.5" y1="1029.3" x2="167.5" y2="1037.8"/>
<line x1="218.6" y1="663.3" x2="218.6" y2="671.8"/>
<line x1="218.6" y1="1029.3" x2="218.6" y2="1037.8"/>
<line x1="269.7" y1="663.3" x2="269.7" y2="671.8"/>
<line x1="269.7" y1="1029.3" x2="269.7" y2="1037.8"/>
<line x1="320.8" y1="663.3" x2="320.8" y2="671.8"/>
<line x1="320.8" y1="1029.3" x2="320.8" y2="1037.8"/>
<line x1="371.9" y1="663.3" x2="371.9" y2="671.8"/>
<line x1="371.9" y1="1029.3" x2="371.9" y2="1037.8"/>
<line x1="449.7" y1="663.3" x2="449.7" y2="671.8"/>
<line x1="449.7" y1="1029.3" x2="449.7" y2="1037.8"/>
<line x1="500.8" y1="663.3" x2="500.8" y2="671.8"/>
<line x1="500.8" y1="1029.3" x2="500.8" y2="1037.8"/>
<line x1="551.9" y1="663.3" x2="551.9" y2="671.8"/>
<line x1="551.9" y1="1029.3" x2="551.9" y2="1037.8"/>
<line x1="603.0" y1="663.3" x2="603.0" y2="671.8"/>
<line x1="603.0" y1="1029.3" x2="603.0" y2="1037.8"/>
<line x1="654.1" y1="663.3" x2="654.1" y2="671.8"/>
<line x1="654.1" y1="1029.3" x2="654.1" y2="1037.8"/>
<line x1="705.2" y1="663.3" x2="705.2" y2="671.8"/>
<line x1="705.2" y1="1029.3" x2="705.2" y2="1037.8"/>
<line x1="783.5" y1="663.3" x2="783.5" y2="671.8"/>
<line x1="783.5" y1="1029.3" x2="783.5" y2="1037.8"/>
<line x1="834.6" y1="663.3" x2="834.6" y2="671.8"/>
<line x1="834.6" y1="1029.3" x2="834.6" y2="1037.8"/>
<line x1="885.7" y1="663.3" x2="885.7" y2="671.8"/>
<line x1="885.7" y1="1029.3" x2="885.7" y2="1037.8"/>
<line x1="936.8" y1="663.3" x2="936.8" y2="671.8"/>
<line x1="936.8" y1="1029.3" x2="936.8" y2="1037.8"/>
<line x1="987.9" y1="663.3" x2="987.9" y2="671.8"/>
<line x1="987.9" y1="1029.3" x2="987.9" y2="1037.8"/>
<line x1="1039.0" y1="663.3" x2="1039.0" y2="671.8"/>
<line x1="1039.0" y1="1029.3" x2="1039.0" y2="1037.8"/>
<line x1="1116.9" y1="663.3" x2="1116.9" y2="671.8"/>
<line x1="1116.9" y1="1029.3" x2="1116.9" y2="1037.8"/>
<line x1="1168.0" y1="663.3" x2="1168.0" y2="671.8"/>
<line x1="1168.0" y1="1029.3" x2="1168.0" y2="1037.8"/>
<line x1="1219.1" y1="663.3" x2="1219.1" y2="671.8"/>
<line x1="1219.1" y1="1029.3" x2="1219.1" y2="1037.8"/>
<line x1="1270.2" y1="663.3" x2="1270.2" y2="671.8"/>
<line x1="1270.2" y1="1029.3" x2="1270.2" y2="1037.8"/>
<line x1="1321.3" y1="663.3" x2="1321.3" y2="671.8"/>
<line x1="1321.3" y1="1029.3" x2="1321.3" y2="1037.8"/>
<line x1="1372.4" y1="663.3" x2="1372.4" y2="671.8"/>
<line x1="1372.4" y1="1029.3" x2="1372.4" y2="1037.8"/>
<line x1="1449.5" y1="663.3" x2="1449.5" y2="671.8"/>
<line x1="1449.5" y1="1029.3" x2="1449.5" y2="1037.8"/>
<line x1="1500.6" y1="663.3" x2="1500.6" y2="671.8"/>
<line x1="1500.6" y1="1029.3" x2="1500.6" y2="1037.8"/>
<line x1="1551.7" y1="663.3" x2="1551.7" y2="671.8"/>
<line x1="1551.7" y1="1029.3" x2="1551.7" y2="1037.8"/>
<line x1="1602.8" y1="663.3" x2="1602.8" y2="671.8"/>
<line x1="1602.8" y1="1029.3" x2="1602.8" y2="1037.8"/>
<line x1="1653.9" y1="663.3" x2="1653.9" y2="671.8"/>
<line x1="1653.9" y1="1029.3" x2="1653.9" y2="1037.8"/>
<line x1="1705.0" y1="663.3" x2="1705.0" y2="671.8"/>
<line x1="1705.0" y1="1029.3" x2="1705.0" y2="1037.8"/>
</g>
<text x="70" y="1015.5" text-anchor="end" style="font-size:20px">50</text>
<text x="70" y="964.3" text-anchor="end" style="font-size:20px">60</text>
<text x="70" y="913.0" text-anchor="end" style="font-size:20px">70</text>
<text x="70" y="861.8" text-anchor="end" style="font-size:20px">80</text>
<text x="70" y="810.6" text-anchor="end" style="font-size:20px">90</text>
<text x="70" y="759.3" text-anchor="end" style="font-size:20px">100</text>
<text x="70" y="708.1" text-anchor="end" style="font-size:20px">110</text>
<text x="116.0" y="1062.5" text-anchor="middle" style="font-size:20px">20</text>
<text x="167.1" y="1062.5" text-anchor="middle" style="font-size:20px">25</text>
<text x="218.2" y="1062.5" text-anchor="middle" style="font-size:20px">30</text>
<text x="269.3" y="1062.5" text-anchor="middle" style="font-size:20px">35</text>
<text x="320.4" y="1062.5" text-anchor="middle" style="font-size:20px">40</text>
<text x="371.5" y="1062.5" text-anchor="middle" style="font-size:20px">45</text>
<text x="449.3" y="654.7" text-anchor="middle" style="font-size:20px">20</text>
<text x="500.4" y="654.7" text-anchor="middle" style="font-size:20px">25</text>
<text x="551.5" y="654.7" text-anchor="middle" style="font-size:20px">30</text>
<text x="602.6" y="654.7" text-anchor="middle" style="font-size:20px">35</text>
<text x="653.7" y="654.7" text-anchor="middle" style="font-size:20px">40</text>
<text x="704.8" y="654.7" text-anchor="middle" style="font-size:20px">45</text>
<text x="783.1" y="1062.5" text-anchor="middle" style="font-size:20px">20</text>
<text x="834.2" y="1062.5" text-anchor="middle" style="font-size:20px">25</text>
<text x="885.3" y="1062.5" text-anchor="middle" style="font-size:20px">30</text>
<text x="936.4" y="1062.5" text-anchor="middle" style="font-size:20px">35</text>
<text x="987.5" y="1062.5" text-anchor="middle" style="font-size:20px">40</text>
<text x="1038.6" y="1062.5" text-anchor="middle" style="font-size:20px">45</text>
<text x="1116.5" y="654.7" text-anchor="middle" style="font-size:20px">20</text>
<text x="1167.6" y="654.7" text-anchor="middle" style="font-size:20px">25</text>
<text x="1218.7" y="654.7" text-anchor="middle" style="font-size:20px">30</text>
<text x="1269.8" y="654.7" text-anchor="middle" style="font-size:20px">35</text>
<text x="1320.9" y="654.7" text-anchor="middle" style="font-size:20px">40</text>
<text x="1372.0" y="654.7" text-anchor="middle" style="font-size:20px">45</text>
<text x="1449.1" y="1062.5" text-anchor="middle" style="font-size:20px">20</text>
<text x="1500.2" y="1062.5" text-anchor="middle" style="font-size:20px">25</text>
<text x="1551.3" y="1062.5" text-anchor="middle" style="font-size:20px">30</text>
<text x="1602.4" y="1062.5" text-anchor="middle" style="font-size:20px">35</text>
<text x="1653.5" y="1062.5" text-anchor="middle" style="font-size:20px">40</text>
<text x="1704.6" y="1062.5" text-anchor="middle" style="font-size:20px">45</text>
<text x="920.3" y="1095.4" text-anchor="middle" style="font-size:19px">age</text>
<text transform="translate(19.8,861.5) rotate(-90)" text-anchor="middle" style="font-size:19px">mfas</text>
</svg></div></body></html>
